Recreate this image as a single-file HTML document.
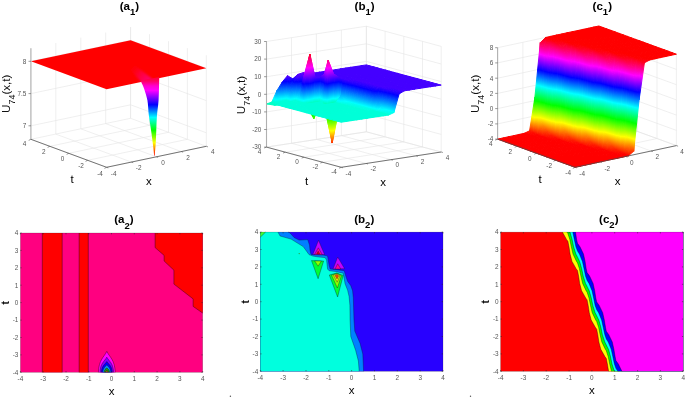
<!DOCTYPE html>
<html><head><meta charset="utf-8"><style>
html,body{margin:0;padding:0;background:#fff;}
svg{display:block;font-family:"Liberation Sans",sans-serif;will-change:transform;}
</style></head><body>
<svg width="685" height="398" viewBox="0 0 685 398">
<defs><linearGradient id="fun" gradientUnits="userSpaceOnUse" x1="0" y1="72" x2="0" y2="155.4"><stop offset="0.0000" stop-color="#ff0000"/><stop offset="0.1079" stop-color="#ff0060"/><stop offset="0.1679" stop-color="#ff00d0"/><stop offset="0.2218" stop-color="#ff00ff"/><stop offset="0.3921" stop-color="#0000ff"/><stop offset="0.5444" stop-color="#00ffff"/><stop offset="0.6966" stop-color="#00ff00"/><stop offset="0.8477" stop-color="#ffff00"/><stop offset="1.0000" stop-color="#ff0000"/></linearGradient><linearGradient id="str" gradientUnits="userSpaceOnUse" x1="130" y1="65" x2="148" y2="81"><stop offset="0" stop-color="#ff0000" stop-opacity="0"/><stop offset="0.5" stop-color="#ff0030"/><stop offset="1" stop-color="#ff0070"/></linearGradient><filter id="blr" x="-50%" y="-50%" width="200%" height="200%"><feGaussianBlur stdDeviation="1.3"/></filter><clipPath id="pcl"><polygon points="30.9,61.3 130.6,40.3 206.3,68.3 106.6,89.3"/></clipPath><linearGradient id="g1" gradientUnits="userSpaceOnUse" x1="307.2" y1="75.6" x2="303.2" y2="72.8"><stop offset="0.000" stop-color="#4400ff"/><stop offset="1.000" stop-color="#6400ff"/></linearGradient><linearGradient id="g2" gradientUnits="userSpaceOnUse" x1="302" y1="76.5" x2="302" y2="72.6"><stop offset="0.000" stop-color="#4400ff"/><stop offset="1.000" stop-color="#6400ff"/></linearGradient><linearGradient id="g3" gradientUnits="userSpaceOnUse" x1="302" y1="76.5" x2="301.4" y2="72.9"><stop offset="0.000" stop-color="#4400ff"/><stop offset="1.000" stop-color="#6400ff"/></linearGradient><linearGradient id="g4" gradientUnits="userSpaceOnUse" x1="292.7" y1="78.3" x2="298.6" y2="77"><stop offset="0.000" stop-color="#1800ff"/><stop offset="1.000" stop-color="#5600ff"/></linearGradient><linearGradient id="g5" gradientUnits="userSpaceOnUse" x1="296.7" y1="77.4" x2="296.4" y2="74.5"><stop offset="0.000" stop-color="#4200ff"/><stop offset="1.000" stop-color="#5600ff"/></linearGradient><linearGradient id="g6" gradientUnits="userSpaceOnUse" x1="306.2" y1="75.8" x2="305.9" y2="74"><stop offset="0.000" stop-color="#4400ff"/><stop offset="1.000" stop-color="#7f00ff"/></linearGradient><linearGradient id="g7" gradientUnits="userSpaceOnUse" x1="305.6" y1="75.2" x2="305.9" y2="74"><stop offset="0.000" stop-color="#4400ff"/><stop offset="1.000" stop-color="#7f00ff"/></linearGradient><linearGradient id="g8" gradientUnits="userSpaceOnUse" x1="324.6" y1="76.3" x2="324.3" y2="74.5"><stop offset="0.000" stop-color="#4400ff"/><stop offset="1.000" stop-color="#7f00ff"/></linearGradient><linearGradient id="g9" gradientUnits="userSpaceOnUse" x1="291.5" y1="85.9" x2="287.8" y2="75.6"><stop offset="0.000" stop-color="#003fff"/><stop offset="0.410" stop-color="#0000ff"/><stop offset="1.000" stop-color="#5a00ff"/></linearGradient><linearGradient id="g10" gradientUnits="userSpaceOnUse" x1="324" y1="75.7" x2="324.3" y2="74.5"><stop offset="0.000" stop-color="#4400ff"/><stop offset="1.000" stop-color="#7f00ff"/></linearGradient><linearGradient id="g11" gradientUnits="userSpaceOnUse" x1="291.5" y1="85.9" x2="296.6" y2="77.3"><stop offset="0.000" stop-color="#003fff"/><stop offset="0.487" stop-color="#0000ff"/><stop offset="1.000" stop-color="#4200ff"/></linearGradient><linearGradient id="g12" gradientUnits="userSpaceOnUse" x1="333.9" y1="76.6" x2="333.5" y2="73.9"><stop offset="0.000" stop-color="#4400ff"/><stop offset="1.000" stop-color="#8d00ff"/></linearGradient><linearGradient id="g13" gradientUnits="userSpaceOnUse" x1="300.7" y1="87.8" x2="299" y2="76.9"><stop offset="0.000" stop-color="#0059ff"/><stop offset="0.566" stop-color="#0000ff"/><stop offset="1.000" stop-color="#4400ff"/></linearGradient><linearGradient id="g14" gradientUnits="userSpaceOnUse" x1="333" y1="75.9" x2="333.5" y2="73.9"><stop offset="0.000" stop-color="#4400ff"/><stop offset="1.000" stop-color="#8d00ff"/></linearGradient><linearGradient id="g15" gradientUnits="userSpaceOnUse" x1="300.7" y1="87.8" x2="307.3" y2="74.7"><stop offset="0.000" stop-color="#0059ff"/><stop offset="0.412" stop-color="#0000ff"/><stop offset="1.000" stop-color="#7f00ff"/></linearGradient><linearGradient id="g16" gradientUnits="userSpaceOnUse" x1="312.2" y1="76.6" x2="309.9" y2="54.3"><stop offset="0.000" stop-color="#4400ff"/><stop offset="0.463" stop-color="#ff00ff"/><stop offset="1.000" stop-color="#ff0026"/></linearGradient><linearGradient id="g17" gradientUnits="userSpaceOnUse" x1="304.2" y1="74.9" x2="309.9" y2="54.3"><stop offset="0.000" stop-color="#4200ff"/><stop offset="0.465" stop-color="#ff00ff"/><stop offset="1.000" stop-color="#ff0026"/></linearGradient><linearGradient id="g18" gradientUnits="userSpaceOnUse" x1="319.1" y1="107" x2="314.6" y2="77.8"><stop offset="0.000" stop-color="#00ff6e"/><stop offset="0.309" stop-color="#00ffff"/><stop offset="0.854" stop-color="#0000ff"/><stop offset="1.000" stop-color="#4400ff"/></linearGradient><linearGradient id="g19" gradientUnits="userSpaceOnUse" x1="286.2" y1="100.3" x2="284.5" y2="75.9"><stop offset="0.000" stop-color="#00ffde"/><stop offset="0.088" stop-color="#00ffff"/><stop offset="0.762" stop-color="#0000ff"/><stop offset="1.000" stop-color="#5a00ff"/></linearGradient><linearGradient id="g20" gradientUnits="userSpaceOnUse" x1="319.1" y1="107" x2="329.6" y2="76.3"><stop offset="0.000" stop-color="#00ff6e"/><stop offset="0.275" stop-color="#00ffff"/><stop offset="0.759" stop-color="#0000ff"/><stop offset="1.000" stop-color="#7f00ff"/></linearGradient><linearGradient id="g21" gradientUnits="userSpaceOnUse" x1="286.2" y1="100.3" x2="287.9" y2="75.7"><stop offset="0.000" stop-color="#00ffde"/><stop offset="0.088" stop-color="#00ffff"/><stop offset="0.762" stop-color="#0000ff"/><stop offset="1.000" stop-color="#5a00ff"/></linearGradient><linearGradient id="g22" gradientUnits="userSpaceOnUse" x1="329.8" y1="77.2" x2="328.2" y2="60.4"><stop offset="0.000" stop-color="#4400ff"/><stop offset="0.602" stop-color="#ff00ff"/><stop offset="1.000" stop-color="#ff0084"/></linearGradient><linearGradient id="g23" gradientUnits="userSpaceOnUse" x1="295.4" y1="100.7" x2="294.8" y2="77.4"><stop offset="0.000" stop-color="#00ffdc"/><stop offset="0.098" stop-color="#00ffff"/><stop offset="0.814" stop-color="#0000ff"/><stop offset="1.000" stop-color="#4200ff"/></linearGradient><linearGradient id="g24" gradientUnits="userSpaceOnUse" x1="325.9" y1="76.7" x2="328.2" y2="60.4"><stop offset="0.000" stop-color="#4400ff"/><stop offset="0.602" stop-color="#ff00ff"/><stop offset="1.000" stop-color="#ff0084"/></linearGradient><linearGradient id="g25" gradientUnits="userSpaceOnUse" x1="295.4" y1="100.7" x2="296.7" y2="77.4"><stop offset="0.000" stop-color="#00ffdc"/><stop offset="0.098" stop-color="#00ffff"/><stop offset="0.814" stop-color="#0000ff"/><stop offset="1.000" stop-color="#4200ff"/></linearGradient><linearGradient id="g26" gradientUnits="userSpaceOnUse" x1="337.4" y1="116.3" x2="329.5" y2="74.6"><stop offset="0.000" stop-color="#24ff00"/><stop offset="0.052" stop-color="#00ff00"/><stop offset="0.423" stop-color="#00ffff"/><stop offset="0.794" stop-color="#0000ff"/><stop offset="1.000" stop-color="#8d00ff"/></linearGradient><linearGradient id="g27" gradientUnits="userSpaceOnUse" x1="309.5" y1="79.2" x2="304.6" y2="74.1"><stop offset="0.000" stop-color="#0059ff"/><stop offset="0.363" stop-color="#0000ff"/><stop offset="1.000" stop-color="#9c00ff"/></linearGradient><linearGradient id="g28" gradientUnits="userSpaceOnUse" x1="337.4" y1="116.3" x2="347.3" y2="79.8"><stop offset="0.000" stop-color="#24ff00"/><stop offset="0.059" stop-color="#00ff00"/><stop offset="0.474" stop-color="#00ffff"/><stop offset="0.889" stop-color="#0000ff"/><stop offset="1.000" stop-color="#4400ff"/></linearGradient><linearGradient id="g29" gradientUnits="userSpaceOnUse" x1="305.3" y1="74.7" x2="297.5" y2="67.5"><stop offset="0.000" stop-color="#7f00ff"/><stop offset="0.371" stop-color="#ff00ff"/><stop offset="1.000" stop-color="#ff0026"/></linearGradient><linearGradient id="g30" gradientUnits="userSpaceOnUse" x1="313.8" y1="118.4" x2="294.5" y2="59.3"><stop offset="0.000" stop-color="#41ff00"/><stop offset="0.062" stop-color="#00ff00"/><stop offset="0.306" stop-color="#00ffff"/><stop offset="0.549" stop-color="#0000ff"/><stop offset="0.793" stop-color="#ff00ff"/><stop offset="1.000" stop-color="#ff0026"/></linearGradient><linearGradient id="g31" gradientUnits="userSpaceOnUse" x1="281" y1="101.5" x2="281" y2="82"><stop offset="0.000" stop-color="#00ffd8"/><stop offset="0.135" stop-color="#00ffff"/><stop offset="1.000" stop-color="#0002ff"/></linearGradient><linearGradient id="g32" gradientUnits="userSpaceOnUse" x1="313.8" y1="118.4" x2="311.4" y2="78.1"><stop offset="0.000" stop-color="#41ff00"/><stop offset="0.102" stop-color="#00ff00"/><stop offset="0.499" stop-color="#00ffff"/><stop offset="0.897" stop-color="#0000ff"/><stop offset="1.000" stop-color="#4200ff"/></linearGradient><linearGradient id="g33" gradientUnits="userSpaceOnUse" x1="281" y1="101.5" x2="278.2" y2="82.6"><stop offset="0.000" stop-color="#00ffd8"/><stop offset="0.135" stop-color="#00ffff"/><stop offset="1.000" stop-color="#0002ff"/></linearGradient><linearGradient id="g34" gradientUnits="userSpaceOnUse" x1="320.3" y1="107.5" x2="333" y2="78.3"><stop offset="0.000" stop-color="#00ff6e"/><stop offset="0.275" stop-color="#00ffff"/><stop offset="0.759" stop-color="#0000ff"/><stop offset="1.000" stop-color="#7f00ff"/></linearGradient><linearGradient id="g35" gradientUnits="userSpaceOnUse" x1="290.1" y1="101.8" x2="294" y2="86.6"><stop offset="0.000" stop-color="#00ffd8"/><stop offset="0.170" stop-color="#00ffff"/><stop offset="1.000" stop-color="#003fff"/></linearGradient><linearGradient id="g36" gradientUnits="userSpaceOnUse" x1="323" y1="101.4" x2="343.9" y2="71.4"><stop offset="0.000" stop-color="#00ffdd"/><stop offset="0.051" stop-color="#00ffff"/><stop offset="0.433" stop-color="#0000ff"/><stop offset="0.815" stop-color="#ff00ff"/><stop offset="1.000" stop-color="#ff0084"/></linearGradient><linearGradient id="g37" gradientUnits="userSpaceOnUse" x1="290.1" y1="101.8" x2="287.9" y2="86.5"><stop offset="0.000" stop-color="#00ffd8"/><stop offset="0.170" stop-color="#00ffff"/><stop offset="1.000" stop-color="#003fff"/></linearGradient><linearGradient id="g38" gradientUnits="userSpaceOnUse" x1="332.2" y1="142.8" x2="314.9" y2="63.3"><stop offset="0.000" stop-color="#ff2f00"/><stop offset="0.154" stop-color="#ffff00"/><stop offset="0.343" stop-color="#00ff00"/><stop offset="0.531" stop-color="#00ffff"/><stop offset="0.720" stop-color="#0000ff"/><stop offset="0.909" stop-color="#ff00ff"/><stop offset="1.000" stop-color="#ff0084"/></linearGradient><linearGradient id="g39" gradientUnits="userSpaceOnUse" x1="299.3" y1="102" x2="302.9" y2="88.3"><stop offset="0.000" stop-color="#00ffd8"/><stop offset="0.192" stop-color="#00ffff"/><stop offset="1.000" stop-color="#0059ff"/></linearGradient><linearGradient id="g40" gradientUnits="userSpaceOnUse" x1="332.2" y1="142.8" x2="330.9" y2="73.9"><stop offset="0.000" stop-color="#ff2f00"/><stop offset="0.187" stop-color="#ffff00"/><stop offset="0.416" stop-color="#00ff00"/><stop offset="0.644" stop-color="#00ffff"/><stop offset="0.873" stop-color="#0000ff"/><stop offset="1.000" stop-color="#8d00ff"/></linearGradient><linearGradient id="g41" gradientUnits="userSpaceOnUse" x1="299.3" y1="102" x2="316" y2="90"><stop offset="0.000" stop-color="#00ffd8"/><stop offset="0.088" stop-color="#00ffff"/><stop offset="0.654" stop-color="#0000ff"/><stop offset="1.000" stop-color="#9c00ff"/></linearGradient><linearGradient id="g42" gradientUnits="userSpaceOnUse" x1="329.8" y1="100.7" x2="348.9" y2="91.4"><stop offset="0.000" stop-color="#24ff00"/><stop offset="0.059" stop-color="#00ff00"/><stop offset="0.475" stop-color="#00ffff"/><stop offset="0.891" stop-color="#0000ff"/><stop offset="1.000" stop-color="#4300ff"/></linearGradient><linearGradient id="g43" gradientUnits="userSpaceOnUse" x1="308.5" y1="108.6" x2="307.1" y2="54.4"><stop offset="0.000" stop-color="#00ff6e"/><stop offset="0.166" stop-color="#00ffff"/><stop offset="0.459" stop-color="#0000ff"/><stop offset="0.751" stop-color="#ff00ff"/><stop offset="1.000" stop-color="#ff0026"/></linearGradient><linearGradient id="g44" gradientUnits="userSpaceOnUse" x1="275.4" y1="103.3" x2="279.3" y2="91.2"><stop offset="0.000" stop-color="#00ffc9"/><stop offset="0.301" stop-color="#00ffff"/><stop offset="1.000" stop-color="#0081ff"/></linearGradient><linearGradient id="g45" gradientUnits="userSpaceOnUse" x1="341.4" y1="95.1" x2="345.4" y2="79.3"><stop offset="0.000" stop-color="#00afff"/><stop offset="0.724" stop-color="#0000ff"/><stop offset="1.000" stop-color="#4300ff"/></linearGradient><linearGradient id="g46" gradientUnits="userSpaceOnUse" x1="310.8" y1="119" x2="297.5" y2="56.9"><stop offset="0.000" stop-color="#41ff00"/><stop offset="0.062" stop-color="#00ff00"/><stop offset="0.306" stop-color="#00ffff"/><stop offset="0.549" stop-color="#0000ff"/><stop offset="0.793" stop-color="#ff00ff"/><stop offset="1.000" stop-color="#ff0026"/></linearGradient><linearGradient id="g47" gradientUnits="userSpaceOnUse" x1="275.7" y1="102.3" x2="274" y2="91"><stop offset="0.000" stop-color="#00ffd8"/><stop offset="0.239" stop-color="#00ffff"/><stop offset="1.000" stop-color="#0081ff"/></linearGradient><linearGradient id="g48" gradientUnits="userSpaceOnUse" x1="350.6" y1="82" x2="350.4" y2="78.9"><stop offset="0.000" stop-color="#2e00ff"/><stop offset="1.000" stop-color="#4400ff"/></linearGradient><linearGradient id="g49" gradientUnits="userSpaceOnUse" x1="323.4" y1="113.3" x2="317.7" y2="102.5"><stop offset="0.000" stop-color="#41ff00"/><stop offset="0.233" stop-color="#00ff00"/><stop offset="1.000" stop-color="#00ffd8"/></linearGradient><linearGradient id="g50" gradientUnits="userSpaceOnUse" x1="350.6" y1="82" x2="351.5" y2="78.7"><stop offset="0.000" stop-color="#2e00ff"/><stop offset="1.000" stop-color="#4400ff"/></linearGradient><linearGradient id="g51" gradientUnits="userSpaceOnUse" x1="318.5" y1="107.1" x2="317.7" y2="102.3"><stop offset="0.000" stop-color="#00ff6e"/><stop offset="1.000" stop-color="#00ffdd"/></linearGradient><linearGradient id="g52" gradientUnits="userSpaceOnUse" x1="326.9" y1="117.9" x2="334.1" y2="61.2"><stop offset="0.000" stop-color="#24ff00"/><stop offset="0.039" stop-color="#00ff00"/><stop offset="0.315" stop-color="#00ffff"/><stop offset="0.591" stop-color="#0000ff"/><stop offset="0.867" stop-color="#ff00ff"/><stop offset="1.000" stop-color="#ff0084"/></linearGradient><linearGradient id="g53" gradientUnits="userSpaceOnUse" x1="333.9" y1="142.3" x2="311.9" y2="65.1"><stop offset="0.000" stop-color="#ff2f00"/><stop offset="0.154" stop-color="#ffff00"/><stop offset="0.343" stop-color="#00ff00"/><stop offset="0.531" stop-color="#00ffff"/><stop offset="0.720" stop-color="#0000ff"/><stop offset="0.909" stop-color="#ff00ff"/><stop offset="1.000" stop-color="#ff0084"/></linearGradient><linearGradient id="g54" gradientUnits="userSpaceOnUse" x1="351.7" y1="132.5" x2="336.1" y2="102.9"><stop offset="0.000" stop-color="#ff2f00"/><stop offset="0.306" stop-color="#ffff00"/><stop offset="0.681" stop-color="#00ff00"/><stop offset="1.000" stop-color="#00ffd9"/></linearGradient><linearGradient id="g55" gradientUnits="userSpaceOnUse" x1="303.3" y1="103.1" x2="310.7" y2="75.7"><stop offset="0.000" stop-color="#00ffd8"/><stop offset="0.088" stop-color="#00ffff"/><stop offset="0.654" stop-color="#0000ff"/><stop offset="1.000" stop-color="#9c00ff"/></linearGradient><linearGradient id="g56" gradientUnits="userSpaceOnUse" x1="268.5" y1="106.2" x2="272.4" y2="102.8"><stop offset="0.000" stop-color="#00ffb7"/><stop offset="1.000" stop-color="#00ffc9"/></linearGradient><linearGradient id="g57" gradientUnits="userSpaceOnUse" x1="339.7" y1="115.7" x2="334.4" y2="97"><stop offset="0.000" stop-color="#24ff00"/><stop offset="0.097" stop-color="#00ff00"/><stop offset="0.785" stop-color="#00ffff"/><stop offset="1.000" stop-color="#00afff"/></linearGradient><linearGradient id="g58" gradientUnits="userSpaceOnUse" x1="304.7" y1="109.5" x2="297.2" y2="75.8"><stop offset="0.000" stop-color="#00ff6e"/><stop offset="0.261" stop-color="#00ffff"/><stop offset="0.719" stop-color="#0000ff"/><stop offset="1.000" stop-color="#9c00ff"/></linearGradient><linearGradient id="g59" gradientUnits="userSpaceOnUse" x1="270.4" y1="104.5" x2="275.7" y2="102.3"><stop offset="0.000" stop-color="#00ffc0"/><stop offset="1.000" stop-color="#00ffd8"/></linearGradient><linearGradient id="g60" gradientUnits="userSpaceOnUse" x1="345.3" y1="100.4" x2="348.3" y2="80.3"><stop offset="0.000" stop-color="#00f7ff"/><stop offset="0.801" stop-color="#0000ff"/><stop offset="1.000" stop-color="#3d00ff"/></linearGradient><linearGradient id="g61" gradientUnits="userSpaceOnUse" x1="311.3" y1="118.2" x2="312.5" y2="103.3"><stop offset="0.000" stop-color="#41ff00"/><stop offset="0.233" stop-color="#00ff00"/><stop offset="1.000" stop-color="#00ffd8"/></linearGradient><linearGradient id="g62" gradientUnits="userSpaceOnUse" x1="345.3" y1="100.4" x2="350.1" y2="80.9"><stop offset="0.000" stop-color="#00f7ff"/><stop offset="0.801" stop-color="#0000ff"/><stop offset="1.000" stop-color="#3d00ff"/></linearGradient><linearGradient id="g63" gradientUnits="userSpaceOnUse" x1="314.8" y1="118.2" x2="312.5" y2="103.3"><stop offset="0.000" stop-color="#41ff00"/><stop offset="0.233" stop-color="#00ff00"/><stop offset="1.000" stop-color="#00ffd8"/></linearGradient><linearGradient id="g64" gradientUnits="userSpaceOnUse" x1="354.5" y1="84" x2="354.8" y2="79.8"><stop offset="0.000" stop-color="#1e00ff"/><stop offset="1.000" stop-color="#4400ff"/></linearGradient><linearGradient id="g65" gradientUnits="userSpaceOnUse" x1="354.5" y1="84" x2="355.6" y2="79.8"><stop offset="0.000" stop-color="#1e00ff"/><stop offset="1.000" stop-color="#4400ff"/></linearGradient><linearGradient id="g66" gradientUnits="userSpaceOnUse" x1="331.9" y1="111.4" x2="321.4" y2="103.4"><stop offset="0.000" stop-color="#24ff00"/><stop offset="0.140" stop-color="#00ff00"/><stop offset="1.000" stop-color="#00ffdd"/></linearGradient><linearGradient id="g67" gradientUnits="userSpaceOnUse" x1="327.6" y1="142.4" x2="330.9" y2="103.8"><stop offset="0.000" stop-color="#ff2f00"/><stop offset="0.307" stop-color="#ffff00"/><stop offset="0.682" stop-color="#00ff00"/><stop offset="1.000" stop-color="#00ffd8"/></linearGradient><linearGradient id="g68" gradientUnits="userSpaceOnUse" x1="336.8" y1="142.1" x2="330.8" y2="103.8"><stop offset="0.000" stop-color="#ff2f00"/><stop offset="0.306" stop-color="#ffff00"/><stop offset="0.681" stop-color="#00ff00"/><stop offset="1.000" stop-color="#00ffd9"/></linearGradient><linearGradient id="g69" gradientUnits="userSpaceOnUse" x1="340.1" y1="104.1" x2="342.4" y2="95.3"><stop offset="0.000" stop-color="#00ffd8"/><stop offset="0.328" stop-color="#00ffff"/><stop offset="1.000" stop-color="#00afff"/></linearGradient><linearGradient id="g70" gradientUnits="userSpaceOnUse" x1="306.2" y1="108" x2="307.2" y2="104.1"><stop offset="0.000" stop-color="#00ff6e"/><stop offset="1.000" stop-color="#00ffd8"/></linearGradient><linearGradient id="g71" gradientUnits="userSpaceOnUse" x1="273.9" y1="106.2" x2="275.8" y2="102.3"><stop offset="0.000" stop-color="#00ffc0"/><stop offset="1.000" stop-color="#00ffd8"/></linearGradient><linearGradient id="g72" gradientUnits="userSpaceOnUse" x1="340.1" y1="104.1" x2="339.9" y2="95.1"><stop offset="0.000" stop-color="#00ffd8"/><stop offset="0.328" stop-color="#00ffff"/><stop offset="1.000" stop-color="#00afff"/></linearGradient><linearGradient id="g73" gradientUnits="userSpaceOnUse" x1="307.9" y1="108.7" x2="307.2" y2="104.1"><stop offset="0.000" stop-color="#00ff6e"/><stop offset="1.000" stop-color="#00ffd8"/></linearGradient><linearGradient id="g74" gradientUnits="userSpaceOnUse" x1="274.4" y1="105.2" x2="275.2" y2="102.2"><stop offset="0.000" stop-color="#00ffc6"/><stop offset="1.000" stop-color="#00ffd8"/></linearGradient><linearGradient id="g75" gradientUnits="userSpaceOnUse" x1="349.3" y1="102.7" x2="353.9" y2="82.8"><stop offset="0.000" stop-color="#00fff3"/><stop offset="0.037" stop-color="#00ffff"/><stop offset="0.852" stop-color="#0000ff"/><stop offset="1.000" stop-color="#2e00ff"/></linearGradient><linearGradient id="g76" gradientUnits="userSpaceOnUse" x1="349.3" y1="102.7" x2="354" y2="82.8"><stop offset="0.000" stop-color="#00fff3"/><stop offset="0.037" stop-color="#00ffff"/><stop offset="0.852" stop-color="#0000ff"/><stop offset="1.000" stop-color="#2e00ff"/></linearGradient><linearGradient id="g77" gradientUnits="userSpaceOnUse" x1="358.4" y1="85.6" x2="359.3" y2="80.9"><stop offset="0.000" stop-color="#1600ff"/><stop offset="1.000" stop-color="#4400ff"/></linearGradient><linearGradient id="g78" gradientUnits="userSpaceOnUse" x1="322.4" y1="116.7" x2="325.6" y2="104.7"><stop offset="0.000" stop-color="#24ff00"/><stop offset="0.143" stop-color="#00ff00"/><stop offset="1.000" stop-color="#00ffd8"/></linearGradient><linearGradient id="g79" gradientUnits="userSpaceOnUse" x1="358.4" y1="85.6" x2="359.7" y2="80.9"><stop offset="0.000" stop-color="#1600ff"/><stop offset="1.000" stop-color="#4400ff"/></linearGradient><linearGradient id="g80" gradientUnits="userSpaceOnUse" x1="327.6" y1="117.8" x2="325.6" y2="104.7"><stop offset="0.000" stop-color="#24ff00"/><stop offset="0.143" stop-color="#00ff00"/><stop offset="1.000" stop-color="#00ffd8"/></linearGradient><linearGradient id="g81" gradientUnits="userSpaceOnUse" x1="344" y1="105.2" x2="345.3" y2="100.4"><stop offset="0.000" stop-color="#00ffd8"/><stop offset="0.823" stop-color="#00ffff"/><stop offset="1.000" stop-color="#00f7ff"/></linearGradient><linearGradient id="g82" gradientUnits="userSpaceOnUse" x1="275.7" y1="103.4" x2="278.3" y2="105.2"><stop offset="0.000" stop-color="#00ffc6"/><stop offset="1.000" stop-color="#00ffd8"/></linearGradient><linearGradient id="g83" gradientUnits="userSpaceOnUse" x1="344" y1="105.2" x2="344.3" y2="100.4"><stop offset="0.000" stop-color="#00ffd8"/><stop offset="0.823" stop-color="#00ffff"/><stop offset="1.000" stop-color="#00f7ff"/></linearGradient><linearGradient id="g84" gradientUnits="userSpaceOnUse" x1="353.2" y1="104.1" x2="358.2" y2="85"><stop offset="0.000" stop-color="#00ffee"/><stop offset="0.056" stop-color="#00ffff"/><stop offset="0.900" stop-color="#0000ff"/><stop offset="1.000" stop-color="#1e00ff"/></linearGradient><linearGradient id="g85" gradientUnits="userSpaceOnUse" x1="353.2" y1="104.1" x2="358.1" y2="84.9"><stop offset="0.000" stop-color="#00ffee"/><stop offset="0.056" stop-color="#00ffff"/><stop offset="0.900" stop-color="#0000ff"/><stop offset="1.000" stop-color="#1e00ff"/></linearGradient><linearGradient id="g86" gradientUnits="userSpaceOnUse" x1="362.4" y1="86.8" x2="363.5" y2="82"><stop offset="0.000" stop-color="#1300ff"/><stop offset="1.000" stop-color="#4400ff"/></linearGradient><linearGradient id="g87" gradientUnits="userSpaceOnUse" x1="362.4" y1="86.8" x2="363.7" y2="82"><stop offset="0.000" stop-color="#1300ff"/><stop offset="1.000" stop-color="#4400ff"/></linearGradient><linearGradient id="g88" gradientUnits="userSpaceOnUse" x1="347.9" y1="106.2" x2="348.9" y2="102.6"><stop offset="0.000" stop-color="#00ffd8"/><stop offset="1.000" stop-color="#00fff3"/></linearGradient><linearGradient id="g89" gradientUnits="userSpaceOnUse" x1="347.9" y1="106.2" x2="348.6" y2="102.6"><stop offset="0.000" stop-color="#00ffd8"/><stop offset="1.000" stop-color="#00fff3"/></linearGradient><linearGradient id="g90" gradientUnits="userSpaceOnUse" x1="357.1" y1="105.2" x2="362.1" y2="86.6"><stop offset="0.000" stop-color="#00ffed"/><stop offset="0.062" stop-color="#00ffff"/><stop offset="0.925" stop-color="#0000ff"/><stop offset="1.000" stop-color="#1600ff"/></linearGradient><linearGradient id="g91" gradientUnits="userSpaceOnUse" x1="357.1" y1="105.2" x2="362.1" y2="86.5"><stop offset="0.000" stop-color="#00ffed"/><stop offset="0.062" stop-color="#00ffff"/><stop offset="0.925" stop-color="#0000ff"/><stop offset="1.000" stop-color="#1600ff"/></linearGradient><linearGradient id="g92" gradientUnits="userSpaceOnUse" x1="366.3" y1="88.1" x2="367.5" y2="83.1"><stop offset="0.000" stop-color="#0f00ff"/><stop offset="1.000" stop-color="#4400ff"/></linearGradient><linearGradient id="g93" gradientUnits="userSpaceOnUse" x1="366.3" y1="88.1" x2="367.7" y2="83.1"><stop offset="0.000" stop-color="#0f00ff"/><stop offset="1.000" stop-color="#4400ff"/></linearGradient><linearGradient id="g94" gradientUnits="userSpaceOnUse" x1="351.9" y1="107.3" x2="352.8" y2="103.9"><stop offset="0.000" stop-color="#00ffd8"/><stop offset="1.000" stop-color="#00ffee"/></linearGradient><linearGradient id="g95" gradientUnits="userSpaceOnUse" x1="351.9" y1="107.3" x2="352.6" y2="103.9"><stop offset="0.000" stop-color="#00ffd8"/><stop offset="1.000" stop-color="#00ffee"/></linearGradient><linearGradient id="g96" gradientUnits="userSpaceOnUse" x1="361.1" y1="106.4" x2="366" y2="87.8"><stop offset="0.000" stop-color="#00ffeb"/><stop offset="0.068" stop-color="#00ffff"/><stop offset="0.936" stop-color="#0000ff"/><stop offset="1.000" stop-color="#1300ff"/></linearGradient><linearGradient id="g97" gradientUnits="userSpaceOnUse" x1="361.1" y1="106.4" x2="366" y2="87.8"><stop offset="0.000" stop-color="#00ffeb"/><stop offset="0.068" stop-color="#00ffff"/><stop offset="0.936" stop-color="#0000ff"/><stop offset="1.000" stop-color="#1300ff"/></linearGradient><linearGradient id="g98" gradientUnits="userSpaceOnUse" x1="370.3" y1="89.5" x2="371.5" y2="84.1"><stop offset="0.000" stop-color="#0b00ff"/><stop offset="1.000" stop-color="#4400ff"/></linearGradient><linearGradient id="g99" gradientUnits="userSpaceOnUse" x1="370.3" y1="89.5" x2="371.7" y2="84.2"><stop offset="0.000" stop-color="#0b00ff"/><stop offset="1.000" stop-color="#4400ff"/></linearGradient><linearGradient id="g100" gradientUnits="userSpaceOnUse" x1="355.8" y1="108.3" x2="356.7" y2="105.1"><stop offset="0.000" stop-color="#00ffd8"/><stop offset="1.000" stop-color="#00ffed"/></linearGradient><linearGradient id="g101" gradientUnits="userSpaceOnUse" x1="355.8" y1="108.3" x2="356.6" y2="105.1"><stop offset="0.000" stop-color="#00ffd8"/><stop offset="1.000" stop-color="#00ffed"/></linearGradient><linearGradient id="g102" gradientUnits="userSpaceOnUse" x1="365" y1="107.5" x2="369.9" y2="89.1"><stop offset="0.000" stop-color="#00ffe9"/><stop offset="0.074" stop-color="#00ffff"/><stop offset="0.948" stop-color="#0000ff"/><stop offset="1.000" stop-color="#0f00ff"/></linearGradient><linearGradient id="g103" gradientUnits="userSpaceOnUse" x1="365" y1="107.5" x2="369.8" y2="89"><stop offset="0.000" stop-color="#00ffe9"/><stop offset="0.074" stop-color="#00ffff"/><stop offset="0.948" stop-color="#0000ff"/><stop offset="1.000" stop-color="#0f00ff"/></linearGradient><linearGradient id="g104" gradientUnits="userSpaceOnUse" x1="374.2" y1="90.8" x2="375.5" y2="85.2"><stop offset="0.000" stop-color="#0500ff"/><stop offset="1.000" stop-color="#4400ff"/></linearGradient><linearGradient id="g105" gradientUnits="userSpaceOnUse" x1="374.2" y1="90.8" x2="375.7" y2="85.3"><stop offset="0.000" stop-color="#0500ff"/><stop offset="1.000" stop-color="#4400ff"/></linearGradient><linearGradient id="g106" gradientUnits="userSpaceOnUse" x1="359.7" y1="109.4" x2="360.6" y2="106.3"><stop offset="0.000" stop-color="#00ffd8"/><stop offset="1.000" stop-color="#00ffeb"/></linearGradient><linearGradient id="g107" gradientUnits="userSpaceOnUse" x1="359.7" y1="109.4" x2="360.4" y2="106.2"><stop offset="0.000" stop-color="#00ffd8"/><stop offset="1.000" stop-color="#00ffeb"/></linearGradient><linearGradient id="g108" gradientUnits="userSpaceOnUse" x1="368.9" y1="108.7" x2="373.8" y2="90.4"><stop offset="0.000" stop-color="#00ffe8"/><stop offset="0.081" stop-color="#00ffff"/><stop offset="0.964" stop-color="#0000ff"/><stop offset="1.000" stop-color="#0b00ff"/></linearGradient><linearGradient id="g109" gradientUnits="userSpaceOnUse" x1="368.9" y1="108.7" x2="373.7" y2="90.4"><stop offset="0.000" stop-color="#00ffe8"/><stop offset="0.081" stop-color="#00ffff"/><stop offset="0.964" stop-color="#0000ff"/><stop offset="1.000" stop-color="#0b00ff"/></linearGradient><linearGradient id="g110" gradientUnits="userSpaceOnUse" x1="378.1" y1="99.4" x2="377.6" y2="86.4"><stop offset="0.000" stop-color="#0077ff"/><stop offset="0.638" stop-color="#0000ff"/><stop offset="1.000" stop-color="#4400ff"/></linearGradient><linearGradient id="g111" gradientUnits="userSpaceOnUse" x1="378.1" y1="99.4" x2="381.4" y2="86.8"><stop offset="0.000" stop-color="#0077ff"/><stop offset="0.638" stop-color="#0000ff"/><stop offset="1.000" stop-color="#4400ff"/></linearGradient><linearGradient id="g112" gradientUnits="userSpaceOnUse" x1="387.3" y1="89.2" x2="387.2" y2="86.6"><stop offset="0.000" stop-color="#3700ff"/><stop offset="1.000" stop-color="#4400ff"/></linearGradient><linearGradient id="g113" gradientUnits="userSpaceOnUse" x1="387.3" y1="89.2" x2="388.1" y2="86.4"><stop offset="0.000" stop-color="#3700ff"/><stop offset="1.000" stop-color="#4400ff"/></linearGradient><linearGradient id="g114" gradientUnits="userSpaceOnUse" x1="363.7" y1="110.5" x2="364.5" y2="107.4"><stop offset="0.000" stop-color="#00ffd8"/><stop offset="1.000" stop-color="#00ffe9"/></linearGradient><linearGradient id="g115" gradientUnits="userSpaceOnUse" x1="363.7" y1="110.5" x2="364.4" y2="107.4"><stop offset="0.000" stop-color="#00ffd8"/><stop offset="1.000" stop-color="#00ffe9"/></linearGradient><linearGradient id="g116" gradientUnits="userSpaceOnUse" x1="372.9" y1="110.5" x2="377.5" y2="91.6"><stop offset="0.000" stop-color="#00ffdb"/><stop offset="0.122" stop-color="#00ffff"/><stop offset="0.982" stop-color="#0000ff"/><stop offset="1.000" stop-color="#0500ff"/></linearGradient><linearGradient id="g117" gradientUnits="userSpaceOnUse" x1="372.9" y1="110.5" x2="374.1" y2="90.8"><stop offset="0.000" stop-color="#00ffdb"/><stop offset="0.122" stop-color="#00ffff"/><stop offset="0.982" stop-color="#0000ff"/><stop offset="1.000" stop-color="#0500ff"/></linearGradient><linearGradient id="g118" gradientUnits="userSpaceOnUse" x1="382.1" y1="106.5" x2="383.8" y2="87.6"><stop offset="0.000" stop-color="#00dcff"/><stop offset="0.773" stop-color="#0000ff"/><stop offset="1.000" stop-color="#4100ff"/></linearGradient><linearGradient id="g119" gradientUnits="userSpaceOnUse" x1="382.1" y1="106.5" x2="386.6" y2="88.4"><stop offset="0.000" stop-color="#00dcff"/><stop offset="0.773" stop-color="#0000ff"/><stop offset="1.000" stop-color="#4100ff"/></linearGradient><linearGradient id="g120" gradientUnits="userSpaceOnUse" x1="391.3" y1="91.1" x2="391.3" y2="87.6"><stop offset="0.000" stop-color="#2800ff"/><stop offset="1.000" stop-color="#4400ff"/></linearGradient><linearGradient id="g121" gradientUnits="userSpaceOnUse" x1="391.3" y1="91.1" x2="392.2" y2="87.5"><stop offset="0.000" stop-color="#2800ff"/><stop offset="1.000" stop-color="#4400ff"/></linearGradient><linearGradient id="g122" gradientUnits="userSpaceOnUse" x1="367.6" y1="111.5" x2="368.4" y2="108.6"><stop offset="0.000" stop-color="#00ffd8"/><stop offset="1.000" stop-color="#00ffe8"/></linearGradient><linearGradient id="g123" gradientUnits="userSpaceOnUse" x1="367.6" y1="111.5" x2="367.4" y2="108.8"><stop offset="0.000" stop-color="#00ffd8"/><stop offset="1.000" stop-color="#00ffe8"/></linearGradient><linearGradient id="g124" gradientUnits="userSpaceOnUse" x1="376.8" y1="111.8" x2="379.9" y2="99.8"><stop offset="0.000" stop-color="#00ffd8"/><stop offset="0.221" stop-color="#00ffff"/><stop offset="1.000" stop-color="#0077ff"/></linearGradient><linearGradient id="g125" gradientUnits="userSpaceOnUse" x1="376.8" y1="111.8" x2="376.8" y2="99.4"><stop offset="0.000" stop-color="#00ffd8"/><stop offset="0.221" stop-color="#00ffff"/><stop offset="1.000" stop-color="#0077ff"/></linearGradient><linearGradient id="g126" gradientUnits="userSpaceOnUse" x1="386" y1="109.8" x2="390.1" y2="89.7"><stop offset="0.000" stop-color="#00fffd"/><stop offset="0.005" stop-color="#00ffff"/><stop offset="0.823" stop-color="#0000ff"/><stop offset="1.000" stop-color="#3700ff"/></linearGradient><linearGradient id="g127" gradientUnits="userSpaceOnUse" x1="386" y1="109.8" x2="390.8" y2="90"><stop offset="0.000" stop-color="#00fffd"/><stop offset="0.005" stop-color="#00ffff"/><stop offset="0.823" stop-color="#0000ff"/><stop offset="1.000" stop-color="#3700ff"/></linearGradient><linearGradient id="g128" gradientUnits="userSpaceOnUse" x1="395.2" y1="92.6" x2="395.9" y2="88.5"><stop offset="0.000" stop-color="#2100ff"/><stop offset="1.000" stop-color="#4400ff"/></linearGradient><linearGradient id="g129" gradientUnits="userSpaceOnUse" x1="395.2" y1="92.6" x2="396.3" y2="88.6"><stop offset="0.000" stop-color="#2100ff"/><stop offset="1.000" stop-color="#4400ff"/></linearGradient><linearGradient id="g130" gradientUnits="userSpaceOnUse" x1="380.7" y1="112.8" x2="382.4" y2="106.6"><stop offset="0.000" stop-color="#00ffd8"/><stop offset="0.524" stop-color="#00ffff"/><stop offset="1.000" stop-color="#00dcff"/></linearGradient><linearGradient id="g131" gradientUnits="userSpaceOnUse" x1="380.7" y1="112.8" x2="380.9" y2="106.5"><stop offset="0.000" stop-color="#00ffd8"/><stop offset="0.524" stop-color="#00ffff"/><stop offset="1.000" stop-color="#00dcff"/></linearGradient><linearGradient id="g132" gradientUnits="userSpaceOnUse" x1="389.9" y1="111.3" x2="394.9" y2="92"><stop offset="0.000" stop-color="#00fff6"/><stop offset="0.031" stop-color="#00ffff"/><stop offset="0.868" stop-color="#0000ff"/><stop offset="1.000" stop-color="#2800ff"/></linearGradient><linearGradient id="g133" gradientUnits="userSpaceOnUse" x1="389.9" y1="111.3" x2="394.9" y2="92"><stop offset="0.000" stop-color="#00fff6"/><stop offset="0.031" stop-color="#00ffff"/><stop offset="0.868" stop-color="#0000ff"/><stop offset="1.000" stop-color="#2800ff"/></linearGradient><linearGradient id="g134" gradientUnits="userSpaceOnUse" x1="399.1" y1="93.9" x2="400.1" y2="89.6"><stop offset="0.000" stop-color="#1d00ff"/><stop offset="1.000" stop-color="#4400ff"/></linearGradient><linearGradient id="g135" gradientUnits="userSpaceOnUse" x1="399.1" y1="93.9" x2="400.3" y2="89.7"><stop offset="0.000" stop-color="#1d00ff"/><stop offset="1.000" stop-color="#4400ff"/></linearGradient><linearGradient id="g136" gradientUnits="userSpaceOnUse" x1="384.7" y1="113.9" x2="385.8" y2="109.7"><stop offset="0.000" stop-color="#00ffd8"/><stop offset="1.000" stop-color="#00fffd"/></linearGradient><linearGradient id="g137" gradientUnits="userSpaceOnUse" x1="384.7" y1="113.9" x2="385.4" y2="109.7"><stop offset="0.000" stop-color="#00ffd8"/><stop offset="1.000" stop-color="#00fffd"/></linearGradient><linearGradient id="g138" gradientUnits="userSpaceOnUse" x1="393.9" y1="112.6" x2="398.9" y2="93.6"><stop offset="0.000" stop-color="#00fff2"/><stop offset="0.042" stop-color="#00ffff"/><stop offset="0.890" stop-color="#0000ff"/><stop offset="1.000" stop-color="#2100ff"/></linearGradient><linearGradient id="g139" gradientUnits="userSpaceOnUse" x1="393.9" y1="112.6" x2="398.9" y2="93.6"><stop offset="0.000" stop-color="#00fff2"/><stop offset="0.042" stop-color="#00ffff"/><stop offset="0.890" stop-color="#0000ff"/><stop offset="1.000" stop-color="#2100ff"/></linearGradient><linearGradient id="g140" gradientUnits="userSpaceOnUse" x1="388.6" y1="115" x2="389.6" y2="111.2"><stop offset="0.000" stop-color="#00ffd8"/><stop offset="1.000" stop-color="#00fff6"/></linearGradient><linearGradient id="g141" gradientUnits="userSpaceOnUse" x1="388.6" y1="115" x2="389.4" y2="111.2"><stop offset="0.000" stop-color="#00ffd8"/><stop offset="1.000" stop-color="#00fff6"/></linearGradient><linearGradient id="g142" gradientUnits="userSpaceOnUse" x1="544.3" y1="49.6" x2="544.3" y2="37.5"><stop offset="0.000" stop-color="#ff009f"/><stop offset="1.000" stop-color="#ff0002"/></linearGradient><linearGradient id="g143" gradientUnits="userSpaceOnUse" x1="544.3" y1="49.6" x2="548.2" y2="38.5"><stop offset="0.000" stop-color="#ff009f"/><stop offset="1.000" stop-color="#ff0002"/></linearGradient><linearGradient id="g144" gradientUnits="userSpaceOnUse" x1="553.7" y1="41.1" x2="553.7" y2="37.8"><stop offset="0.000" stop-color="#ff000c"/><stop offset="1.000" stop-color="#ff0000"/></linearGradient><linearGradient id="g145" gradientUnits="userSpaceOnUse" x1="553.7" y1="41.1" x2="554.9" y2="37.7"><stop offset="0.000" stop-color="#ff000c"/><stop offset="1.000" stop-color="#ff0000"/></linearGradient><linearGradient id="g146" gradientUnits="userSpaceOnUse" x1="539" y1="114.9" x2="553" y2="45.3"><stop offset="0.000" stop-color="#d6ff00"/><stop offset="0.184" stop-color="#00ff00"/><stop offset="0.403" stop-color="#00ffff"/><stop offset="0.622" stop-color="#0000ff"/><stop offset="0.841" stop-color="#ff00ff"/><stop offset="1.000" stop-color="#ff0045"/></linearGradient><linearGradient id="g147" gradientUnits="userSpaceOnUse" x1="539" y1="114.9" x2="559.4" y2="48.6"><stop offset="0.000" stop-color="#d6ff00"/><stop offset="0.184" stop-color="#00ff00"/><stop offset="0.403" stop-color="#00ffff"/><stop offset="0.622" stop-color="#0000ff"/><stop offset="0.841" stop-color="#ff00ff"/><stop offset="1.000" stop-color="#ff0045"/></linearGradient><linearGradient id="g148" gradientUnits="userSpaceOnUse" x1="548.4" y1="61.8" x2="548.8" y2="39.2"><stop offset="0.000" stop-color="#ab00ff"/><stop offset="0.251" stop-color="#ff00ff"/><stop offset="1.000" stop-color="#ff0005"/></linearGradient><linearGradient id="g149" gradientUnits="userSpaceOnUse" x1="548.4" y1="61.8" x2="555.6" y2="41.2"><stop offset="0.000" stop-color="#ab00ff"/><stop offset="0.251" stop-color="#ff00ff"/><stop offset="1.000" stop-color="#ff0005"/></linearGradient><linearGradient id="g150" gradientUnits="userSpaceOnUse" x1="557.8" y1="43.6" x2="557.8" y2="39.3"><stop offset="0.000" stop-color="#ff001d"/><stop offset="1.000" stop-color="#ff0000"/></linearGradient><linearGradient id="g151" gradientUnits="userSpaceOnUse" x1="557.8" y1="43.6" x2="559.3" y2="39.3"><stop offset="0.000" stop-color="#ff001d"/><stop offset="1.000" stop-color="#ff0000"/></linearGradient><linearGradient id="g152" gradientUnits="userSpaceOnUse" x1="533.7" y1="133.1" x2="544.8" y2="100.7"><stop offset="0.000" stop-color="#ff0a00"/><stop offset="0.440" stop-color="#ffff00"/><stop offset="0.899" stop-color="#00ff00"/><stop offset="1.000" stop-color="#00ff38"/></linearGradient><linearGradient id="g153" gradientUnits="userSpaceOnUse" x1="533.7" y1="133.1" x2="535.3" y2="97.3"><stop offset="0.000" stop-color="#ff0a00"/><stop offset="0.440" stop-color="#ffff00"/><stop offset="0.899" stop-color="#00ff00"/><stop offset="1.000" stop-color="#00ff38"/></linearGradient><linearGradient id="g154" gradientUnits="userSpaceOnUse" x1="543.1" y1="125.9" x2="562.4" y2="54.4"><stop offset="0.000" stop-color="#ff8900"/><stop offset="0.096" stop-color="#ffff00"/><stop offset="0.303" stop-color="#00ff00"/><stop offset="0.509" stop-color="#00ffff"/><stop offset="0.716" stop-color="#0000ff"/><stop offset="0.922" stop-color="#ff00ff"/><stop offset="1.000" stop-color="#ff009f"/></linearGradient><linearGradient id="g155" gradientUnits="userSpaceOnUse" x1="543.1" y1="125.9" x2="561.7" y2="54"><stop offset="0.000" stop-color="#ff8900"/><stop offset="0.096" stop-color="#ffff00"/><stop offset="0.303" stop-color="#00ff00"/><stop offset="0.509" stop-color="#00ffff"/><stop offset="0.716" stop-color="#0000ff"/><stop offset="0.922" stop-color="#ff00ff"/><stop offset="1.000" stop-color="#ff009f"/></linearGradient><linearGradient id="g156" gradientUnits="userSpaceOnUse" x1="552.5" y1="80.5" x2="554.6" y2="41.2"><stop offset="0.000" stop-color="#0076ff"/><stop offset="0.191" stop-color="#0000ff"/><stop offset="0.605" stop-color="#ff00ff"/><stop offset="1.000" stop-color="#ff000c"/></linearGradient><linearGradient id="g157" gradientUnits="userSpaceOnUse" x1="552.5" y1="80.5" x2="564.7" y2="44.9"><stop offset="0.000" stop-color="#0076ff"/><stop offset="0.191" stop-color="#0000ff"/><stop offset="0.605" stop-color="#ff00ff"/><stop offset="1.000" stop-color="#ff000c"/></linearGradient><linearGradient id="g158" gradientUnits="userSpaceOnUse" x1="561.9" y1="47.5" x2="561.8" y2="40.8"><stop offset="0.000" stop-color="#ff0045"/><stop offset="1.000" stop-color="#ff0001"/></linearGradient><linearGradient id="g159" gradientUnits="userSpaceOnUse" x1="561.9" y1="47.5" x2="564.1" y2="41.1"><stop offset="0.000" stop-color="#ff0045"/><stop offset="1.000" stop-color="#ff0001"/></linearGradient><linearGradient id="g160" gradientUnits="userSpaceOnUse" x1="528.3" y1="134.9" x2="529.8" y2="130.8"><stop offset="0.000" stop-color="#ff0000"/><stop offset="1.000" stop-color="#ff1900"/></linearGradient><linearGradient id="g161" gradientUnits="userSpaceOnUse" x1="528.3" y1="134.9" x2="528.3" y2="130.8"><stop offset="0.000" stop-color="#ff0000"/><stop offset="1.000" stop-color="#ff1900"/></linearGradient><linearGradient id="g162" gradientUnits="userSpaceOnUse" x1="537.7" y1="135" x2="544.1" y2="116.7"><stop offset="0.000" stop-color="#ff0400"/><stop offset="0.859" stop-color="#ffff00"/><stop offset="1.000" stop-color="#d6ff00"/></linearGradient><linearGradient id="g163" gradientUnits="userSpaceOnUse" x1="537.7" y1="135" x2="538" y2="114.9"><stop offset="0.000" stop-color="#ff0400"/><stop offset="0.859" stop-color="#ffff00"/><stop offset="1.000" stop-color="#d6ff00"/></linearGradient><linearGradient id="g164" gradientUnits="userSpaceOnUse" x1="547.2" y1="132" x2="567.3" y2="67.7"><stop offset="0.000" stop-color="#ff3b00"/><stop offset="0.173" stop-color="#ffff00"/><stop offset="0.398" stop-color="#00ff00"/><stop offset="0.624" stop-color="#00ffff"/><stop offset="0.849" stop-color="#0000ff"/><stop offset="1.000" stop-color="#ab00ff"/></linearGradient><linearGradient id="g165" gradientUnits="userSpaceOnUse" x1="547.2" y1="132" x2="559.8" y2="63.9"><stop offset="0.000" stop-color="#ff3b00"/><stop offset="0.173" stop-color="#ffff00"/><stop offset="0.398" stop-color="#00ff00"/><stop offset="0.624" stop-color="#00ffff"/><stop offset="0.849" stop-color="#0000ff"/><stop offset="1.000" stop-color="#ab00ff"/></linearGradient><linearGradient id="g166" gradientUnits="userSpaceOnUse" x1="556.6" y1="102.1" x2="563.5" y2="44.3"><stop offset="0.000" stop-color="#00ff38"/><stop offset="0.213" stop-color="#00ffff"/><stop offset="0.486" stop-color="#0000ff"/><stop offset="0.758" stop-color="#ff00ff"/><stop offset="1.000" stop-color="#ff001d"/></linearGradient><linearGradient id="g167" gradientUnits="userSpaceOnUse" x1="556.6" y1="102.1" x2="574.2" y2="49"><stop offset="0.000" stop-color="#00ff38"/><stop offset="0.213" stop-color="#00ffff"/><stop offset="0.486" stop-color="#0000ff"/><stop offset="0.758" stop-color="#ff00ff"/><stop offset="1.000" stop-color="#ff001d"/></linearGradient><linearGradient id="g168" gradientUnits="userSpaceOnUse" x1="566" y1="54.4" x2="565.9" y2="42.3"><stop offset="0.000" stop-color="#ff009f"/><stop offset="1.000" stop-color="#ff0002"/></linearGradient><linearGradient id="g169" gradientUnits="userSpaceOnUse" x1="566" y1="54.4" x2="569.9" y2="43.3"><stop offset="0.000" stop-color="#ff009f"/><stop offset="1.000" stop-color="#ff0002"/></linearGradient><linearGradient id="g170" gradientUnits="userSpaceOnUse" x1="532.4" y1="136.4" x2="533.6" y2="133.1"><stop offset="0.000" stop-color="#ff0000"/><stop offset="1.000" stop-color="#ff0a00"/></linearGradient><linearGradient id="g171" gradientUnits="userSpaceOnUse" x1="532.4" y1="136.4" x2="532.4" y2="133.1"><stop offset="0.000" stop-color="#ff0000"/><stop offset="1.000" stop-color="#ff0a00"/></linearGradient><linearGradient id="g172" gradientUnits="userSpaceOnUse" x1="575.4" y1="45.9" x2="575.3" y2="42.6"><stop offset="0.000" stop-color="#ff000c"/><stop offset="1.000" stop-color="#ff0000"/></linearGradient><linearGradient id="g173" gradientUnits="userSpaceOnUse" x1="575.4" y1="45.9" x2="576.6" y2="42.5"><stop offset="0.000" stop-color="#ff000c"/><stop offset="1.000" stop-color="#ff0000"/></linearGradient><linearGradient id="g174" gradientUnits="userSpaceOnUse" x1="541.8" y1="136.6" x2="545.3" y2="126.7"><stop offset="0.000" stop-color="#ff0200"/><stop offset="1.000" stop-color="#ff8900"/></linearGradient><linearGradient id="g175" gradientUnits="userSpaceOnUse" x1="541.8" y1="136.6" x2="541.8" y2="125.9"><stop offset="0.000" stop-color="#ff0200"/><stop offset="1.000" stop-color="#ff8900"/></linearGradient><linearGradient id="g176" gradientUnits="userSpaceOnUse" x1="551.2" y1="135.6" x2="567.9" y2="85.7"><stop offset="0.000" stop-color="#ff1900"/><stop offset="0.263" stop-color="#ffff00"/><stop offset="0.553" stop-color="#00ff00"/><stop offset="0.844" stop-color="#00ffff"/><stop offset="1.000" stop-color="#0076ff"/></linearGradient><linearGradient id="g177" gradientUnits="userSpaceOnUse" x1="551.2" y1="135.6" x2="557" y2="81"><stop offset="0.000" stop-color="#ff1900"/><stop offset="0.263" stop-color="#ffff00"/><stop offset="0.553" stop-color="#00ff00"/><stop offset="0.844" stop-color="#00ffff"/><stop offset="1.000" stop-color="#0076ff"/></linearGradient><linearGradient id="g178" gradientUnits="userSpaceOnUse" x1="560.6" y1="119.7" x2="574.6" y2="50"><stop offset="0.000" stop-color="#d6ff00"/><stop offset="0.184" stop-color="#00ff00"/><stop offset="0.403" stop-color="#00ffff"/><stop offset="0.622" stop-color="#0000ff"/><stop offset="0.841" stop-color="#ff00ff"/><stop offset="1.000" stop-color="#ff0045"/></linearGradient><linearGradient id="g179" gradientUnits="userSpaceOnUse" x1="560.6" y1="119.7" x2="581" y2="53.4"><stop offset="0.000" stop-color="#d6ff00"/><stop offset="0.184" stop-color="#00ff00"/><stop offset="0.403" stop-color="#00ffff"/><stop offset="0.622" stop-color="#0000ff"/><stop offset="0.841" stop-color="#ff00ff"/><stop offset="1.000" stop-color="#ff0045"/></linearGradient><linearGradient id="g180" gradientUnits="userSpaceOnUse" x1="570.1" y1="66.6" x2="570.4" y2="44"><stop offset="0.000" stop-color="#ab00ff"/><stop offset="0.251" stop-color="#ff00ff"/><stop offset="1.000" stop-color="#ff0005"/></linearGradient><linearGradient id="g181" gradientUnits="userSpaceOnUse" x1="570.1" y1="66.6" x2="577.2" y2="46"><stop offset="0.000" stop-color="#ab00ff"/><stop offset="0.251" stop-color="#ff00ff"/><stop offset="1.000" stop-color="#ff0005"/></linearGradient><linearGradient id="g182" gradientUnits="userSpaceOnUse" x1="579.5" y1="48.4" x2="579.4" y2="44.1"><stop offset="0.000" stop-color="#ff001d"/><stop offset="1.000" stop-color="#ff0000"/></linearGradient><linearGradient id="g183" gradientUnits="userSpaceOnUse" x1="579.5" y1="48.4" x2="581" y2="44.1"><stop offset="0.000" stop-color="#ff001d"/><stop offset="1.000" stop-color="#ff0000"/></linearGradient><linearGradient id="g184" gradientUnits="userSpaceOnUse" x1="545.9" y1="138.1" x2="548" y2="132.3"><stop offset="0.000" stop-color="#ff0100"/><stop offset="1.000" stop-color="#ff3b00"/></linearGradient><linearGradient id="g185" gradientUnits="userSpaceOnUse" x1="545.9" y1="138.1" x2="545.8" y2="132.1"><stop offset="0.000" stop-color="#ff0100"/><stop offset="1.000" stop-color="#ff3b00"/></linearGradient><linearGradient id="g186" gradientUnits="userSpaceOnUse" x1="555.3" y1="137.9" x2="566.5" y2="105.5"><stop offset="0.000" stop-color="#ff0a00"/><stop offset="0.440" stop-color="#ffff00"/><stop offset="0.899" stop-color="#00ff00"/><stop offset="1.000" stop-color="#00ff38"/></linearGradient><linearGradient id="g187" gradientUnits="userSpaceOnUse" x1="555.3" y1="137.9" x2="556.9" y2="102.1"><stop offset="0.000" stop-color="#ff0a00"/><stop offset="0.440" stop-color="#ffff00"/><stop offset="0.899" stop-color="#00ff00"/><stop offset="1.000" stop-color="#00ff38"/></linearGradient><linearGradient id="g188" gradientUnits="userSpaceOnUse" x1="564.7" y1="130.7" x2="584" y2="59.2"><stop offset="0.000" stop-color="#ff8900"/><stop offset="0.096" stop-color="#ffff00"/><stop offset="0.303" stop-color="#00ff00"/><stop offset="0.509" stop-color="#00ffff"/><stop offset="0.716" stop-color="#0000ff"/><stop offset="0.922" stop-color="#ff00ff"/><stop offset="1.000" stop-color="#ff009f"/></linearGradient><linearGradient id="g189" gradientUnits="userSpaceOnUse" x1="564.7" y1="130.7" x2="583.3" y2="58.8"><stop offset="0.000" stop-color="#ff8900"/><stop offset="0.096" stop-color="#ffff00"/><stop offset="0.303" stop-color="#00ff00"/><stop offset="0.509" stop-color="#00ffff"/><stop offset="0.716" stop-color="#0000ff"/><stop offset="0.922" stop-color="#ff00ff"/><stop offset="1.000" stop-color="#ff009f"/></linearGradient><linearGradient id="g190" gradientUnits="userSpaceOnUse" x1="574.1" y1="85.3" x2="576.3" y2="45.9"><stop offset="0.000" stop-color="#0076ff"/><stop offset="0.191" stop-color="#0000ff"/><stop offset="0.605" stop-color="#ff00ff"/><stop offset="1.000" stop-color="#ff000c"/></linearGradient><linearGradient id="g191" gradientUnits="userSpaceOnUse" x1="574.1" y1="85.3" x2="586.4" y2="49.7"><stop offset="0.000" stop-color="#0076ff"/><stop offset="0.191" stop-color="#0000ff"/><stop offset="0.605" stop-color="#ff00ff"/><stop offset="1.000" stop-color="#ff000c"/></linearGradient><linearGradient id="g192" gradientUnits="userSpaceOnUse" x1="583.5" y1="52.3" x2="583.5" y2="45.6"><stop offset="0.000" stop-color="#ff0045"/><stop offset="1.000" stop-color="#ff0001"/></linearGradient><linearGradient id="g193" gradientUnits="userSpaceOnUse" x1="583.5" y1="52.3" x2="585.8" y2="45.9"><stop offset="0.000" stop-color="#ff0045"/><stop offset="1.000" stop-color="#ff0001"/></linearGradient><linearGradient id="g194" gradientUnits="userSpaceOnUse" x1="550" y1="139.7" x2="551.4" y2="135.6"><stop offset="0.000" stop-color="#ff0000"/><stop offset="1.000" stop-color="#ff1900"/></linearGradient><linearGradient id="g195" gradientUnits="userSpaceOnUse" x1="550" y1="139.7" x2="549.9" y2="135.6"><stop offset="0.000" stop-color="#ff0000"/><stop offset="1.000" stop-color="#ff1900"/></linearGradient><linearGradient id="g196" gradientUnits="userSpaceOnUse" x1="559.4" y1="139.8" x2="565.8" y2="121.5"><stop offset="0.000" stop-color="#ff0400"/><stop offset="0.859" stop-color="#ffff00"/><stop offset="1.000" stop-color="#d6ff00"/></linearGradient><linearGradient id="g197" gradientUnits="userSpaceOnUse" x1="559.4" y1="139.8" x2="559.6" y2="119.7"><stop offset="0.000" stop-color="#ff0400"/><stop offset="0.859" stop-color="#ffff00"/><stop offset="1.000" stop-color="#d6ff00"/></linearGradient><linearGradient id="g198" gradientUnits="userSpaceOnUse" x1="568.8" y1="136.8" x2="589" y2="72.5"><stop offset="0.000" stop-color="#ff3b00"/><stop offset="0.173" stop-color="#ffff00"/><stop offset="0.398" stop-color="#00ff00"/><stop offset="0.624" stop-color="#00ffff"/><stop offset="0.849" stop-color="#0000ff"/><stop offset="1.000" stop-color="#ab00ff"/></linearGradient><linearGradient id="g199" gradientUnits="userSpaceOnUse" x1="568.8" y1="136.8" x2="581.4" y2="68.7"><stop offset="0.000" stop-color="#ff3b00"/><stop offset="0.173" stop-color="#ffff00"/><stop offset="0.398" stop-color="#00ff00"/><stop offset="0.624" stop-color="#00ffff"/><stop offset="0.849" stop-color="#0000ff"/><stop offset="1.000" stop-color="#ab00ff"/></linearGradient><linearGradient id="g200" gradientUnits="userSpaceOnUse" x1="578.2" y1="106.9" x2="585.1" y2="49.1"><stop offset="0.000" stop-color="#00ff38"/><stop offset="0.213" stop-color="#00ffff"/><stop offset="0.486" stop-color="#0000ff"/><stop offset="0.758" stop-color="#ff00ff"/><stop offset="1.000" stop-color="#ff001d"/></linearGradient><linearGradient id="g201" gradientUnits="userSpaceOnUse" x1="578.2" y1="106.9" x2="595.8" y2="53.8"><stop offset="0.000" stop-color="#00ff38"/><stop offset="0.213" stop-color="#00ffff"/><stop offset="0.486" stop-color="#0000ff"/><stop offset="0.758" stop-color="#ff00ff"/><stop offset="1.000" stop-color="#ff001d"/></linearGradient><linearGradient id="g202" gradientUnits="userSpaceOnUse" x1="587.6" y1="59.2" x2="587.6" y2="47.1"><stop offset="0.000" stop-color="#ff009f"/><stop offset="1.000" stop-color="#ff0002"/></linearGradient><linearGradient id="g203" gradientUnits="userSpaceOnUse" x1="587.6" y1="59.2" x2="591.5" y2="48"><stop offset="0.000" stop-color="#ff009f"/><stop offset="1.000" stop-color="#ff0002"/></linearGradient><linearGradient id="g204" gradientUnits="userSpaceOnUse" x1="554.1" y1="141.1" x2="555.2" y2="137.9"><stop offset="0.000" stop-color="#ff0000"/><stop offset="1.000" stop-color="#ff0a00"/></linearGradient><linearGradient id="g205" gradientUnits="userSpaceOnUse" x1="554.1" y1="141.1" x2="554" y2="137.9"><stop offset="0.000" stop-color="#ff0000"/><stop offset="1.000" stop-color="#ff0a00"/></linearGradient><linearGradient id="g206" gradientUnits="userSpaceOnUse" x1="597" y1="50.7" x2="597" y2="47.4"><stop offset="0.000" stop-color="#ff000c"/><stop offset="1.000" stop-color="#ff0000"/></linearGradient><linearGradient id="g207" gradientUnits="userSpaceOnUse" x1="597" y1="50.7" x2="598.2" y2="47.3"><stop offset="0.000" stop-color="#ff000c"/><stop offset="1.000" stop-color="#ff0000"/></linearGradient><linearGradient id="g208" gradientUnits="userSpaceOnUse" x1="563.5" y1="141.4" x2="566.9" y2="131.5"><stop offset="0.000" stop-color="#ff0200"/><stop offset="1.000" stop-color="#ff8900"/></linearGradient><linearGradient id="g209" gradientUnits="userSpaceOnUse" x1="563.5" y1="141.4" x2="563.4" y2="130.7"><stop offset="0.000" stop-color="#ff0200"/><stop offset="1.000" stop-color="#ff8900"/></linearGradient><linearGradient id="g210" gradientUnits="userSpaceOnUse" x1="572.9" y1="140.4" x2="589.6" y2="90.5"><stop offset="0.000" stop-color="#ff1900"/><stop offset="0.263" stop-color="#ffff00"/><stop offset="0.553" stop-color="#00ff00"/><stop offset="0.844" stop-color="#00ffff"/><stop offset="1.000" stop-color="#0076ff"/></linearGradient><linearGradient id="g211" gradientUnits="userSpaceOnUse" x1="572.9" y1="140.4" x2="578.6" y2="85.8"><stop offset="0.000" stop-color="#ff1900"/><stop offset="0.263" stop-color="#ffff00"/><stop offset="0.553" stop-color="#00ff00"/><stop offset="0.844" stop-color="#00ffff"/><stop offset="1.000" stop-color="#0076ff"/></linearGradient><linearGradient id="g212" gradientUnits="userSpaceOnUse" x1="582.3" y1="124.5" x2="596.2" y2="54.8"><stop offset="0.000" stop-color="#d6ff00"/><stop offset="0.184" stop-color="#00ff00"/><stop offset="0.403" stop-color="#00ffff"/><stop offset="0.622" stop-color="#0000ff"/><stop offset="0.841" stop-color="#ff00ff"/><stop offset="1.000" stop-color="#ff0045"/></linearGradient><linearGradient id="g213" gradientUnits="userSpaceOnUse" x1="582.3" y1="124.5" x2="602.6" y2="58.2"><stop offset="0.000" stop-color="#d6ff00"/><stop offset="0.184" stop-color="#00ff00"/><stop offset="0.403" stop-color="#00ffff"/><stop offset="0.622" stop-color="#0000ff"/><stop offset="0.841" stop-color="#ff00ff"/><stop offset="1.000" stop-color="#ff0045"/></linearGradient><linearGradient id="g214" gradientUnits="userSpaceOnUse" x1="591.7" y1="71.4" x2="592" y2="48.8"><stop offset="0.000" stop-color="#ab00ff"/><stop offset="0.251" stop-color="#ff00ff"/><stop offset="1.000" stop-color="#ff0005"/></linearGradient><linearGradient id="g215" gradientUnits="userSpaceOnUse" x1="591.7" y1="71.4" x2="598.8" y2="50.8"><stop offset="0.000" stop-color="#ab00ff"/><stop offset="0.251" stop-color="#ff00ff"/><stop offset="1.000" stop-color="#ff0005"/></linearGradient><linearGradient id="g216" gradientUnits="userSpaceOnUse" x1="601.1" y1="53.2" x2="601" y2="48.9"><stop offset="0.000" stop-color="#ff001d"/><stop offset="1.000" stop-color="#ff0000"/></linearGradient><linearGradient id="g217" gradientUnits="userSpaceOnUse" x1="601.1" y1="53.2" x2="602.6" y2="48.9"><stop offset="0.000" stop-color="#ff001d"/><stop offset="1.000" stop-color="#ff0000"/></linearGradient><linearGradient id="g218" gradientUnits="userSpaceOnUse" x1="567.6" y1="142.9" x2="569.6" y2="137.1"><stop offset="0.000" stop-color="#ff0100"/><stop offset="1.000" stop-color="#ff3b00"/></linearGradient><linearGradient id="g219" gradientUnits="userSpaceOnUse" x1="567.6" y1="142.9" x2="567.5" y2="136.8"><stop offset="0.000" stop-color="#ff0100"/><stop offset="1.000" stop-color="#ff3b00"/></linearGradient><linearGradient id="g220" gradientUnits="userSpaceOnUse" x1="577" y1="142.7" x2="588.1" y2="110.3"><stop offset="0.000" stop-color="#ff0a00"/><stop offset="0.440" stop-color="#ffff00"/><stop offset="0.899" stop-color="#00ff00"/><stop offset="1.000" stop-color="#00ff38"/></linearGradient><linearGradient id="g221" gradientUnits="userSpaceOnUse" x1="577" y1="142.7" x2="578.6" y2="106.9"><stop offset="0.000" stop-color="#ff0a00"/><stop offset="0.440" stop-color="#ffff00"/><stop offset="0.899" stop-color="#00ff00"/><stop offset="1.000" stop-color="#00ff38"/></linearGradient><linearGradient id="g222" gradientUnits="userSpaceOnUse" x1="586.4" y1="135.5" x2="605.7" y2="64"><stop offset="0.000" stop-color="#ff8900"/><stop offset="0.096" stop-color="#ffff00"/><stop offset="0.303" stop-color="#00ff00"/><stop offset="0.509" stop-color="#00ffff"/><stop offset="0.716" stop-color="#0000ff"/><stop offset="0.922" stop-color="#ff00ff"/><stop offset="1.000" stop-color="#ff009f"/></linearGradient><linearGradient id="g223" gradientUnits="userSpaceOnUse" x1="586.4" y1="135.5" x2="605" y2="63.6"><stop offset="0.000" stop-color="#ff8900"/><stop offset="0.096" stop-color="#ffff00"/><stop offset="0.303" stop-color="#00ff00"/><stop offset="0.509" stop-color="#00ffff"/><stop offset="0.716" stop-color="#0000ff"/><stop offset="0.922" stop-color="#ff00ff"/><stop offset="1.000" stop-color="#ff009f"/></linearGradient><linearGradient id="g224" gradientUnits="userSpaceOnUse" x1="595.8" y1="90.1" x2="597.9" y2="50.7"><stop offset="0.000" stop-color="#0076ff"/><stop offset="0.191" stop-color="#0000ff"/><stop offset="0.605" stop-color="#ff00ff"/><stop offset="1.000" stop-color="#ff000c"/></linearGradient><linearGradient id="g225" gradientUnits="userSpaceOnUse" x1="595.8" y1="90.1" x2="608" y2="54.5"><stop offset="0.000" stop-color="#0076ff"/><stop offset="0.191" stop-color="#0000ff"/><stop offset="0.605" stop-color="#ff00ff"/><stop offset="1.000" stop-color="#ff000c"/></linearGradient><linearGradient id="g226" gradientUnits="userSpaceOnUse" x1="605.2" y1="57.1" x2="605.1" y2="50.4"><stop offset="0.000" stop-color="#ff0045"/><stop offset="1.000" stop-color="#ff0001"/></linearGradient><linearGradient id="g227" gradientUnits="userSpaceOnUse" x1="605.2" y1="57.1" x2="607.4" y2="50.7"><stop offset="0.000" stop-color="#ff0045"/><stop offset="1.000" stop-color="#ff0001"/></linearGradient><linearGradient id="g228" gradientUnits="userSpaceOnUse" x1="571.6" y1="144.4" x2="573" y2="140.4"><stop offset="0.000" stop-color="#ff0000"/><stop offset="1.000" stop-color="#ff1900"/></linearGradient><linearGradient id="g229" gradientUnits="userSpaceOnUse" x1="571.6" y1="144.4" x2="571.6" y2="140.4"><stop offset="0.000" stop-color="#ff0000"/><stop offset="1.000" stop-color="#ff1900"/></linearGradient><linearGradient id="g230" gradientUnits="userSpaceOnUse" x1="581" y1="144.6" x2="587.4" y2="126.3"><stop offset="0.000" stop-color="#ff0400"/><stop offset="0.859" stop-color="#ffff00"/><stop offset="1.000" stop-color="#d6ff00"/></linearGradient><linearGradient id="g231" gradientUnits="userSpaceOnUse" x1="581" y1="144.6" x2="581.3" y2="124.5"><stop offset="0.000" stop-color="#ff0400"/><stop offset="0.859" stop-color="#ffff00"/><stop offset="1.000" stop-color="#d6ff00"/></linearGradient><linearGradient id="g232" gradientUnits="userSpaceOnUse" x1="590.5" y1="141.6" x2="610.6" y2="77.3"><stop offset="0.000" stop-color="#ff3b00"/><stop offset="0.173" stop-color="#ffff00"/><stop offset="0.398" stop-color="#00ff00"/><stop offset="0.624" stop-color="#00ffff"/><stop offset="0.849" stop-color="#0000ff"/><stop offset="1.000" stop-color="#ab00ff"/></linearGradient><linearGradient id="g233" gradientUnits="userSpaceOnUse" x1="590.5" y1="141.6" x2="603.1" y2="73.5"><stop offset="0.000" stop-color="#ff3b00"/><stop offset="0.173" stop-color="#ffff00"/><stop offset="0.398" stop-color="#00ff00"/><stop offset="0.624" stop-color="#00ffff"/><stop offset="0.849" stop-color="#0000ff"/><stop offset="1.000" stop-color="#ab00ff"/></linearGradient><linearGradient id="g234" gradientUnits="userSpaceOnUse" x1="599.9" y1="111.7" x2="606.8" y2="53.9"><stop offset="0.000" stop-color="#00ff38"/><stop offset="0.213" stop-color="#00ffff"/><stop offset="0.486" stop-color="#0000ff"/><stop offset="0.758" stop-color="#ff00ff"/><stop offset="1.000" stop-color="#ff001d"/></linearGradient><linearGradient id="g235" gradientUnits="userSpaceOnUse" x1="599.9" y1="111.7" x2="617.5" y2="58.6"><stop offset="0.000" stop-color="#00ff38"/><stop offset="0.213" stop-color="#00ffff"/><stop offset="0.486" stop-color="#0000ff"/><stop offset="0.758" stop-color="#ff00ff"/><stop offset="1.000" stop-color="#ff001d"/></linearGradient><linearGradient id="g236" gradientUnits="userSpaceOnUse" x1="609.3" y1="63.9" x2="609.2" y2="51.9"><stop offset="0.000" stop-color="#ff009f"/><stop offset="1.000" stop-color="#ff0002"/></linearGradient><linearGradient id="g237" gradientUnits="userSpaceOnUse" x1="609.3" y1="63.9" x2="613.2" y2="52.8"><stop offset="0.000" stop-color="#ff009f"/><stop offset="1.000" stop-color="#ff0002"/></linearGradient><linearGradient id="g238" gradientUnits="userSpaceOnUse" x1="575.7" y1="145.9" x2="576.9" y2="142.7"><stop offset="0.000" stop-color="#ff0000"/><stop offset="1.000" stop-color="#ff0a00"/></linearGradient><linearGradient id="g239" gradientUnits="userSpaceOnUse" x1="575.7" y1="145.9" x2="575.7" y2="142.7"><stop offset="0.000" stop-color="#ff0000"/><stop offset="1.000" stop-color="#ff0a00"/></linearGradient><linearGradient id="g240" gradientUnits="userSpaceOnUse" x1="618.7" y1="55.5" x2="618.6" y2="52.2"><stop offset="0.000" stop-color="#ff000c"/><stop offset="1.000" stop-color="#ff0000"/></linearGradient><linearGradient id="g241" gradientUnits="userSpaceOnUse" x1="618.7" y1="55.5" x2="619.9" y2="52.1"><stop offset="0.000" stop-color="#ff000c"/><stop offset="1.000" stop-color="#ff0000"/></linearGradient><linearGradient id="g242" gradientUnits="userSpaceOnUse" x1="585.1" y1="146.2" x2="588.6" y2="136.3"><stop offset="0.000" stop-color="#ff0200"/><stop offset="1.000" stop-color="#ff8900"/></linearGradient><linearGradient id="g243" gradientUnits="userSpaceOnUse" x1="585.1" y1="146.2" x2="585.1" y2="135.5"><stop offset="0.000" stop-color="#ff0200"/><stop offset="1.000" stop-color="#ff8900"/></linearGradient><linearGradient id="g244" gradientUnits="userSpaceOnUse" x1="594.5" y1="145.2" x2="611.2" y2="95.3"><stop offset="0.000" stop-color="#ff1900"/><stop offset="0.263" stop-color="#ffff00"/><stop offset="0.553" stop-color="#00ff00"/><stop offset="0.844" stop-color="#00ffff"/><stop offset="1.000" stop-color="#0076ff"/></linearGradient><linearGradient id="g245" gradientUnits="userSpaceOnUse" x1="594.5" y1="145.2" x2="600.3" y2="90.6"><stop offset="0.000" stop-color="#ff1900"/><stop offset="0.263" stop-color="#ffff00"/><stop offset="0.553" stop-color="#00ff00"/><stop offset="0.844" stop-color="#00ffff"/><stop offset="1.000" stop-color="#0076ff"/></linearGradient><linearGradient id="g246" gradientUnits="userSpaceOnUse" x1="603.9" y1="129.3" x2="617.9" y2="59.6"><stop offset="0.000" stop-color="#d6ff00"/><stop offset="0.184" stop-color="#00ff00"/><stop offset="0.403" stop-color="#00ffff"/><stop offset="0.622" stop-color="#0000ff"/><stop offset="0.841" stop-color="#ff00ff"/><stop offset="1.000" stop-color="#ff0045"/></linearGradient><linearGradient id="g247" gradientUnits="userSpaceOnUse" x1="603.9" y1="129.3" x2="624.3" y2="63"><stop offset="0.000" stop-color="#d6ff00"/><stop offset="0.184" stop-color="#00ff00"/><stop offset="0.403" stop-color="#00ffff"/><stop offset="0.622" stop-color="#0000ff"/><stop offset="0.841" stop-color="#ff00ff"/><stop offset="1.000" stop-color="#ff0045"/></linearGradient><linearGradient id="g248" gradientUnits="userSpaceOnUse" x1="613.4" y1="76.2" x2="613.7" y2="53.6"><stop offset="0.000" stop-color="#ab00ff"/><stop offset="0.251" stop-color="#ff00ff"/><stop offset="1.000" stop-color="#ff0005"/></linearGradient><linearGradient id="g249" gradientUnits="userSpaceOnUse" x1="613.4" y1="76.2" x2="620.5" y2="55.6"><stop offset="0.000" stop-color="#ab00ff"/><stop offset="0.251" stop-color="#ff00ff"/><stop offset="1.000" stop-color="#ff0005"/></linearGradient><linearGradient id="g250" gradientUnits="userSpaceOnUse" x1="622.8" y1="58" x2="622.7" y2="53.7"><stop offset="0.000" stop-color="#ff001d"/><stop offset="1.000" stop-color="#ff0000"/></linearGradient><linearGradient id="g251" gradientUnits="userSpaceOnUse" x1="622.8" y1="58" x2="624.3" y2="53.7"><stop offset="0.000" stop-color="#ff001d"/><stop offset="1.000" stop-color="#ff0000"/></linearGradient><linearGradient id="g252" gradientUnits="userSpaceOnUse" x1="589.2" y1="147.7" x2="591.2" y2="141.9"><stop offset="0.000" stop-color="#ff0100"/><stop offset="1.000" stop-color="#ff3b00"/></linearGradient><linearGradient id="g253" gradientUnits="userSpaceOnUse" x1="589.2" y1="147.7" x2="589.1" y2="141.6"><stop offset="0.000" stop-color="#ff0100"/><stop offset="1.000" stop-color="#ff3b00"/></linearGradient><linearGradient id="g254" gradientUnits="userSpaceOnUse" x1="598.6" y1="147.5" x2="609.8" y2="115.1"><stop offset="0.000" stop-color="#ff0a00"/><stop offset="0.440" stop-color="#ffff00"/><stop offset="0.899" stop-color="#00ff00"/><stop offset="1.000" stop-color="#00ff38"/></linearGradient><linearGradient id="g255" gradientUnits="userSpaceOnUse" x1="598.6" y1="147.5" x2="600.2" y2="111.7"><stop offset="0.000" stop-color="#ff0a00"/><stop offset="0.440" stop-color="#ffff00"/><stop offset="0.899" stop-color="#00ff00"/><stop offset="1.000" stop-color="#00ff38"/></linearGradient><linearGradient id="g256" gradientUnits="userSpaceOnUse" x1="608" y1="140.3" x2="627.3" y2="68.8"><stop offset="0.000" stop-color="#ff8900"/><stop offset="0.096" stop-color="#ffff00"/><stop offset="0.303" stop-color="#00ff00"/><stop offset="0.509" stop-color="#00ffff"/><stop offset="0.716" stop-color="#0000ff"/><stop offset="0.922" stop-color="#ff00ff"/><stop offset="1.000" stop-color="#ff009f"/></linearGradient><linearGradient id="g257" gradientUnits="userSpaceOnUse" x1="608" y1="140.3" x2="626.6" y2="68.4"><stop offset="0.000" stop-color="#ff8900"/><stop offset="0.096" stop-color="#ffff00"/><stop offset="0.303" stop-color="#00ff00"/><stop offset="0.509" stop-color="#00ffff"/><stop offset="0.716" stop-color="#0000ff"/><stop offset="0.922" stop-color="#ff00ff"/><stop offset="1.000" stop-color="#ff009f"/></linearGradient><linearGradient id="g258" gradientUnits="userSpaceOnUse" x1="617.4" y1="94.9" x2="619.6" y2="55.5"><stop offset="0.000" stop-color="#0076ff"/><stop offset="0.191" stop-color="#0000ff"/><stop offset="0.605" stop-color="#ff00ff"/><stop offset="1.000" stop-color="#ff000c"/></linearGradient><linearGradient id="g259" gradientUnits="userSpaceOnUse" x1="617.4" y1="94.9" x2="629.7" y2="59.3"><stop offset="0.000" stop-color="#0076ff"/><stop offset="0.191" stop-color="#0000ff"/><stop offset="0.605" stop-color="#ff00ff"/><stop offset="1.000" stop-color="#ff000c"/></linearGradient><linearGradient id="g260" gradientUnits="userSpaceOnUse" x1="626.8" y1="61.9" x2="626.8" y2="55.2"><stop offset="0.000" stop-color="#ff0045"/><stop offset="1.000" stop-color="#ff0001"/></linearGradient><linearGradient id="g261" gradientUnits="userSpaceOnUse" x1="626.8" y1="61.9" x2="629.1" y2="55.5"><stop offset="0.000" stop-color="#ff0045"/><stop offset="1.000" stop-color="#ff0001"/></linearGradient><linearGradient id="g262" gradientUnits="userSpaceOnUse" x1="593.3" y1="149.2" x2="594.7" y2="145.2"><stop offset="0.000" stop-color="#ff0000"/><stop offset="1.000" stop-color="#ff1900"/></linearGradient><linearGradient id="g263" gradientUnits="userSpaceOnUse" x1="593.3" y1="149.2" x2="593.2" y2="145.2"><stop offset="0.000" stop-color="#ff0000"/><stop offset="1.000" stop-color="#ff1900"/></linearGradient><linearGradient id="g264" gradientUnits="userSpaceOnUse" x1="602.7" y1="149.4" x2="609.1" y2="131.1"><stop offset="0.000" stop-color="#ff0400"/><stop offset="0.859" stop-color="#ffff00"/><stop offset="1.000" stop-color="#d6ff00"/></linearGradient><linearGradient id="g265" gradientUnits="userSpaceOnUse" x1="602.7" y1="149.4" x2="602.9" y2="129.3"><stop offset="0.000" stop-color="#ff0400"/><stop offset="0.859" stop-color="#ffff00"/><stop offset="1.000" stop-color="#d6ff00"/></linearGradient><linearGradient id="g266" gradientUnits="userSpaceOnUse" x1="612.1" y1="146.4" x2="632.2" y2="82.1"><stop offset="0.000" stop-color="#ff3b00"/><stop offset="0.173" stop-color="#ffff00"/><stop offset="0.398" stop-color="#00ff00"/><stop offset="0.624" stop-color="#00ffff"/><stop offset="0.849" stop-color="#0000ff"/><stop offset="1.000" stop-color="#ab00ff"/></linearGradient><linearGradient id="g267" gradientUnits="userSpaceOnUse" x1="612.1" y1="146.4" x2="624.7" y2="78.3"><stop offset="0.000" stop-color="#ff3b00"/><stop offset="0.173" stop-color="#ffff00"/><stop offset="0.398" stop-color="#00ff00"/><stop offset="0.624" stop-color="#00ffff"/><stop offset="0.849" stop-color="#0000ff"/><stop offset="1.000" stop-color="#ab00ff"/></linearGradient><linearGradient id="g268" gradientUnits="userSpaceOnUse" x1="621.5" y1="116.5" x2="628.4" y2="58.7"><stop offset="0.000" stop-color="#00ff38"/><stop offset="0.213" stop-color="#00ffff"/><stop offset="0.486" stop-color="#0000ff"/><stop offset="0.758" stop-color="#ff00ff"/><stop offset="1.000" stop-color="#ff001d"/></linearGradient><linearGradient id="g269" gradientUnits="userSpaceOnUse" x1="621.5" y1="116.5" x2="639.1" y2="63.4"><stop offset="0.000" stop-color="#00ff38"/><stop offset="0.213" stop-color="#00ffff"/><stop offset="0.486" stop-color="#0000ff"/><stop offset="0.758" stop-color="#ff00ff"/><stop offset="1.000" stop-color="#ff001d"/></linearGradient><linearGradient id="g270" gradientUnits="userSpaceOnUse" x1="630.9" y1="68.7" x2="630.9" y2="56.7"><stop offset="0.000" stop-color="#ff009f"/><stop offset="1.000" stop-color="#ff0002"/></linearGradient><linearGradient id="g271" gradientUnits="userSpaceOnUse" x1="630.9" y1="68.7" x2="634.8" y2="57.6"><stop offset="0.000" stop-color="#ff009f"/><stop offset="1.000" stop-color="#ff0002"/></linearGradient><linearGradient id="g272" gradientUnits="userSpaceOnUse" x1="597.4" y1="150.7" x2="598.5" y2="147.5"><stop offset="0.000" stop-color="#ff0000"/><stop offset="1.000" stop-color="#ff0a00"/></linearGradient><linearGradient id="g273" gradientUnits="userSpaceOnUse" x1="597.4" y1="150.7" x2="597.3" y2="147.5"><stop offset="0.000" stop-color="#ff0000"/><stop offset="1.000" stop-color="#ff0a00"/></linearGradient><linearGradient id="g274" gradientUnits="userSpaceOnUse" x1="640.3" y1="60.3" x2="640.3" y2="57"><stop offset="0.000" stop-color="#ff000c"/><stop offset="1.000" stop-color="#ff0000"/></linearGradient><linearGradient id="g275" gradientUnits="userSpaceOnUse" x1="640.3" y1="60.3" x2="641.5" y2="56.9"><stop offset="0.000" stop-color="#ff000c"/><stop offset="1.000" stop-color="#ff0000"/></linearGradient><linearGradient id="g276" gradientUnits="userSpaceOnUse" x1="606.8" y1="151" x2="610.2" y2="141.1"><stop offset="0.000" stop-color="#ff0200"/><stop offset="1.000" stop-color="#ff8900"/></linearGradient><linearGradient id="g277" gradientUnits="userSpaceOnUse" x1="606.8" y1="151" x2="606.7" y2="140.3"><stop offset="0.000" stop-color="#ff0200"/><stop offset="1.000" stop-color="#ff8900"/></linearGradient><linearGradient id="g278" gradientUnits="userSpaceOnUse" x1="616.2" y1="150" x2="632.9" y2="100.1"><stop offset="0.000" stop-color="#ff1900"/><stop offset="0.263" stop-color="#ffff00"/><stop offset="0.553" stop-color="#00ff00"/><stop offset="0.844" stop-color="#00ffff"/><stop offset="1.000" stop-color="#0076ff"/></linearGradient><linearGradient id="g279" gradientUnits="userSpaceOnUse" x1="616.2" y1="150" x2="621.9" y2="95.4"><stop offset="0.000" stop-color="#ff1900"/><stop offset="0.263" stop-color="#ffff00"/><stop offset="0.553" stop-color="#00ff00"/><stop offset="0.844" stop-color="#00ffff"/><stop offset="1.000" stop-color="#0076ff"/></linearGradient><linearGradient id="g280" gradientUnits="userSpaceOnUse" x1="625.6" y1="134.1" x2="639.5" y2="64.4"><stop offset="0.000" stop-color="#d6ff00"/><stop offset="0.184" stop-color="#00ff00"/><stop offset="0.403" stop-color="#00ffff"/><stop offset="0.622" stop-color="#0000ff"/><stop offset="0.841" stop-color="#ff00ff"/><stop offset="1.000" stop-color="#ff0045"/></linearGradient><linearGradient id="g281" gradientUnits="userSpaceOnUse" x1="625.6" y1="134.1" x2="645.9" y2="67.7"><stop offset="0.000" stop-color="#d6ff00"/><stop offset="0.184" stop-color="#00ff00"/><stop offset="0.403" stop-color="#00ffff"/><stop offset="0.622" stop-color="#0000ff"/><stop offset="0.841" stop-color="#ff00ff"/><stop offset="1.000" stop-color="#ff0045"/></linearGradient><linearGradient id="g282" gradientUnits="userSpaceOnUse" x1="635" y1="81" x2="635.3" y2="58.4"><stop offset="0.000" stop-color="#ab00ff"/><stop offset="0.251" stop-color="#ff00ff"/><stop offset="1.000" stop-color="#ff0005"/></linearGradient><linearGradient id="g283" gradientUnits="userSpaceOnUse" x1="635" y1="81" x2="642.1" y2="60.4"><stop offset="0.000" stop-color="#ab00ff"/><stop offset="0.251" stop-color="#ff00ff"/><stop offset="1.000" stop-color="#ff0005"/></linearGradient><linearGradient id="g284" gradientUnits="userSpaceOnUse" x1="644.4" y1="62.8" x2="644.3" y2="58.5"><stop offset="0.000" stop-color="#ff001d"/><stop offset="1.000" stop-color="#ff0000"/></linearGradient><linearGradient id="g285" gradientUnits="userSpaceOnUse" x1="644.4" y1="62.8" x2="645.9" y2="58.5"><stop offset="0.000" stop-color="#ff001d"/><stop offset="1.000" stop-color="#ff0000"/></linearGradient><linearGradient id="g286" gradientUnits="userSpaceOnUse" x1="610.8" y1="152.5" x2="612.9" y2="146.7"><stop offset="0.000" stop-color="#ff0100"/><stop offset="1.000" stop-color="#ff3b00"/></linearGradient><linearGradient id="g287" gradientUnits="userSpaceOnUse" x1="610.8" y1="152.5" x2="610.8" y2="146.4"><stop offset="0.000" stop-color="#ff0100"/><stop offset="1.000" stop-color="#ff3b00"/></linearGradient><linearGradient id="g288" gradientUnits="userSpaceOnUse" x1="620.3" y1="152.3" x2="631.4" y2="119.9"><stop offset="0.000" stop-color="#ff0a00"/><stop offset="0.440" stop-color="#ffff00"/><stop offset="0.899" stop-color="#00ff00"/><stop offset="1.000" stop-color="#00ff38"/></linearGradient><linearGradient id="g289" gradientUnits="userSpaceOnUse" x1="620.3" y1="152.3" x2="621.9" y2="116.5"><stop offset="0.000" stop-color="#ff0a00"/><stop offset="0.440" stop-color="#ffff00"/><stop offset="0.899" stop-color="#00ff00"/><stop offset="1.000" stop-color="#00ff38"/></linearGradient><linearGradient id="g290" gradientUnits="userSpaceOnUse" x1="629.7" y1="145.1" x2="649" y2="73.6"><stop offset="0.000" stop-color="#ff8900"/><stop offset="0.096" stop-color="#ffff00"/><stop offset="0.303" stop-color="#00ff00"/><stop offset="0.509" stop-color="#00ffff"/><stop offset="0.716" stop-color="#0000ff"/><stop offset="0.922" stop-color="#ff00ff"/><stop offset="1.000" stop-color="#ff009f"/></linearGradient><linearGradient id="g291" gradientUnits="userSpaceOnUse" x1="629.7" y1="145.1" x2="648.3" y2="73.2"><stop offset="0.000" stop-color="#ff8900"/><stop offset="0.096" stop-color="#ffff00"/><stop offset="0.303" stop-color="#00ff00"/><stop offset="0.509" stop-color="#00ffff"/><stop offset="0.716" stop-color="#0000ff"/><stop offset="0.922" stop-color="#ff00ff"/><stop offset="1.000" stop-color="#ff009f"/></linearGradient><linearGradient id="g292" gradientUnits="userSpaceOnUse" x1="639.1" y1="99.7" x2="641.2" y2="60.3"><stop offset="0.000" stop-color="#0076ff"/><stop offset="0.191" stop-color="#0000ff"/><stop offset="0.605" stop-color="#ff00ff"/><stop offset="1.000" stop-color="#ff000c"/></linearGradient><linearGradient id="g293" gradientUnits="userSpaceOnUse" x1="639.1" y1="99.7" x2="651.3" y2="64.1"><stop offset="0.000" stop-color="#0076ff"/><stop offset="0.191" stop-color="#0000ff"/><stop offset="0.605" stop-color="#ff00ff"/><stop offset="1.000" stop-color="#ff000c"/></linearGradient><linearGradient id="g294" gradientUnits="userSpaceOnUse" x1="614.9" y1="154" x2="616.3" y2="150"><stop offset="0.000" stop-color="#ff0000"/><stop offset="1.000" stop-color="#ff1900"/></linearGradient><linearGradient id="g295" gradientUnits="userSpaceOnUse" x1="614.9" y1="154" x2="614.9" y2="150"><stop offset="0.000" stop-color="#ff0000"/><stop offset="1.000" stop-color="#ff1900"/></linearGradient><linearGradient id="g296" gradientUnits="userSpaceOnUse" x1="624.3" y1="154.1" x2="630.7" y2="135.9"><stop offset="0.000" stop-color="#ff0400"/><stop offset="0.859" stop-color="#ffff00"/><stop offset="1.000" stop-color="#d6ff00"/></linearGradient><linearGradient id="g297" gradientUnits="userSpaceOnUse" x1="624.3" y1="154.1" x2="624.5" y2="134.1"><stop offset="0.000" stop-color="#ff0400"/><stop offset="0.859" stop-color="#ffff00"/><stop offset="1.000" stop-color="#d6ff00"/></linearGradient><linearGradient id="g298" gradientUnits="userSpaceOnUse" x1="633.7" y1="151.2" x2="653.9" y2="86.9"><stop offset="0.000" stop-color="#ff3b00"/><stop offset="0.173" stop-color="#ffff00"/><stop offset="0.398" stop-color="#00ff00"/><stop offset="0.624" stop-color="#00ffff"/><stop offset="0.849" stop-color="#0000ff"/><stop offset="1.000" stop-color="#ab00ff"/></linearGradient><linearGradient id="g299" gradientUnits="userSpaceOnUse" x1="633.7" y1="151.2" x2="646.4" y2="83.1"><stop offset="0.000" stop-color="#ff3b00"/><stop offset="0.173" stop-color="#ffff00"/><stop offset="0.398" stop-color="#00ff00"/><stop offset="0.624" stop-color="#00ffff"/><stop offset="0.849" stop-color="#0000ff"/><stop offset="1.000" stop-color="#ab00ff"/></linearGradient><linearGradient id="g300" gradientUnits="userSpaceOnUse" x1="619" y1="155.5" x2="620.2" y2="152.3"><stop offset="0.000" stop-color="#ff0000"/><stop offset="1.000" stop-color="#ff0a00"/></linearGradient><linearGradient id="g301" gradientUnits="userSpaceOnUse" x1="619" y1="155.5" x2="619" y2="152.3"><stop offset="0.000" stop-color="#ff0000"/><stop offset="1.000" stop-color="#ff0a00"/></linearGradient><linearGradient id="g302" gradientUnits="userSpaceOnUse" x1="628.4" y1="155.8" x2="631.9" y2="145.9"><stop offset="0.000" stop-color="#ff0200"/><stop offset="1.000" stop-color="#ff8900"/></linearGradient><linearGradient id="g303" gradientUnits="userSpaceOnUse" x1="628.4" y1="155.8" x2="628.4" y2="145.1"><stop offset="0.000" stop-color="#ff0200"/><stop offset="1.000" stop-color="#ff8900"/></linearGradient></defs>
<rect width="685" height="398" fill="#fff"/>
<rect x="20.4" y="233.0" width="182.3" height="139.3" fill="#ff0080"/>
<rect x="42.3" y="233.0" width="19.9" height="139.3" fill="#ff0000"/>
<path d="M42.3 233.0V372.3M62.2 233.0V372.3" fill="none" stroke="#200010" stroke-width="0.55" stroke-opacity="0.75"/>
<rect x="79.1" y="233.0" width="9.2" height="139.3" fill="#ff0000"/>
<path d="M79.1 233.0V372.3M88.3 233.0V372.3" fill="none" stroke="#200010" stroke-width="0.55" stroke-opacity="0.75"/>
<polygon points="155.1,233 155.1,247.6 164.1,255.4 164.1,261 173.9,270.2 173.9,284.1 193.1,298.9 193.1,306.4 202.7,313.1 202.7,233" fill="#ff0000"/>
<polyline points="155.1,233 155.1,247.6 164.1,255.4 164.1,261 173.9,270.2 173.9,284.1 193.1,298.9 193.1,306.4 202.7,313.1" fill="none" stroke="#200010" stroke-width="0.55" stroke-opacity="0.75"/>
<path d="M98.4 372.3C98.8 359.8 103.9 357.3 106.8 351.4C109.7 357.3 114.8 359.8 115.2 372.3Z" fill="#ff00ff"/>
<path d="M98.4 372.3C98.8 359.8 103.9 357.3 106.8 351.4C109.7 357.3 114.8 359.8 115.2 372.3" fill="none" stroke="#200010" stroke-width="0.55" stroke-opacity="0.75"/>
<path d="M100 372.3C100.3 363.2 104.4 361.4 106.8 357.2C109.2 361.4 113.3 363.2 113.6 372.3Z" fill="#8000ff"/>
<path d="M100 372.3C100.3 363.2 104.4 361.4 106.8 357.2C109.2 361.4 113.3 363.2 113.6 372.3" fill="none" stroke="#200010" stroke-width="0.55" stroke-opacity="0.75"/>
<path d="M101.4 372.3C101.7 365.8 104.9 364.5 106.8 361.5C108.7 364.5 112 365.8 112.3 372.3Z" fill="#0000ff"/>
<path d="M101.4 372.3C101.7 365.8 104.9 364.5 106.8 361.5C108.7 364.5 112 365.8 112.3 372.3" fill="none" stroke="#200010" stroke-width="0.55" stroke-opacity="0.75"/>
<path d="M102.8 372.3C103 367.8 105.4 366.9 106.8 364.8C108.2 366.9 110.6 367.8 110.8 372.3Z" fill="#0090ff"/>
<path d="M102.8 372.3C103 367.8 105.4 366.9 106.8 364.8C108.2 366.9 110.6 367.8 110.8 372.3" fill="none" stroke="#200010" stroke-width="0.55" stroke-opacity="0.75"/>
<path d="M104 372.3C104.1 369.6 105.8 369.1 106.8 367.8C107.8 369.1 109.5 369.6 109.6 372.3Z" fill="#10a010"/>
<path d="M104 372.3C104.1 369.6 105.8 369.1 106.8 367.8C107.8 369.1 109.5 369.6 109.6 372.3" fill="none" stroke="#200010" stroke-width="0.55" stroke-opacity="0.75"/>
<path d="M105.4 372.3C105.5 371 106.3 370.8 106.8 370.2C107.3 370.8 108.1 371 108.2 372.3Z" fill="#a05010"/>
<path d="M105.4 372.3C105.5 371 106.3 370.8 106.8 370.2C107.3 370.8 108.1 371 108.2 372.3" fill="none" stroke="#200010" stroke-width="0.55" stroke-opacity="0.75"/>
<rect x="20.4" y="233" width="182.3" height="139.3" fill="none" stroke="#262626" stroke-width="0.5" opacity="0.4"/>
<path d="M20.4 372.3v-1.3M20.4 233v1.3M20.4 372.3h1.3M202.7 372.3h-1.3" stroke="#262626" stroke-width="0.5"/>
<text x="20.4" y="380.9" font-size="6.4" text-anchor="middle" fill="#555555">-4</text>
<text x="18.4" y="374.6" font-size="6.4" text-anchor="end" fill="#555555">-4</text>
<path d="M43.2 372.3v-1.3M43.2 233v1.3M20.4 354.9h1.3M202.7 354.9h-1.3" stroke="#262626" stroke-width="0.5"/>
<text x="43.2" y="380.9" font-size="6.4" text-anchor="middle" fill="#555555">-3</text>
<text x="18.4" y="357.2" font-size="6.4" text-anchor="end" fill="#555555">-3</text>
<path d="M66 372.3v-1.3M66 233v1.3M20.4 337.5h1.3M202.7 337.5h-1.3" stroke="#262626" stroke-width="0.5"/>
<text x="66" y="380.9" font-size="6.4" text-anchor="middle" fill="#555555">-2</text>
<text x="18.4" y="339.8" font-size="6.4" text-anchor="end" fill="#555555">-2</text>
<path d="M88.8 372.3v-1.3M88.8 233v1.3M20.4 320.1h1.3M202.7 320.1h-1.3" stroke="#262626" stroke-width="0.5"/>
<text x="88.8" y="380.9" font-size="6.4" text-anchor="middle" fill="#555555">-1</text>
<text x="18.4" y="322.4" font-size="6.4" text-anchor="end" fill="#555555">-1</text>
<path d="M111.5 372.3v-1.3M111.5 233v1.3M20.4 302.6h1.3M202.7 302.6h-1.3" stroke="#262626" stroke-width="0.5"/>
<text x="111.5" y="380.9" font-size="6.4" text-anchor="middle" fill="#555555">0</text>
<text x="18.4" y="304.9" font-size="6.4" text-anchor="end" fill="#555555">0</text>
<path d="M134.3 372.3v-1.3M134.3 233v1.3M20.4 285.2h1.3M202.7 285.2h-1.3" stroke="#262626" stroke-width="0.5"/>
<text x="134.3" y="380.9" font-size="6.4" text-anchor="middle" fill="#555555">1</text>
<text x="18.4" y="287.5" font-size="6.4" text-anchor="end" fill="#555555">1</text>
<path d="M157.1 372.3v-1.3M157.1 233v1.3M20.4 267.8h1.3M202.7 267.8h-1.3" stroke="#262626" stroke-width="0.5"/>
<text x="157.1" y="380.9" font-size="6.4" text-anchor="middle" fill="#555555">2</text>
<text x="18.4" y="270.1" font-size="6.4" text-anchor="end" fill="#555555">2</text>
<path d="M179.9 372.3v-1.3M179.9 233v1.3M20.4 250.4h1.3M202.7 250.4h-1.3" stroke="#262626" stroke-width="0.5"/>
<text x="179.9" y="380.9" font-size="6.4" text-anchor="middle" fill="#555555">3</text>
<text x="18.4" y="252.7" font-size="6.4" text-anchor="end" fill="#555555">3</text>
<path d="M202.7 372.3v-1.3M202.7 233v1.3M20.4 233h1.3M202.7 233h-1.3" stroke="#262626" stroke-width="0.5"/>
<text x="202.7" y="380.9" font-size="6.4" text-anchor="middle" fill="#555555">4</text>
<text x="18.4" y="235.3" font-size="6.4" text-anchor="end" fill="#555555">4</text>
<text x="111.5" y="394.9" font-size="11.5" text-anchor="middle" fill="#000">x</text>
<text transform="translate(9.4,302.9) rotate(-90)" font-size="11.2" font-weight="bold" text-anchor="middle" fill="#111">t</text>
<text x="124" y="223.3" font-size="11.6" font-weight="bold" text-anchor="middle" fill="#000">(a<tspan font-size="9.5" dy="5.4">2</tspan><tspan dy="-5.4">)</tspan></text>
<rect x="260.3" y="232.05" width="182.7" height="139.2" fill="#2800ff"/>
<polygon points="288.1,232.1 290.1,233 294.1,237.5 299.1,240.1 307.7,239.6 309.5,245 310,250 311,254.6 323.1,255.1 326.1,255.6 327.6,256.1 329.1,265.1 330.2,269.1 335.2,269.6 344.2,270.7 345.7,275.7 347.6,281.3 350.8,285.7 352.6,290.8 353.3,297.7 353.6,307.7 354,320 354.8,331.1 360.1,343.4 362.8,354 363.6,371.3 260.3,371.3 260.3,232.1" fill="#0080ff"/>
<polyline points="288.1,232.1 290.1,233 294.1,237.5 299.1,240.1 307.7,239.6 309.5,245 310,250 311,254.6 323.1,255.1 326.1,255.6 327.6,256.1 329.1,265.1 330.2,269.1 335.2,269.6 344.2,270.7 345.7,275.7 347.6,281.3 350.8,285.7 352.6,290.8 353.3,297.7 353.6,307.7 354,320 354.8,331.1 360.1,343.4 362.8,354 363.6,371.3" fill="none" stroke="#001030" stroke-width="0.5" stroke-opacity="0.7"/>
<polygon points="278,232.1 280.1,236 291.1,239.1 303.2,246.6 305,249 309,254.6 313,256.1 318.1,256.9 325.1,257.6 326.6,260.1 327.6,269.1 329.1,270.7 335.2,271.4 343.2,273.2 343.8,276.3 345.1,283.8 347.6,290.1 349.1,296.4 349.9,305.2 350.1,320 350.8,336.4 355.7,350.5 358.4,361 359.2,371.3 260.3,371.3 260.3,232.1" fill="#00ffde"/>
<polyline points="278,232.1 280.1,236 291.1,239.1 303.2,246.6 305,249 309,254.6 313,256.1 318.1,256.9 325.1,257.6 326.6,260.1 327.6,269.1 329.1,270.7 335.2,271.4 343.2,273.2 343.8,276.3 345.1,283.8 347.6,290.1 349.1,296.4 349.9,305.2 350.1,320 350.8,336.4 355.7,350.5 358.4,361 359.2,371.3" fill="none" stroke="#001030" stroke-width="0.5" stroke-opacity="0.7"/>
<polygon points="260.3,232.05 265.6,232.05 260.3,237.2" fill="#40ff30"/>
<path d="M265.6 232.05L260.3 237.2" fill="none" stroke="#001030" stroke-width="0.5" stroke-opacity="0.7"/>
<circle cx="299.2" cy="253.6" r="0.7" fill="#20a040"/>
<polygon points="318.5,240.3 312.8,254.6 324.6,254.6" fill="#c300ff" stroke="#001030" stroke-width="0.5" stroke-opacity="0.7"/>
<polygon points="318.3,247.8 314.6,254.4 322.2,254.4" fill="#ff0096" stroke="#001030" stroke-width="0.5" stroke-opacity="0.7"/>
<polygon points="318.2,251.2 316.8,254 319.6,254" fill="#ff0000" stroke="#001030" stroke-width="0.5" stroke-opacity="0.7"/>
<polygon points="337.7,257.1 333,269 344.7,268.7" fill="#c300ff" stroke="#001030" stroke-width="0.5" stroke-opacity="0.7"/>
<polygon points="337.7,263.8 335,269 340.8,269" fill="#ff0096" stroke="#001030" stroke-width="0.5" stroke-opacity="0.7"/>
<polygon points="311.5,260.6 323.6,261.1 318.1,278.7" fill="#00ff33" stroke="#001030" stroke-width="0.5" stroke-opacity="0.7"/>
<polygon points="314.6,260.9 321.4,261 318.1,266.2" fill="#8fff00" stroke="#001030" stroke-width="0.5" stroke-opacity="0.7"/>
<polygon points="329.3,275 336.8,273 343.2,275.4 337.6,297" fill="#00ff33" stroke="#001030" stroke-width="0.5" stroke-opacity="0.7"/>
<polygon points="331.5,275.2 336.9,273.4 341.4,275.6 337.4,288" fill="#8fff00" stroke="#001030" stroke-width="0.5" stroke-opacity="0.7"/>
<polygon points="333.5,275.3 336.9,273.8 340,275.6 337.2,282.2" fill="#ffea00" stroke="#001030" stroke-width="0.5" stroke-opacity="0.7"/>
<polygon points="335.2,275.6 336.9,274.4 338.6,275.8 337,278.9" fill="#ff4600" stroke="#001030" stroke-width="0.5" stroke-opacity="0.7"/>
<rect x="260.3" y="232.1" width="182.7" height="139.2" fill="none" stroke="#262626" stroke-width="0.5" opacity="0.4"/>
<path d="M260.3 371.3v-1.3M260.3 232.1v1.3M260.3 371.3h1.3M443 371.3h-1.3" stroke="#262626" stroke-width="0.5"/>
<text x="260.3" y="379.9" font-size="6.4" text-anchor="middle" fill="#555555">-4</text>
<text x="258.3" y="373.6" font-size="6.4" text-anchor="end" fill="#555555">-4</text>
<path d="M283.1 371.3v-1.3M283.1 232.1v1.3M260.3 353.9h1.3M443 353.9h-1.3" stroke="#262626" stroke-width="0.5"/>
<text x="283.1" y="379.9" font-size="6.4" text-anchor="middle" fill="#555555">-3</text>
<text x="258.3" y="356.2" font-size="6.4" text-anchor="end" fill="#555555">-3</text>
<path d="M306 371.3v-1.3M306 232.1v1.3M260.3 336.5h1.3M443 336.5h-1.3" stroke="#262626" stroke-width="0.5"/>
<text x="306" y="379.9" font-size="6.4" text-anchor="middle" fill="#555555">-2</text>
<text x="258.3" y="338.8" font-size="6.4" text-anchor="end" fill="#555555">-2</text>
<path d="M328.8 371.3v-1.3M328.8 232.1v1.3M260.3 319.1h1.3M443 319.1h-1.3" stroke="#262626" stroke-width="0.5"/>
<text x="328.8" y="379.9" font-size="6.4" text-anchor="middle" fill="#555555">-1</text>
<text x="258.3" y="321.4" font-size="6.4" text-anchor="end" fill="#555555">-1</text>
<path d="M351.6 371.3v-1.3M351.6 232.1v1.3M260.3 301.7h1.3M443 301.7h-1.3" stroke="#262626" stroke-width="0.5"/>
<text x="351.6" y="379.9" font-size="6.4" text-anchor="middle" fill="#555555">0</text>
<text x="258.3" y="304" font-size="6.4" text-anchor="end" fill="#555555">0</text>
<path d="M374.5 371.3v-1.3M374.5 232.1v1.3M260.3 284.3h1.3M443 284.3h-1.3" stroke="#262626" stroke-width="0.5"/>
<text x="374.5" y="379.9" font-size="6.4" text-anchor="middle" fill="#555555">1</text>
<text x="258.3" y="286.6" font-size="6.4" text-anchor="end" fill="#555555">1</text>
<path d="M397.3 371.3v-1.3M397.3 232.1v1.3M260.3 266.9h1.3M443 266.9h-1.3" stroke="#262626" stroke-width="0.5"/>
<text x="397.3" y="379.9" font-size="6.4" text-anchor="middle" fill="#555555">2</text>
<text x="258.3" y="269.2" font-size="6.4" text-anchor="end" fill="#555555">2</text>
<path d="M420.2 371.3v-1.3M420.2 232.1v1.3M260.3 249.5h1.3M443 249.5h-1.3" stroke="#262626" stroke-width="0.5"/>
<text x="420.2" y="379.9" font-size="6.4" text-anchor="middle" fill="#555555">3</text>
<text x="258.3" y="251.7" font-size="6.4" text-anchor="end" fill="#555555">3</text>
<path d="M443 371.3v-1.3M443 232.1v1.3M260.3 232.1h1.3M443 232.1h-1.3" stroke="#262626" stroke-width="0.5"/>
<text x="443" y="379.9" font-size="6.4" text-anchor="middle" fill="#555555">4</text>
<text x="258.3" y="234.3" font-size="6.4" text-anchor="end" fill="#555555">4</text>
<text x="351.6" y="393.9" font-size="11.5" text-anchor="middle" fill="#000">x</text>
<text transform="translate(249.1,302) rotate(-90)" font-size="11.2" font-weight="bold" text-anchor="middle" fill="#111">t</text>
<text x="364.2" y="222.6" font-size="11.6" font-weight="bold" text-anchor="middle" fill="#000">(b<tspan font-size="9.5" dy="5.4">2</tspan><tspan dy="-5.4">)</tspan></text>
<rect x="500.6" y="232.1" width="182.6" height="139.2" fill="#ff0000"/>
<path d="M562.4 232.1 566.5 239.4 567.9 241.3 569 246.8 570.1 254.1 572 261.4 576.1 268.7 577.5 270.6 578.6 276.1 579.7 283.4 581.6 290.7 585.7 298 587.1 299.9 588.2 305.4 589.3 312.7 591.2 320 595.3 327.3 596.7 329.2 597.8 334.7 598.9 342 600.8 349.3 604.9 356.6 606.3 358.5 607.4 364 608.6 371.3L683.2 371.3L683.2 232.1Z" fill="#ffff00"/>
<path d="M562.4 232.1 566.5 239.4 567.9 241.3 569 246.8 570.1 254.1 572 261.4 576.1 268.7 577.5 270.6 578.6 276.1 579.7 283.4 581.6 290.7 585.7 298 587.1 299.9 588.2 305.4 589.3 312.7 591.2 320 595.3 327.3 596.7 329.2 597.8 334.7 598.9 342 600.8 349.3 604.9 356.6 606.3 358.5 607.4 364 608.6 371.3" fill="none" stroke="#100010" stroke-width="0.5" stroke-opacity="0.75"/>
<path d="M566.9 232.1 567.9 233.6 569.8 239.4 571.3 246.8 573 254.1 576.5 261.4 577.5 262.9 579.4 268.7 580.9 276.1 582.6 283.4 586.1 290.7 587.1 292.2 589 298 590.5 305.4 592.2 312.7 595.7 320 596.7 321.5 598.6 327.3 600.1 334.7 601.8 342 605.3 349.3 606.3 350.8 608.2 356.6 609.7 364 611.5 371.3L683.2 371.3L683.2 232.1Z" fill="#00ff00"/>
<path d="M566.9 232.1 567.9 233.6 569.8 239.4 571.3 246.8 573 254.1 576.5 261.4 577.5 262.9 579.4 268.7 580.9 276.1 582.6 283.4 586.1 290.7 587.1 292.2 589 298 590.5 305.4 592.2 312.7 595.7 320 596.7 321.5 598.6 327.3 600.1 334.7 601.8 342 605.3 349.3 606.3 350.8 608.2 356.6 609.7 364 611.5 371.3" fill="none" stroke="#100010" stroke-width="0.5" stroke-opacity="0.75"/>
<path d="M570 232.1 572.1 239.4 573.6 246.8 575.9 254.1 577.5 257.1 579.6 261.4 581.7 268.7 583.2 276.1 585.5 283.4 587.1 286.4 589.2 290.7 591.3 298 592.8 305.4 595.1 312.7 596.7 315.7 598.8 320 600.9 327.3 602.4 334.7 604.8 342 606.3 345 608.5 349.3 610.5 356.6 612 364 614.4 371.3L683.2 371.3L683.2 232.1Z" fill="#00ffff"/>
<path d="M570 232.1 572.1 239.4 573.6 246.8 575.9 254.1 577.5 257.1 579.6 261.4 581.7 268.7 583.2 276.1 585.5 283.4 587.1 286.4 589.2 290.7 591.3 298 592.8 305.4 595.1 312.7 596.7 315.7 598.8 320 600.9 327.3 602.4 334.7 604.8 342 606.3 345 608.5 349.3 610.5 356.6 612 364 614.4 371.3" fill="none" stroke="#100010" stroke-width="0.5" stroke-opacity="0.75"/>
<path d="M572.8 232.1 574.3 239.4 575.9 246.8 577.5 251.1 579.4 254.1 582.4 261.4 584 268.7 585.5 276.1 587.1 280.4 589 283.4 592 290.7 593.6 298 595.1 305.4 596.7 309.7 598.6 312.7 601.6 320 603.2 327.3 604.8 334.7 606.3 339 608.2 342 611.2 349.3 612.8 356.6 614.4 364 615.9 368.3 617.8 371.3L683.2 371.3L683.2 232.1Z" fill="#0000ff"/>
<path d="M572.8 232.1 574.3 239.4 575.9 246.8 577.5 251.1 579.4 254.1 582.4 261.4 584 268.7 585.5 276.1 587.1 280.4 589 283.4 592 290.7 593.6 298 595.1 305.4 596.7 309.7 598.6 312.7 601.6 320 603.2 327.3 604.8 334.7 606.3 339 608.2 342 611.2 349.3 612.8 356.6 614.4 364 615.9 368.3 617.8 371.3" fill="none" stroke="#100010" stroke-width="0.5" stroke-opacity="0.75"/>
<path d="M575.5 232.1 576.6 239.4 577.5 243.3 580 246.8 583.5 254.1 585.1 261.4 586.2 268.7 587.1 272.6 589.6 276.1 593.1 283.4 594.7 290.7 595.8 298 596.7 301.9 599.2 305.4 602.7 312.7 604.3 320 605.5 327.3 606.3 331.2 608.8 334.7 612.3 342 613.9 349.3 615.1 356.6 615.9 360.6 618.4 364 621.9 371.3L683.2 371.3L683.2 232.1Z" fill="#ff00ff"/>
<path d="M575.5 232.1 576.6 239.4 577.5 243.3 580 246.8 583.5 254.1 585.1 261.4 586.2 268.7 587.1 272.6 589.6 276.1 593.1 283.4 594.7 290.7 595.8 298 596.7 301.9 599.2 305.4 602.7 312.7 604.3 320 605.5 327.3 606.3 331.2 608.8 334.7 612.3 342 613.9 349.3 615.1 356.6 615.9 360.6 618.4 364 621.9 371.3" fill="none" stroke="#100010" stroke-width="0.5" stroke-opacity="0.75"/>
<rect x="500.6" y="232.1" width="182.6" height="139.2" fill="none" stroke="#262626" stroke-width="0.5" opacity="0.4"/>
<path d="M500.6 371.3v-1.3M500.6 232.1v1.3M500.6 371.3h1.3M683.2 371.3h-1.3" stroke="#262626" stroke-width="0.5"/>
<text x="500.6" y="379.9" font-size="6.4" text-anchor="middle" fill="#555555">-4</text>
<text x="498.6" y="373.6" font-size="6.4" text-anchor="end" fill="#555555">-4</text>
<path d="M523.4 371.3v-1.3M523.4 232.1v1.3M500.6 353.9h1.3M683.2 353.9h-1.3" stroke="#262626" stroke-width="0.5"/>
<text x="523.4" y="379.9" font-size="6.4" text-anchor="middle" fill="#555555">-3</text>
<text x="498.6" y="356.2" font-size="6.4" text-anchor="end" fill="#555555">-3</text>
<path d="M546.2 371.3v-1.3M546.2 232.1v1.3M500.6 336.5h1.3M683.2 336.5h-1.3" stroke="#262626" stroke-width="0.5"/>
<text x="546.2" y="379.9" font-size="6.4" text-anchor="middle" fill="#555555">-2</text>
<text x="498.6" y="338.8" font-size="6.4" text-anchor="end" fill="#555555">-2</text>
<path d="M569.1 371.3v-1.3M569.1 232.1v1.3M500.6 319.1h1.3M683.2 319.1h-1.3" stroke="#262626" stroke-width="0.5"/>
<text x="569.1" y="379.9" font-size="6.4" text-anchor="middle" fill="#555555">-1</text>
<text x="498.6" y="321.4" font-size="6.4" text-anchor="end" fill="#555555">-1</text>
<path d="M591.9 371.3v-1.3M591.9 232.1v1.3M500.6 301.7h1.3M683.2 301.7h-1.3" stroke="#262626" stroke-width="0.5"/>
<text x="591.9" y="379.9" font-size="6.4" text-anchor="middle" fill="#555555">0</text>
<text x="498.6" y="304" font-size="6.4" text-anchor="end" fill="#555555">0</text>
<path d="M614.7 371.3v-1.3M614.7 232.1v1.3M500.6 284.3h1.3M683.2 284.3h-1.3" stroke="#262626" stroke-width="0.5"/>
<text x="614.7" y="379.9" font-size="6.4" text-anchor="middle" fill="#555555">1</text>
<text x="498.6" y="286.6" font-size="6.4" text-anchor="end" fill="#555555">1</text>
<path d="M637.6 371.3v-1.3M637.6 232.1v1.3M500.6 266.9h1.3M683.2 266.9h-1.3" stroke="#262626" stroke-width="0.5"/>
<text x="637.6" y="379.9" font-size="6.4" text-anchor="middle" fill="#555555">2</text>
<text x="498.6" y="269.2" font-size="6.4" text-anchor="end" fill="#555555">2</text>
<path d="M660.4 371.3v-1.3M660.4 232.1v1.3M500.6 249.5h1.3M683.2 249.5h-1.3" stroke="#262626" stroke-width="0.5"/>
<text x="660.4" y="379.9" font-size="6.4" text-anchor="middle" fill="#555555">3</text>
<text x="498.6" y="251.8" font-size="6.4" text-anchor="end" fill="#555555">3</text>
<path d="M683.2 371.3v-1.3M683.2 232.1v1.3M500.6 232.1h1.3M683.2 232.1h-1.3" stroke="#262626" stroke-width="0.5"/>
<text x="683.2" y="379.9" font-size="6.4" text-anchor="middle" fill="#555555">4</text>
<text x="498.6" y="234.4" font-size="6.4" text-anchor="end" fill="#555555">4</text>
<text x="591.9" y="393.9" font-size="11.5" text-anchor="middle" fill="#000">x</text>
<text transform="translate(489.1,302) rotate(-90)" font-size="11.2" font-weight="bold" text-anchor="middle" fill="#111">t</text>
<text x="608.8" y="222.6" font-size="11.6" font-weight="bold" text-anchor="middle" fill="#000">(c<tspan font-size="9.5" dy="5.4">2</tspan><tspan dy="-5.4">)</tspan></text>
<path d="M106.6 167.3L30.9 139.3M106.6 167.3L206.3 146.3M30.9 139.3L30.9 48.2M206.3 146.3L206.3 55.2M131.5 162.1L55.8 134.1M87.7 160.3L187.4 139.3M55.8 134.1L55.8 43M187.4 139.3L187.4 48.2M156.4 156.8L80.8 128.8M68.8 153.3L168.5 132.3M80.8 128.8L80.8 37.7M168.5 132.3L168.5 41.2M181.4 151.6L105.7 123.6M49.8 146.3L149.5 125.3M105.7 123.6L105.7 32.5M149.5 125.3L149.5 34.2M206.3 146.3L130.6 118.3M30.9 139.3L130.6 118.3M130.6 118.3L130.6 27.2M130.6 118.3L130.6 27.2M30.9 125.8L130.6 104.8M130.6 104.8L206.3 132.8M30.9 93.6L130.6 72.6M130.6 72.6L206.3 100.6M30.9 61.3L130.6 40.3M130.6 40.3L206.3 68.3" stroke="#e4e4e4" stroke-width="0.6" fill="none"/>
<polygon points="30.9,61.3 130.6,40.3 206.3,68.3 106.6,89.3" fill="#ff0000"/>
<g clip-path="url(#pcl)"><polygon points="127,66 134,64.5 153,79.5 142,83" fill="url(#str)" filter="url(#blr)"/></g>
<path d="M141.2 81.9C141.7 83.1 143.2 85.9 144.2 88.9C145.2 92 146.6 95.9 147.4 100.2C148.2 104.5 148.2 110 148.8 115C149.4 120 150.3 125 151 130C151.7 135 152.5 140.7 153 145C153.5 149.3 154 154 154.2 155.8L154.7,155.8C154.8 154 155.3 149.3 155.6 145C155.9 140.7 156.1 135 156.3 130C156.5 125 156.6 120 157 115C157.4 110 158.2 106.1 158.6 100C159 93.9 159.1 81.8 159.2 78.2L159.2 76.9L141.2 80.6Z" fill="url(#fun)"/>
<path d="M30.9 48.2V139.3" stroke="#b0b0b0" stroke-width="1.1" fill="none"/>
<path d="M30.9 139.3L106.6 167.3L206.3 146.3" stroke="#4a4a4a" stroke-width="0.75" fill="none" stroke-linejoin="round"/>
<path d="M30.9 125.8h-2.4M30.9 93.6h-2.4M30.9 61.3h-2.4M106.6 167.3l-2.2 1.1M106.6 167.3l1.7 0.6M87.7 160.3l-2.2 1.1M131.5 162.1l1.7 0.6M68.8 153.3l-2.2 1.1M156.4 156.8l1.7 0.6M49.8 146.3l-2.2 1.1M181.4 151.6l1.7 0.6M30.9 139.3l-2.2 1.1M206.3 146.3l1.7 0.6" stroke="#555" stroke-width="0.6" fill="none"/>
<text x="26.4" y="128.1" font-size="6.4" text-anchor="end" fill="#555555">7</text>
<text x="26.4" y="95.9" font-size="6.4" text-anchor="end" fill="#555555">7.5</text>
<text x="26.4" y="63.6" font-size="6.4" text-anchor="end" fill="#555555">8</text>
<text x="24.5" y="146.4" font-size="6.4" text-anchor="middle" fill="#555555">4</text>
<text x="43.7" y="154.1" font-size="6.4" text-anchor="middle" fill="#555555">2</text>
<text x="62.5" y="160.8" font-size="6.4" text-anchor="middle" fill="#555555">0</text>
<text x="81" y="168.4" font-size="6.4" text-anchor="middle" fill="#555555">-2</text>
<text x="100" y="175.5" font-size="6.4" text-anchor="middle" fill="#555555">-4</text>
<text x="113.7" y="176.4" font-size="6.4" text-anchor="middle" fill="#555555">-4</text>
<text x="138.6" y="170" font-size="6.4" text-anchor="middle" fill="#555555">-2</text>
<text x="163" y="165.3" font-size="6.4" text-anchor="middle" fill="#555555">0</text>
<text x="188" y="159.8" font-size="6.4" text-anchor="middle" fill="#555555">2</text>
<text x="212.9" y="154.2" font-size="6.4" text-anchor="middle" fill="#555555">4</text>
<text x="72.2" y="183.3" font-size="11.5" text-anchor="middle" fill="#000">t</text>
<text x="148.8" y="184.9" font-size="11.5" text-anchor="middle" fill="#000">x</text>
<text transform="translate(9.7,93.8) rotate(-90)" font-size="11.6" text-anchor="middle" fill="#111">U<tspan font-size="9" dy="5.1">74</tspan><tspan dy="-5.1">(x,t)</tspan></text>
<text x="129.4" y="9.5" font-size="11.6" font-weight="bold" text-anchor="middle" fill="#000">(a<tspan font-size="9.5" dy="5.4">1</tspan><tspan dy="-5.4">)</tspan></text>
<path d="M341.3 167.3L266.5 147.1M341.3 167.3L441.2 152M266.5 147.1L266.5 41.5M441.2 152L441.2 46.4M366.3 163.5L291.5 143.3M322.6 162.2L422.5 146.9M291.5 143.3L291.5 37.7M422.5 146.9L422.5 41.3M391.2 159.7L316.4 139.4M303.9 157.2L403.8 141.9M316.4 139.4L316.4 33.8M403.8 141.9L403.8 36.3M416.2 155.8L341.4 135.6M285.2 152.2L385.1 136.8M341.4 135.6L341.4 30M385.1 136.8L385.1 31.2M441.2 152L366.4 131.8M266.5 147.1L366.4 131.8M366.4 131.8L366.4 26.2M366.4 131.8L366.4 26.2M266.5 147.1L366.4 131.8M366.4 131.8L441.2 152M266.5 129.5L366.4 114.2M366.4 114.2L441.2 134.4M266.5 111.9L366.4 96.6M366.4 96.6L441.2 116.8M266.5 94.3L366.4 79M366.4 79L441.2 99.2M266.5 76.7L366.4 61.4M366.4 61.4L441.2 81.6M266.5 59.1L366.4 43.8M366.4 43.8L441.2 64M266.5 41.5L366.4 26.2M366.4 26.2L441.2 46.4" stroke="#e4e4e4" stroke-width="0.6" fill="none"/>
<path d="M365.1 66.8L366.4 64.9L361.1 65.7ZM365.1 66.8L370.3 66L366.4 64.9ZM359.8 67.6L361.1 65.7L355.9 66.5ZM359.8 67.6L365.1 66.8L361.1 65.7ZM369 67.9L370.3 66L365.1 66.8ZM369 67.9L374.3 67L370.3 66ZM354.6 68.4L355.9 66.5L350.6 67.3ZM354.6 68.4L359.8 67.6L355.9 66.5ZM363.8 68.7L365.1 66.8L359.8 67.6ZM363.8 68.7L369 67.9L365.1 66.8ZM373 68.9L374.3 67L369 67.9ZM373 68.9L378.2 68.1L374.3 67ZM349.3 69.2L350.6 67.3L345.4 68.1ZM349.3 69.2L354.6 68.4L350.6 67.3ZM358.5 69.5L359.8 67.6L354.6 68.4ZM358.5 69.5L363.8 68.7L359.8 67.6ZM367.7 69.7L369 67.9L363.8 68.7ZM367.7 69.7L373 68.9L369 67.9ZM376.9 70L378.2 68.1L373 68.9ZM344 70L345.4 68.1L340.1 68.9ZM376.9 70L382.1 69.2L378.2 68.1ZM344 70L349.3 69.2L345.4 68.1ZM353.2 70.3L354.6 68.4L349.3 69.2ZM353.2 70.3L358.5 69.5L354.6 68.4ZM362.4 70.5L363.8 68.7L358.5 69.5ZM362.4 70.5L367.7 69.7L363.8 68.7ZM371.6 70.8L373 68.9L367.7 69.7ZM338.8 70.8L340.1 68.9L334.9 69.8ZM371.6 70.8L376.9 70L373 68.9ZM338.8 70.8L344 70L340.1 68.9ZM380.8 71L382.1 69.2L376.9 70ZM348 71.1L349.3 69.2L344 70ZM380.8 71L386.1 70.2L382.1 69.2ZM348 71.1L353.2 70.3L349.3 69.2ZM357.2 71.3L358.5 69.5L353.2 70.3ZM357.2 71.3L362.4 70.5L358.5 69.5ZM366.4 71.6L367.7 69.7L362.4 70.5ZM333.5 71.6L334.9 69.8L329.6 70.6ZM366.4 71.6L371.6 70.8L367.7 69.7ZM333.5 71.6L338.8 70.8L334.9 69.8ZM375.6 71.8L376.9 70L371.6 70.8ZM342.7 71.9L344 70L338.8 70.8ZM375.6 71.8L380.8 71L376.9 70ZM342.7 71.9L348 71.1L344 70ZM384.8 72.1L386.1 70.2L380.8 71ZM351.9 72.1L353.2 70.3L348 71.1ZM384.8 72.1L390 71.3L386.1 70.2ZM351.9 72.1L357.2 71.3L353.2 70.3ZM361.1 72.4L362.4 70.5L357.2 71.3ZM328.3 72.4L329.6 70.6L324.3 71.4ZM361.1 72.4L366.4 71.6L362.4 70.5ZM328.3 72.4L333.5 71.6L329.6 70.6ZM370.3 72.7L371.6 70.8L366.4 71.6ZM337.5 72.7L338.8 70.8L333.5 71.6ZM370.3 72.7L375.6 71.8L371.6 70.8ZM337.5 72.7L342.7 71.9L338.8 70.8ZM379.5 72.9L380.8 71L375.6 71.8ZM346.7 72.9L348 71.1L342.7 71.9ZM379.5 72.9L384.8 72.1L380.8 71ZM346.7 72.9L351.9 72.1L348 71.1ZM388.7 73.2L390 71.3L384.8 72.1ZM355.9 73.2L357.2 71.3L351.9 72.1ZM323 73.2L324.3 71.4L319.1 72.2ZM388.7 73.2L394 72.4L390 71.3ZM355.9 73.2L361.1 72.4L357.2 71.3ZM323 73.2L328.3 72.4L324.3 71.4ZM365.1 73.5L366.4 71.6L361.1 72.4ZM332.2 73.5L333.5 71.6L328.3 72.4ZM365.1 73.5L370.3 72.7L366.4 71.6ZM332.2 73.5L337.5 72.7L333.5 71.6ZM374.2 73.7L375.6 71.8L370.3 72.7ZM341.4 73.7L342.7 71.9L337.5 72.7ZM374.2 73.7L379.5 72.9L375.6 71.8ZM341.4 73.7L346.7 72.9L342.7 71.9ZM383.4 74L384.8 72.1L379.5 72.9ZM350.6 74L351.9 72.1L346.7 72.9ZM317.8 74L319.1 72.2L313.8 73ZM383.4 74L388.7 73.2L384.8 72.1ZM350.6 74L355.9 73.2L351.9 72.1ZM317.8 74L323 73.2L319.1 72.2ZM392.6 74.2L394 72.4L388.7 73.2ZM359.8 74.3L361.1 72.4L355.9 73.2ZM327 74.3L328.3 72.4L323 73.2ZM392.6 74.2L397.9 73.4L394 72.4ZM359.8 74.3L365.1 73.5L361.1 72.4ZM327 74.3L332.2 73.5L328.3 72.4ZM369 74.5L370.3 72.7L365.1 73.5ZM336.1 74.6L337.5 72.7L332.2 73.5ZM369 74.5L374.2 73.7L370.3 72.7ZM336.1 74.6L341.4 73.7L337.5 72.7ZM378.2 74.8L379.5 72.9L374.2 73.7ZM345.3 74.8L346.7 72.9L341.4 73.7ZM312.5 74.8L313.8 73L308.6 73.8ZM378.2 74.8L383.4 74L379.5 72.9ZM345.3 74.8L350.6 74L346.7 72.9ZM312.5 74.8L317.8 74L313.8 73ZM387.4 75L388.7 73.2L383.4 74ZM354.5 75.1L355.9 73.2L350.6 74ZM321.7 75.1L323 73.2L317.8 74ZM387.4 75L392.6 74.2L388.7 73.2ZM354.5 75.1L359.8 74.3L355.9 73.2ZM321.7 75.1L327 74.3L323 73.2ZM396.6 75.3L397.9 73.4L392.6 74.2ZM363.7 75.3L365.1 73.5L359.8 74.3ZM330.9 75.4L332.2 73.5L327 74.3ZM396.6 75.3L401.8 74.5L397.9 73.4ZM363.7 75.3L369 74.5L365.1 73.5ZM330.9 75.4L336.1 74.6L332.2 73.5ZM372.9 75.6L374.2 73.7L369 74.5ZM340.1 75.6L341.4 73.7L336.1 74.6Z" fill="#4400ff" stroke="#4400ff" stroke-width="1.0" stroke-linejoin="round"/>
<path d="M307.2 75.6L308.6 73.8L303.3 72.6Z" fill="url(#g1)" stroke="url(#g1)" stroke-width="1.0" stroke-linejoin="round"/>
<path d="M372.9 75.6L378.2 74.8L374.2 73.7ZM340.1 75.6L345.3 74.8L341.4 73.7ZM307.2 75.6L312.5 74.8L308.6 73.8ZM382.1 75.8L383.4 74L378.2 74.8ZM349.3 75.9L350.6 74L345.3 74.8ZM316.4 75.9L317.8 74L312.5 74.8ZM382.1 75.8L387.4 75L383.4 74ZM349.3 75.9L354.5 75.1L350.6 74ZM316.4 75.9L321.7 75.1L317.8 74ZM391.3 76.1L392.6 74.2L387.4 75ZM358.5 76.1L359.8 74.3L354.5 75.1ZM325.6 76.2L327 74.3L321.7 75.1ZM391.3 76.1L396.6 75.3L392.6 74.2ZM358.5 76.1L363.7 75.3L359.8 74.3ZM325.6 76.2L330.9 75.4L327 74.3ZM400.5 76.4L401.8 74.5L396.6 75.3ZM367.7 76.4L369 74.5L363.7 75.3ZM334.8 76.4L336.1 74.6L330.9 75.4ZM400.5 76.4L405.8 75.6L401.8 74.5Z" fill="#4400ff" stroke="#4400ff" stroke-width="1.0" stroke-linejoin="round"/>
<path d="M302 76.5L303.3 72.6L298 74.3Z" fill="url(#g2)" stroke="url(#g2)" stroke-width="1.0" stroke-linejoin="round"/>
<path d="M367.7 76.4L372.9 75.6L369 74.5ZM334.8 76.4L340.1 75.6L336.1 74.6Z" fill="#4400ff" stroke="#4400ff" stroke-width="1.0" stroke-linejoin="round"/>
<path d="M302 76.5L307.2 75.6L303.3 72.6Z" fill="url(#g3)" stroke="url(#g3)" stroke-width="1.0" stroke-linejoin="round"/>
<path d="M376.9 76.6L378.2 74.8L372.9 75.6ZM344 76.7L345.3 74.8L340.1 75.6ZM311.2 76.7L312.5 74.8L307.2 75.6ZM376.9 76.6L382.1 75.8L378.2 74.8ZM344 76.7L349.3 75.9L345.3 74.8ZM311.2 76.7L316.4 75.9L312.5 74.8ZM386.1 76.9L387.4 75L382.1 75.8ZM353.2 76.9L354.5 75.1L349.3 75.9ZM320.4 77L321.7 75.1L316.4 75.9ZM386.1 76.9L391.3 76.1L387.4 75ZM353.2 76.9L358.5 76.1L354.5 75.1ZM320.4 77L325.6 76.2L321.7 75.1ZM395.3 77.2L396.6 75.3L391.3 76.1ZM362.4 77.2L363.7 75.3L358.5 76.1ZM329.6 77.2L330.9 75.4L325.6 76.2ZM395.3 77.2L400.5 76.4L396.6 75.3Z" fill="#4400ff" stroke="#4400ff" stroke-width="1.0" stroke-linejoin="round"/>
<path d="M296.7 77.4L298 74.3L292.8 78.8Z" fill="url(#g4)" stroke="url(#g4)" stroke-width="1.0" stroke-linejoin="round"/>
<path d="M362.4 77.2L367.7 76.4L363.7 75.3ZM329.6 77.2L334.8 76.4L330.9 75.4Z" fill="#4400ff" stroke="#4400ff" stroke-width="1.0" stroke-linejoin="round"/>
<path d="M296.7 77.4L302 76.5L298 74.3Z" fill="url(#g5)" stroke="url(#g5)" stroke-width="1.0" stroke-linejoin="round"/>
<path d="M404.4 77.4L405.8 75.6L400.5 76.4ZM371.6 77.5L372.9 75.6L367.7 76.4ZM338.8 77.5L340.1 75.6L334.8 76.4ZM404.4 77.4L409.7 76.6L405.8 75.6Z" fill="#4400ff" stroke="#4400ff" stroke-width="1.0" stroke-linejoin="round"/>
<path d="M305.9 74L307.2 75.6L302 76.5Z" fill="url(#g6)" stroke="url(#g6)" stroke-width="1.0" stroke-linejoin="round"/>
<path d="M371.6 77.5L376.9 76.6L372.9 75.6ZM338.8 77.5L344 76.7L340.1 75.6Z" fill="#4400ff" stroke="#4400ff" stroke-width="1.0" stroke-linejoin="round"/>
<path d="M305.9 74L311.2 76.7L307.2 75.6Z" fill="url(#g7)" stroke="url(#g7)" stroke-width="1.0" stroke-linejoin="round"/>
<path d="M380.8 77.7L382.1 75.8L376.9 76.6ZM348 77.7L349.3 75.9L344 76.7ZM315.1 77.9L316.4 75.9L311.2 76.7ZM380.8 77.7L386.1 76.9L382.1 75.8ZM348 77.7L353.2 76.9L349.3 75.9ZM315.1 77.9L320.4 77L316.4 75.9ZM390 78L391.3 76.1L386.1 76.9ZM357.2 78L358.5 76.1L353.2 76.9Z" fill="#4400ff" stroke="#4400ff" stroke-width="1.0" stroke-linejoin="round"/>
<path d="M324.3 74.5L325.6 76.2L320.4 77Z" fill="url(#g8)" stroke="url(#g8)" stroke-width="1.0" stroke-linejoin="round"/>
<path d="M390 78L395.3 77.2L391.3 76.1Z" fill="#4400ff" stroke="#4400ff" stroke-width="1.0" stroke-linejoin="round"/>
<path d="M291.5 85.9L292.8 78.8L287.5 75.7Z" fill="url(#g9)" stroke="url(#g9)" stroke-width="1.0" stroke-linejoin="round"/>
<path d="M357.2 78L362.4 77.2L358.5 76.1Z" fill="#4400ff" stroke="#4400ff" stroke-width="1.0" stroke-linejoin="round"/>
<path d="M324.3 74.5L329.6 77.2L325.6 76.2Z" fill="url(#g10)" stroke="url(#g10)" stroke-width="1.0" stroke-linejoin="round"/>
<path d="M291.5 85.9L296.7 77.4L292.8 78.8Z" fill="url(#g11)" stroke="url(#g11)" stroke-width="1.0" stroke-linejoin="round"/>
<path d="M399.2 78.2L400.5 76.4L395.3 77.2ZM366.3 78.3L367.7 76.4L362.4 77.2Z" fill="#4400ff" stroke="#4400ff" stroke-width="1.0" stroke-linejoin="round"/>
<path d="M333.5 73.9L334.8 76.4L329.6 77.2Z" fill="url(#g12)" stroke="url(#g12)" stroke-width="1.0" stroke-linejoin="round"/>
<path d="M399.2 78.2L404.4 77.4L400.5 76.4Z" fill="#4400ff" stroke="#4400ff" stroke-width="1.0" stroke-linejoin="round"/>
<path d="M300.7 87.8L302 76.5L296.7 77.4Z" fill="url(#g13)" stroke="url(#g13)" stroke-width="1.0" stroke-linejoin="round"/>
<path d="M366.3 78.3L371.6 77.5L367.7 76.4Z" fill="#4400ff" stroke="#4400ff" stroke-width="1.0" stroke-linejoin="round"/>
<path d="M333.5 73.9L338.8 77.5L334.8 76.4Z" fill="url(#g14)" stroke="url(#g14)" stroke-width="1.0" stroke-linejoin="round"/>
<path d="M300.7 87.8L305.9 74L302 76.5Z" fill="url(#g15)" stroke="url(#g15)" stroke-width="1.0" stroke-linejoin="round"/>
<path d="M408.4 78.5L409.7 76.6L404.4 77.4ZM375.5 78.5L376.9 76.6L371.6 77.5ZM342.7 78.6L344 76.7L338.8 77.5ZM408.4 78.5L413.6 77.7L409.7 76.6Z" fill="#4400ff" stroke="#4400ff" stroke-width="1.0" stroke-linejoin="round"/>
<path d="M309.9 54.3L311.2 76.7L305.9 74Z" fill="url(#g16)" stroke="url(#g16)" stroke-width="1.0" stroke-linejoin="round"/>
<path d="M375.5 78.5L380.8 77.7L376.9 76.6ZM342.7 78.6L348 77.7L344 76.7Z" fill="#4400ff" stroke="#4400ff" stroke-width="1.0" stroke-linejoin="round"/>
<path d="M309.9 54.3L315.1 77.9L311.2 76.7Z" fill="url(#g17)" stroke="url(#g17)" stroke-width="1.0" stroke-linejoin="round"/>
<path d="M384.7 78.8L386.1 76.9L380.8 77.7ZM351.9 78.8L353.2 76.9L348 77.7Z" fill="#4400ff" stroke="#4400ff" stroke-width="1.0" stroke-linejoin="round"/>
<path d="M319.1 107L320.4 77L315.1 77.9Z" fill="url(#g18)" stroke="url(#g18)" stroke-width="1.0" stroke-linejoin="round"/>
<path d="M384.7 78.8L390 78L386.1 76.9Z" fill="#4400ff" stroke="#4400ff" stroke-width="1.0" stroke-linejoin="round"/>
<path d="M286.2 100.3L287.5 75.7L282.3 82Z" fill="url(#g19)" stroke="url(#g19)" stroke-width="1.0" stroke-linejoin="round"/>
<path d="M351.9 78.8L357.2 78L353.2 76.9Z" fill="#4400ff" stroke="#4400ff" stroke-width="1.0" stroke-linejoin="round"/>
<path d="M319.1 107L324.3 74.5L320.4 77Z" fill="url(#g20)" stroke="url(#g20)" stroke-width="1.0" stroke-linejoin="round"/>
<path d="M286.2 100.3L291.5 85.9L287.5 75.7Z" fill="url(#g21)" stroke="url(#g21)" stroke-width="1.0" stroke-linejoin="round"/>
<path d="M393.9 79L395.3 77.2L390 78ZM361.1 79.1L362.4 77.2L357.2 78Z" fill="#4400ff" stroke="#4400ff" stroke-width="1.0" stroke-linejoin="round"/>
<path d="M328.2 60.4L329.6 77.2L324.3 74.5Z" fill="url(#g22)" stroke="url(#g22)" stroke-width="1.0" stroke-linejoin="round"/>
<path d="M393.9 79L399.2 78.2L395.3 77.2Z" fill="#4400ff" stroke="#4400ff" stroke-width="1.0" stroke-linejoin="round"/>
<path d="M295.4 100.7L296.7 77.4L291.5 85.9Z" fill="url(#g23)" stroke="url(#g23)" stroke-width="1.0" stroke-linejoin="round"/>
<path d="M361.1 79.1L366.3 78.3L362.4 77.2Z" fill="#4400ff" stroke="#4400ff" stroke-width="1.0" stroke-linejoin="round"/>
<path d="M328.2 60.4L333.5 73.9L329.6 77.2Z" fill="url(#g24)" stroke="url(#g24)" stroke-width="1.0" stroke-linejoin="round"/>
<path d="M295.4 100.7L300.7 87.8L296.7 77.4Z" fill="url(#g25)" stroke="url(#g25)" stroke-width="1.0" stroke-linejoin="round"/>
<path d="M403.1 79.3L404.4 77.4L399.2 78.2ZM370.3 79.3L371.6 77.5L366.3 78.3Z" fill="#4400ff" stroke="#4400ff" stroke-width="1.0" stroke-linejoin="round"/>
<path d="M337.4 116.3L338.8 77.5L333.5 73.9Z" fill="url(#g26)" stroke="url(#g26)" stroke-width="1.0" stroke-linejoin="round"/>
<path d="M403.1 79.3L408.4 78.5L404.4 77.4Z" fill="#4400ff" stroke="#4400ff" stroke-width="1.0" stroke-linejoin="round"/>
<path d="M304.6 74.1L305.9 74L300.7 87.8Z" fill="url(#g27)" stroke="url(#g27)" stroke-width="1.0" stroke-linejoin="round"/>
<path d="M370.3 79.3L375.5 78.5L371.6 77.5Z" fill="#4400ff" stroke="#4400ff" stroke-width="1.0" stroke-linejoin="round"/>
<path d="M337.4 116.3L342.7 78.6L338.8 77.5Z" fill="url(#g28)" stroke="url(#g28)" stroke-width="1.0" stroke-linejoin="round"/>
<path d="M304.6 74.1L309.9 54.3L305.9 74Z" fill="url(#g29)" stroke="url(#g29)" stroke-width="1.0" stroke-linejoin="round"/>
<path d="M412.3 79.5L413.6 77.7L408.4 78.5ZM379.5 79.6L380.8 77.7L375.5 78.5Z" fill="#4400ff" stroke="#4400ff" stroke-width="1.0" stroke-linejoin="round"/>
<path d="M346.6 80L348 77.7L342.7 78.6Z" fill="#4100ff" stroke="#4100ff" stroke-width="1.0" stroke-linejoin="round"/>
<path d="M412.3 79.5L417.6 78.7L413.6 77.7Z" fill="#4400ff" stroke="#4400ff" stroke-width="1.0" stroke-linejoin="round"/>
<path d="M313.8 118.4L315.1 77.9L309.9 54.3Z" fill="url(#g30)" stroke="url(#g30)" stroke-width="1.0" stroke-linejoin="round"/>
<path d="M379.5 79.6L384.7 78.8L380.8 77.7Z" fill="#4400ff" stroke="#4400ff" stroke-width="1.0" stroke-linejoin="round"/>
<path d="M281 101.5L282.3 82L277 90.5Z" fill="url(#g31)" stroke="url(#g31)" stroke-width="1.0" stroke-linejoin="round"/>
<path d="M346.6 80L351.9 78.8L348 77.7Z" fill="#4200ff" stroke="#4200ff" stroke-width="1.0" stroke-linejoin="round"/>
<path d="M313.8 118.4L319.1 107L315.1 77.9Z" fill="url(#g32)" stroke="url(#g32)" stroke-width="1.0" stroke-linejoin="round"/>
<path d="M281 101.5L286.2 100.3L282.3 82Z" fill="url(#g33)" stroke="url(#g33)" stroke-width="1.0" stroke-linejoin="round"/>
<path d="M388.7 79.8L390 78L384.7 78.8ZM355.8 79.9L357.2 78L351.9 78.8Z" fill="#4400ff" stroke="#4400ff" stroke-width="1.0" stroke-linejoin="round"/>
<path d="M323 101.4L324.3 74.5L319.1 107Z" fill="url(#g34)" stroke="url(#g34)" stroke-width="1.0" stroke-linejoin="round"/>
<path d="M388.7 79.8L393.9 79L390 78Z" fill="#4400ff" stroke="#4400ff" stroke-width="1.0" stroke-linejoin="round"/>
<path d="M290.1 101.8L291.5 85.9L286.2 100.3Z" fill="url(#g35)" stroke="url(#g35)" stroke-width="1.0" stroke-linejoin="round"/>
<path d="M355.8 79.9L361.1 79.1L357.2 78Z" fill="#4400ff" stroke="#4400ff" stroke-width="1.0" stroke-linejoin="round"/>
<path d="M323 101.4L328.2 60.4L324.3 74.5Z" fill="url(#g36)" stroke="url(#g36)" stroke-width="1.0" stroke-linejoin="round"/>
<path d="M290.1 101.8L295.4 100.7L291.5 85.9Z" fill="url(#g37)" stroke="url(#g37)" stroke-width="1.0" stroke-linejoin="round"/>
<path d="M397.9 80.1L399.2 78.2L393.9 79ZM365 80.1L366.3 78.3L361.1 79.1Z" fill="#4400ff" stroke="#4400ff" stroke-width="1.0" stroke-linejoin="round"/>
<path d="M332.2 142.8L333.5 73.9L328.2 60.4Z" fill="url(#g38)" stroke="url(#g38)" stroke-width="1.0" stroke-linejoin="round"/>
<path d="M397.9 80.1L403.1 79.3L399.2 78.2Z" fill="#4400ff" stroke="#4400ff" stroke-width="1.0" stroke-linejoin="round"/>
<path d="M299.3 102L300.7 87.8L295.4 100.7Z" fill="url(#g39)" stroke="url(#g39)" stroke-width="1.0" stroke-linejoin="round"/>
<path d="M365 80.1L370.3 79.3L366.3 78.3Z" fill="#4400ff" stroke="#4400ff" stroke-width="1.0" stroke-linejoin="round"/>
<path d="M332.2 142.8L337.4 116.3L333.5 73.9Z" fill="url(#g40)" stroke="url(#g40)" stroke-width="1.0" stroke-linejoin="round"/>
<path d="M299.3 102L304.6 74.1L300.7 87.8Z" fill="url(#g41)" stroke="url(#g41)" stroke-width="1.0" stroke-linejoin="round"/>
<path d="M407.1 80.4L408.4 78.5L403.1 79.3ZM374.2 80.4L375.5 78.5L370.3 79.3Z" fill="#4400ff" stroke="#4400ff" stroke-width="1.0" stroke-linejoin="round"/>
<path d="M341.4 95.1L342.7 78.6L337.4 116.3Z" fill="url(#g42)" stroke="url(#g42)" stroke-width="1.0" stroke-linejoin="round"/>
<path d="M407.1 80.4L412.3 79.5L408.4 78.5Z" fill="#4400ff" stroke="#4400ff" stroke-width="1.0" stroke-linejoin="round"/>
<path d="M308.5 108.6L309.9 54.3L304.6 74.1Z" fill="url(#g43)" stroke="url(#g43)" stroke-width="1.0" stroke-linejoin="round"/>
<path d="M374.2 80.4L379.5 79.6L375.5 78.5Z" fill="#4400ff" stroke="#4400ff" stroke-width="1.0" stroke-linejoin="round"/>
<path d="M275.7 102.3L277 90.5L271.8 102.1Z" fill="url(#g44)" stroke="url(#g44)" stroke-width="1.0" stroke-linejoin="round"/>
<path d="M341.4 95.1L346.6 80L342.7 78.6Z" fill="url(#g45)" stroke="url(#g45)" stroke-width="1.0" stroke-linejoin="round"/>
<path d="M308.5 108.6L313.8 118.4L309.9 54.3Z" fill="url(#g46)" stroke="url(#g46)" stroke-width="1.0" stroke-linejoin="round"/>
<path d="M275.7 102.3L281 101.5L277 90.5Z" fill="url(#g47)" stroke="url(#g47)" stroke-width="1.0" stroke-linejoin="round"/>
<path d="M416.3 80.6L417.6 78.7L412.3 79.5ZM383.4 80.6L384.7 78.8L379.5 79.6Z" fill="#4400ff" stroke="#4400ff" stroke-width="1.0" stroke-linejoin="round"/>
<path d="M350.6 82L351.9 78.8L346.6 80Z" fill="url(#g48)" stroke="url(#g48)" stroke-width="1.0" stroke-linejoin="round"/>
<path d="M416.3 80.6L421.5 79.8L417.6 78.7Z" fill="#4400ff" stroke="#4400ff" stroke-width="1.0" stroke-linejoin="round"/>
<path d="M317.7 102.5L319.1 107L313.8 118.4Z" fill="url(#g49)" stroke="url(#g49)" stroke-width="1.0" stroke-linejoin="round"/>
<path d="M383.4 80.6L388.7 79.8L384.7 78.8Z" fill="#4400ff" stroke="#4400ff" stroke-width="1.0" stroke-linejoin="round"/>
<path d="M284.9 102.6L286.2 100.3L281 101.5Z" fill="#00ffda" stroke="#00ffda" stroke-width="1.0" stroke-linejoin="round"/>
<path d="M350.6 82L355.8 79.9L351.9 78.8Z" fill="url(#g50)" stroke="url(#g50)" stroke-width="1.0" stroke-linejoin="round"/>
<path d="M317.7 102.5L323 101.4L319.1 107Z" fill="url(#g51)" stroke="url(#g51)" stroke-width="1.0" stroke-linejoin="round"/>
<path d="M284.9 102.6L290.1 101.8L286.2 100.3Z" fill="#00ffda" stroke="#00ffda" stroke-width="1.0" stroke-linejoin="round"/>
<path d="M392.6 80.9L393.9 79L388.7 79.8ZM359.8 81L361.1 79.1L355.8 79.9Z" fill="#4400ff" stroke="#4400ff" stroke-width="1.0" stroke-linejoin="round"/>
<path d="M326.9 117.9L328.2 60.4L323 101.4Z" fill="url(#g52)" stroke="url(#g52)" stroke-width="1.0" stroke-linejoin="round"/>
<path d="M392.6 80.9L397.9 80.1L393.9 79Z" fill="#4400ff" stroke="#4400ff" stroke-width="1.0" stroke-linejoin="round"/>
<path d="M294.1 102.8L295.4 100.7L290.1 101.8Z" fill="#00ffd9" stroke="#00ffd9" stroke-width="1.0" stroke-linejoin="round"/>
<path d="M359.8 81L365 80.1L361.1 79.1Z" fill="#4400ff" stroke="#4400ff" stroke-width="1.0" stroke-linejoin="round"/>
<path d="M326.9 117.9L332.2 142.8L328.2 60.4Z" fill="url(#g53)" stroke="url(#g53)" stroke-width="1.0" stroke-linejoin="round"/>
<path d="M294.1 102.8L299.3 102L295.4 100.7Z" fill="#00ffd9" stroke="#00ffd9" stroke-width="1.0" stroke-linejoin="round"/>
<path d="M401.8 81.2L403.1 79.3L397.9 80.1ZM369 81.2L370.3 79.3L365 80.1Z" fill="#4400ff" stroke="#4400ff" stroke-width="1.0" stroke-linejoin="round"/>
<path d="M336.1 102.9L337.4 116.3L332.2 142.8Z" fill="url(#g54)" stroke="url(#g54)" stroke-width="1.0" stroke-linejoin="round"/>
<path d="M401.8 81.2L407.1 80.4L403.1 79.3Z" fill="#4400ff" stroke="#4400ff" stroke-width="1.0" stroke-linejoin="round"/>
<path d="M303.3 103.1L304.6 74.1L299.3 102Z" fill="url(#g55)" stroke="url(#g55)" stroke-width="1.0" stroke-linejoin="round"/>
<path d="M369 81.2L374.2 80.4L370.3 79.3Z" fill="#4400ff" stroke="#4400ff" stroke-width="1.0" stroke-linejoin="round"/>
<path d="M270.4 104.5L271.8 102.1L266.5 104Z" fill="url(#g56)" stroke="url(#g56)" stroke-width="1.0" stroke-linejoin="round"/>
<path d="M336.1 102.9L341.4 95.1L337.4 116.3Z" fill="url(#g57)" stroke="url(#g57)" stroke-width="1.0" stroke-linejoin="round"/>
<path d="M303.3 103.1L308.5 108.6L304.6 74.1Z" fill="url(#g58)" stroke="url(#g58)" stroke-width="1.0" stroke-linejoin="round"/>
<path d="M270.4 104.5L275.7 102.3L271.8 102.1Z" fill="url(#g59)" stroke="url(#g59)" stroke-width="1.0" stroke-linejoin="round"/>
<path d="M411 81.4L412.3 79.5L407.1 80.4ZM378.2 81.4L379.5 79.6L374.2 80.4Z" fill="#4400ff" stroke="#4400ff" stroke-width="1.0" stroke-linejoin="round"/>
<path d="M345.3 100.4L346.6 80L341.4 95.1Z" fill="url(#g60)" stroke="url(#g60)" stroke-width="1.0" stroke-linejoin="round"/>
<path d="M411 81.4L416.3 80.6L412.3 79.5Z" fill="#4400ff" stroke="#4400ff" stroke-width="1.0" stroke-linejoin="round"/>
<path d="M312.5 103.3L313.8 118.4L308.5 108.6Z" fill="url(#g61)" stroke="url(#g61)" stroke-width="1.0" stroke-linejoin="round"/>
<path d="M378.2 81.4L383.4 80.6L379.5 79.6Z" fill="#4400ff" stroke="#4400ff" stroke-width="1.0" stroke-linejoin="round"/>
<path d="M279.6 103.4L281 101.5L275.7 102.3Z" fill="#00ffd8" stroke="#00ffd8" stroke-width="1.0" stroke-linejoin="round"/>
<path d="M345.3 100.4L350.6 82L346.6 80Z" fill="url(#g62)" stroke="url(#g62)" stroke-width="1.0" stroke-linejoin="round"/>
<path d="M312.5 103.3L317.7 102.5L313.8 118.4Z" fill="url(#g63)" stroke="url(#g63)" stroke-width="1.0" stroke-linejoin="round"/>
<path d="M279.6 103.4L284.9 102.6L281 101.5Z" fill="#00ffd8" stroke="#00ffd8" stroke-width="1.0" stroke-linejoin="round"/>
<path d="M420.2 81.7L421.5 79.8L416.3 80.6ZM387.4 81.7L388.7 79.8L383.4 80.6Z" fill="#4400ff" stroke="#4400ff" stroke-width="1.0" stroke-linejoin="round"/>
<path d="M354.5 84L355.8 79.9L350.6 82Z" fill="url(#g64)" stroke="url(#g64)" stroke-width="1.0" stroke-linejoin="round"/>
<path d="M420.2 81.7L425.5 80.9L421.5 79.8Z" fill="#4400ff" stroke="#4400ff" stroke-width="1.0" stroke-linejoin="round"/>
<path d="M321.7 103.6L323 101.4L317.7 102.5Z" fill="#00ffd9" stroke="#00ffd9" stroke-width="1.0" stroke-linejoin="round"/>
<path d="M387.4 81.7L392.6 80.9L388.7 79.8Z" fill="#4400ff" stroke="#4400ff" stroke-width="1.0" stroke-linejoin="round"/>
<path d="M288.8 103.6L290.1 101.8L284.9 102.6Z" fill="#00ffd8" stroke="#00ffd8" stroke-width="1.0" stroke-linejoin="round"/>
<path d="M354.5 84L359.8 81L355.8 79.9Z" fill="url(#g65)" stroke="url(#g65)" stroke-width="1.0" stroke-linejoin="round"/>
<path d="M321.7 103.6L326.9 117.9L323 101.4Z" fill="url(#g66)" stroke="url(#g66)" stroke-width="1.0" stroke-linejoin="round"/>
<path d="M288.8 103.6L294.1 102.8L290.1 101.8Z" fill="#00ffd8" stroke="#00ffd8" stroke-width="1.0" stroke-linejoin="round"/>
<path d="M396.5 82L397.9 80.1L392.6 80.9ZM363.7 82L365 80.1L359.8 81Z" fill="#4400ff" stroke="#4400ff" stroke-width="1.0" stroke-linejoin="round"/>
<path d="M330.9 103.8L332.2 142.8L326.9 117.9Z" fill="url(#g67)" stroke="url(#g67)" stroke-width="1.0" stroke-linejoin="round"/>
<path d="M396.5 82L401.8 81.2L397.9 80.1Z" fill="#4400ff" stroke="#4400ff" stroke-width="1.0" stroke-linejoin="round"/>
<path d="M298 103.9L299.3 102L294.1 102.8Z" fill="#00ffd8" stroke="#00ffd8" stroke-width="1.0" stroke-linejoin="round"/>
<path d="M363.7 82L369 81.2L365 80.1Z" fill="#4400ff" stroke="#4400ff" stroke-width="1.0" stroke-linejoin="round"/>
<path d="M330.9 103.8L336.1 102.9L332.2 142.8Z" fill="url(#g68)" stroke="url(#g68)" stroke-width="1.0" stroke-linejoin="round"/>
<path d="M298 103.9L303.3 103.1L299.3 102Z" fill="#00ffd8" stroke="#00ffd8" stroke-width="1.0" stroke-linejoin="round"/>
<path d="M405.7 82.2L407.1 80.4L401.8 81.2ZM372.9 82.3L374.2 80.4L369 81.2Z" fill="#4400ff" stroke="#4400ff" stroke-width="1.0" stroke-linejoin="round"/>
<path d="M340.1 104.1L341.4 95.1L336.1 102.9Z" fill="url(#g69)" stroke="url(#g69)" stroke-width="1.0" stroke-linejoin="round"/>
<path d="M405.7 82.2L411 81.4L407.1 80.4Z" fill="#4400ff" stroke="#4400ff" stroke-width="1.0" stroke-linejoin="round"/>
<path d="M307.2 104.1L308.5 108.6L303.3 103.1Z" fill="url(#g70)" stroke="url(#g70)" stroke-width="1.0" stroke-linejoin="round"/>
<path d="M372.9 82.3L378.2 81.4L374.2 80.4Z" fill="#4400ff" stroke="#4400ff" stroke-width="1.0" stroke-linejoin="round"/>
<path d="M274.4 105.2L275.7 102.3L270.4 104.5Z" fill="url(#g71)" stroke="url(#g71)" stroke-width="1.0" stroke-linejoin="round"/>
<path d="M340.1 104.1L345.3 100.4L341.4 95.1Z" fill="url(#g72)" stroke="url(#g72)" stroke-width="1.0" stroke-linejoin="round"/>
<path d="M307.2 104.1L312.5 103.3L308.5 108.6Z" fill="url(#g73)" stroke="url(#g73)" stroke-width="1.0" stroke-linejoin="round"/>
<path d="M274.4 105.2L279.6 103.4L275.7 102.3Z" fill="url(#g74)" stroke="url(#g74)" stroke-width="1.0" stroke-linejoin="round"/>
<path d="M414.9 82.5L416.3 80.6L411 81.4ZM382.1 82.5L383.4 80.6L378.2 81.4Z" fill="#4400ff" stroke="#4400ff" stroke-width="1.0" stroke-linejoin="round"/>
<path d="M349.3 102.7L350.6 82L345.3 100.4Z" fill="url(#g75)" stroke="url(#g75)" stroke-width="1.0" stroke-linejoin="round"/>
<path d="M414.9 82.5L420.2 81.7L416.3 80.6Z" fill="#4400ff" stroke="#4400ff" stroke-width="1.0" stroke-linejoin="round"/>
<path d="M316.4 104.4L317.7 102.5L312.5 103.3Z" fill="#00ffd8" stroke="#00ffd8" stroke-width="1.0" stroke-linejoin="round"/>
<path d="M382.1 82.5L387.4 81.7L383.4 80.6Z" fill="#4400ff" stroke="#4400ff" stroke-width="1.0" stroke-linejoin="round"/>
<path d="M283.6 104.4L284.9 102.6L279.6 103.4Z" fill="#00ffd8" stroke="#00ffd8" stroke-width="1.0" stroke-linejoin="round"/>
<path d="M349.3 102.7L354.5 84L350.6 82Z" fill="url(#g76)" stroke="url(#g76)" stroke-width="1.0" stroke-linejoin="round"/>
<path d="M316.4 104.4L321.7 103.6L317.7 102.5ZM283.6 104.4L288.8 103.6L284.9 102.6Z" fill="#00ffd8" stroke="#00ffd8" stroke-width="1.0" stroke-linejoin="round"/>
<path d="M424.1 82.7L425.5 80.9L420.2 81.7ZM391.3 82.8L392.6 80.9L387.4 81.7Z" fill="#4400ff" stroke="#4400ff" stroke-width="1.0" stroke-linejoin="round"/>
<path d="M358.4 85.6L359.8 81L354.5 84Z" fill="url(#g77)" stroke="url(#g77)" stroke-width="1.0" stroke-linejoin="round"/>
<path d="M424.1 82.7L429.4 81.9L425.5 80.9Z" fill="#4400ff" stroke="#4400ff" stroke-width="1.0" stroke-linejoin="round"/>
<path d="M325.6 104.7L326.9 117.9L321.7 103.6Z" fill="url(#g78)" stroke="url(#g78)" stroke-width="1.0" stroke-linejoin="round"/>
<path d="M391.3 82.8L396.5 82L392.6 80.9Z" fill="#4400ff" stroke="#4400ff" stroke-width="1.0" stroke-linejoin="round"/>
<path d="M292.8 104.7L294.1 102.8L288.8 103.6Z" fill="#00ffd8" stroke="#00ffd8" stroke-width="1.0" stroke-linejoin="round"/>
<path d="M358.4 85.6L363.7 82L359.8 81Z" fill="url(#g79)" stroke="url(#g79)" stroke-width="1.0" stroke-linejoin="round"/>
<path d="M325.6 104.7L330.9 103.8L326.9 117.9Z" fill="url(#g80)" stroke="url(#g80)" stroke-width="1.0" stroke-linejoin="round"/>
<path d="M292.8 104.7L298 103.9L294.1 102.8Z" fill="#00ffd8" stroke="#00ffd8" stroke-width="1.0" stroke-linejoin="round"/>
<path d="M400.5 83L401.8 81.2L396.5 82ZM367.6 83.1L369 81.2L363.7 82Z" fill="#4400ff" stroke="#4400ff" stroke-width="1.0" stroke-linejoin="round"/>
<path d="M334.8 104.9L336.1 102.9L330.9 103.8Z" fill="#00ffd8" stroke="#00ffd8" stroke-width="1.0" stroke-linejoin="round"/>
<path d="M400.5 83L405.7 82.2L401.8 81.2Z" fill="#4400ff" stroke="#4400ff" stroke-width="1.0" stroke-linejoin="round"/>
<path d="M302 104.9L303.3 103.1L298 103.9Z" fill="#00ffd8" stroke="#00ffd8" stroke-width="1.0" stroke-linejoin="round"/>
<path d="M367.6 83.1L372.9 82.3L369 81.2Z" fill="#4400ff" stroke="#4400ff" stroke-width="1.0" stroke-linejoin="round"/>
<path d="M334.8 104.9L340.1 104.1L336.1 102.9ZM302 104.9L307.2 104.1L303.3 103.1Z" fill="#00ffd8" stroke="#00ffd8" stroke-width="1.0" stroke-linejoin="round"/>
<path d="M409.7 83.3L411 81.4L405.7 82.2ZM376.8 83.3L378.2 81.4L372.9 82.3Z" fill="#4400ff" stroke="#4400ff" stroke-width="1.0" stroke-linejoin="round"/>
<path d="M344 105.2L345.3 100.4L340.1 104.1Z" fill="url(#g81)" stroke="url(#g81)" stroke-width="1.0" stroke-linejoin="round"/>
<path d="M409.7 83.3L414.9 82.5L411 81.4Z" fill="#4400ff" stroke="#4400ff" stroke-width="1.0" stroke-linejoin="round"/>
<path d="M311.2 105.2L312.5 103.3L307.2 104.1Z" fill="#00ffd8" stroke="#00ffd8" stroke-width="1.0" stroke-linejoin="round"/>
<path d="M376.8 83.3L382.1 82.5L378.2 81.4Z" fill="#4400ff" stroke="#4400ff" stroke-width="1.0" stroke-linejoin="round"/>
<path d="M278.3 105.2L279.6 103.4L274.4 105.2Z" fill="url(#g82)" stroke="url(#g82)" stroke-width="1.0" stroke-linejoin="round"/>
<path d="M344 105.2L349.3 102.7L345.3 100.4Z" fill="url(#g83)" stroke="url(#g83)" stroke-width="1.0" stroke-linejoin="round"/>
<path d="M311.2 105.2L316.4 104.4L312.5 103.3ZM278.3 105.2L283.6 104.4L279.6 103.4Z" fill="#00ffd8" stroke="#00ffd8" stroke-width="1.0" stroke-linejoin="round"/>
<path d="M418.9 83.5L420.2 81.7L414.9 82.5ZM386 83.6L387.4 81.7L382.1 82.5Z" fill="#4400ff" stroke="#4400ff" stroke-width="1.0" stroke-linejoin="round"/>
<path d="M353.2 104.1L354.5 84L349.3 102.7Z" fill="url(#g84)" stroke="url(#g84)" stroke-width="1.0" stroke-linejoin="round"/>
<path d="M418.9 83.5L424.1 82.7L420.2 81.7Z" fill="#4400ff" stroke="#4400ff" stroke-width="1.0" stroke-linejoin="round"/>
<path d="M320.3 105.5L321.7 103.6L316.4 104.4Z" fill="#00ffd8" stroke="#00ffd8" stroke-width="1.0" stroke-linejoin="round"/>
<path d="M386 83.6L391.3 82.8L387.4 81.7Z" fill="#4400ff" stroke="#4400ff" stroke-width="1.0" stroke-linejoin="round"/>
<path d="M287.5 105.5L288.8 103.6L283.6 104.4Z" fill="#00ffd8" stroke="#00ffd8" stroke-width="1.0" stroke-linejoin="round"/>
<path d="M353.2 104.1L358.4 85.6L354.5 84Z" fill="url(#g85)" stroke="url(#g85)" stroke-width="1.0" stroke-linejoin="round"/>
<path d="M320.3 105.5L325.6 104.7L321.7 103.6ZM287.5 105.5L292.8 104.7L288.8 103.6Z" fill="#00ffd8" stroke="#00ffd8" stroke-width="1.0" stroke-linejoin="round"/>
<path d="M428.1 83.8L429.4 81.9L424.1 82.7ZM395.2 83.8L396.5 82L391.3 82.8Z" fill="#4400ff" stroke="#4400ff" stroke-width="1.0" stroke-linejoin="round"/>
<path d="M362.4 86.8L363.7 82L358.4 85.6Z" fill="url(#g86)" stroke="url(#g86)" stroke-width="1.0" stroke-linejoin="round"/>
<path d="M428.1 83.8L433.3 83L429.4 81.9Z" fill="#4400ff" stroke="#4400ff" stroke-width="1.0" stroke-linejoin="round"/>
<path d="M329.5 105.7L330.9 103.8L325.6 104.7Z" fill="#00ffd8" stroke="#00ffd8" stroke-width="1.0" stroke-linejoin="round"/>
<path d="M395.2 83.8L400.5 83L396.5 82Z" fill="#4400ff" stroke="#4400ff" stroke-width="1.0" stroke-linejoin="round"/>
<path d="M296.7 105.7L298 103.9L292.8 104.7Z" fill="#00ffd8" stroke="#00ffd8" stroke-width="1.0" stroke-linejoin="round"/>
<path d="M362.4 86.8L367.6 83.1L363.7 82Z" fill="url(#g87)" stroke="url(#g87)" stroke-width="1.0" stroke-linejoin="round"/>
<path d="M329.5 105.7L334.8 104.9L330.9 103.8ZM296.7 105.7L302 104.9L298 103.9Z" fill="#00ffd8" stroke="#00ffd8" stroke-width="1.0" stroke-linejoin="round"/>
<path d="M404.4 84.1L405.7 82.2L400.5 83ZM371.6 84.2L372.9 82.3L367.6 83.1Z" fill="#4400ff" stroke="#4400ff" stroke-width="1.0" stroke-linejoin="round"/>
<path d="M338.7 106L340.1 104.1L334.8 104.9Z" fill="#00ffd8" stroke="#00ffd8" stroke-width="1.0" stroke-linejoin="round"/>
<path d="M404.4 84.1L409.7 83.3L405.7 82.2Z" fill="#4400ff" stroke="#4400ff" stroke-width="1.0" stroke-linejoin="round"/>
<path d="M305.9 106L307.2 104.1L302 104.9Z" fill="#00ffd8" stroke="#00ffd8" stroke-width="1.0" stroke-linejoin="round"/>
<path d="M371.6 84.2L376.8 83.3L372.9 82.3Z" fill="#4400ff" stroke="#4400ff" stroke-width="1.0" stroke-linejoin="round"/>
<path d="M338.7 106L344 105.2L340.1 104.1ZM305.9 106L311.2 105.2L307.2 104.1Z" fill="#00ffd8" stroke="#00ffd8" stroke-width="1.0" stroke-linejoin="round"/>
<path d="M413.6 84.3L414.9 82.5L409.7 83.3ZM380.8 84.4L382.1 82.5L376.8 83.3Z" fill="#4400ff" stroke="#4400ff" stroke-width="1.0" stroke-linejoin="round"/>
<path d="M347.9 106.2L349.3 102.7L344 105.2Z" fill="url(#g88)" stroke="url(#g88)" stroke-width="1.0" stroke-linejoin="round"/>
<path d="M413.6 84.3L418.9 83.5L414.9 82.5Z" fill="#4400ff" stroke="#4400ff" stroke-width="1.0" stroke-linejoin="round"/>
<path d="M315.1 106.3L316.4 104.4L311.2 105.2Z" fill="#00ffd8" stroke="#00ffd8" stroke-width="1.0" stroke-linejoin="round"/>
<path d="M380.8 84.4L386 83.6L382.1 82.5Z" fill="#4400ff" stroke="#4400ff" stroke-width="1.0" stroke-linejoin="round"/>
<path d="M282.2 106.3L283.6 104.4L278.3 105.2Z" fill="#00ffd8" stroke="#00ffd8" stroke-width="1.0" stroke-linejoin="round"/>
<path d="M347.9 106.2L353.2 104.1L349.3 102.7Z" fill="url(#g89)" stroke="url(#g89)" stroke-width="1.0" stroke-linejoin="round"/>
<path d="M315.1 106.3L320.3 105.5L316.4 104.4ZM282.2 106.3L287.5 105.5L283.6 104.4Z" fill="#00ffd8" stroke="#00ffd8" stroke-width="1.0" stroke-linejoin="round"/>
<path d="M422.8 84.6L424.1 82.7L418.9 83.5ZM390 84.6L391.3 82.8L386 83.6Z" fill="#4400ff" stroke="#4400ff" stroke-width="1.0" stroke-linejoin="round"/>
<path d="M357.1 105.2L358.4 85.6L353.2 104.1Z" fill="url(#g90)" stroke="url(#g90)" stroke-width="1.0" stroke-linejoin="round"/>
<path d="M422.8 84.6L428.1 83.8L424.1 82.7Z" fill="#4400ff" stroke="#4400ff" stroke-width="1.0" stroke-linejoin="round"/>
<path d="M324.3 106.5L325.6 104.7L320.3 105.5Z" fill="#00ffd8" stroke="#00ffd8" stroke-width="1.0" stroke-linejoin="round"/>
<path d="M390 84.6L395.2 83.8L391.3 82.8Z" fill="#4400ff" stroke="#4400ff" stroke-width="1.0" stroke-linejoin="round"/>
<path d="M291.4 106.6L292.8 104.7L287.5 105.5Z" fill="#00ffd8" stroke="#00ffd8" stroke-width="1.0" stroke-linejoin="round"/>
<path d="M357.1 105.2L362.4 86.8L358.4 85.6Z" fill="url(#g91)" stroke="url(#g91)" stroke-width="1.0" stroke-linejoin="round"/>
<path d="M324.3 106.5L329.5 105.7L325.6 104.7ZM291.4 106.6L296.7 105.7L292.8 104.7Z" fill="#00ffd8" stroke="#00ffd8" stroke-width="1.0" stroke-linejoin="round"/>
<path d="M432 84.9L433.3 83L428.1 83.8ZM399.2 84.9L400.5 83L395.2 83.8Z" fill="#4400ff" stroke="#4400ff" stroke-width="1.0" stroke-linejoin="round"/>
<path d="M366.3 88.1L367.6 83.1L362.4 86.8Z" fill="url(#g92)" stroke="url(#g92)" stroke-width="1.0" stroke-linejoin="round"/>
<path d="M432 84.9L437.3 84.1L433.3 83Z" fill="#4400ff" stroke="#4400ff" stroke-width="1.0" stroke-linejoin="round"/>
<path d="M333.5 106.8L334.8 104.9L329.5 105.7Z" fill="#00ffd8" stroke="#00ffd8" stroke-width="1.0" stroke-linejoin="round"/>
<path d="M399.2 84.9L404.4 84.1L400.5 83Z" fill="#4400ff" stroke="#4400ff" stroke-width="1.0" stroke-linejoin="round"/>
<path d="M300.6 106.8L302 104.9L296.7 105.7Z" fill="#00ffd8" stroke="#00ffd8" stroke-width="1.0" stroke-linejoin="round"/>
<path d="M366.3 88.1L371.6 84.2L367.6 83.1Z" fill="url(#g93)" stroke="url(#g93)" stroke-width="1.0" stroke-linejoin="round"/>
<path d="M333.5 106.8L338.7 106L334.8 104.9ZM300.6 106.8L305.9 106L302 104.9Z" fill="#00ffd8" stroke="#00ffd8" stroke-width="1.0" stroke-linejoin="round"/>
<path d="M408.4 85.2L409.7 83.3L404.4 84.1ZM375.5 85.2L376.8 83.3L371.6 84.2Z" fill="#4400ff" stroke="#4400ff" stroke-width="1.0" stroke-linejoin="round"/>
<path d="M342.7 107L344 105.2L338.7 106Z" fill="#00ffd8" stroke="#00ffd8" stroke-width="1.0" stroke-linejoin="round"/>
<path d="M408.4 85.2L413.6 84.3L409.7 83.3Z" fill="#4400ff" stroke="#4400ff" stroke-width="1.0" stroke-linejoin="round"/>
<path d="M309.8 107.1L311.2 105.2L305.9 106Z" fill="#00ffd8" stroke="#00ffd8" stroke-width="1.0" stroke-linejoin="round"/>
<path d="M375.5 85.2L380.8 84.4L376.8 83.3Z" fill="#4400ff" stroke="#4400ff" stroke-width="1.0" stroke-linejoin="round"/>
<path d="M342.7 107L347.9 106.2L344 105.2ZM309.8 107.1L315.1 106.3L311.2 105.2Z" fill="#00ffd8" stroke="#00ffd8" stroke-width="1.0" stroke-linejoin="round"/>
<path d="M417.6 85.4L418.9 83.5L413.6 84.3ZM384.7 85.4L386 83.6L380.8 84.4Z" fill="#4400ff" stroke="#4400ff" stroke-width="1.0" stroke-linejoin="round"/>
<path d="M351.9 107.3L353.2 104.1L347.9 106.2Z" fill="url(#g94)" stroke="url(#g94)" stroke-width="1.0" stroke-linejoin="round"/>
<path d="M417.6 85.4L422.8 84.6L418.9 83.5Z" fill="#4400ff" stroke="#4400ff" stroke-width="1.0" stroke-linejoin="round"/>
<path d="M319 107.3L320.3 105.5L315.1 106.3Z" fill="#00ffd8" stroke="#00ffd8" stroke-width="1.0" stroke-linejoin="round"/>
<path d="M384.7 85.4L390 84.6L386 83.6Z" fill="#4400ff" stroke="#4400ff" stroke-width="1.0" stroke-linejoin="round"/>
<path d="M286.2 107.4L287.5 105.5L282.2 106.3Z" fill="#00ffd8" stroke="#00ffd8" stroke-width="1.0" stroke-linejoin="round"/>
<path d="M351.9 107.3L357.1 105.2L353.2 104.1Z" fill="url(#g95)" stroke="url(#g95)" stroke-width="1.0" stroke-linejoin="round"/>
<path d="M319 107.3L324.3 106.5L320.3 105.5ZM286.2 107.4L291.4 106.6L287.5 105.5Z" fill="#00ffd8" stroke="#00ffd8" stroke-width="1.0" stroke-linejoin="round"/>
<path d="M426.7 85.7L428.1 83.8L422.8 84.6ZM393.9 85.7L395.2 83.8L390 84.6Z" fill="#4400ff" stroke="#4400ff" stroke-width="1.0" stroke-linejoin="round"/>
<path d="M361.1 106.4L362.4 86.8L357.1 105.2Z" fill="url(#g96)" stroke="url(#g96)" stroke-width="1.0" stroke-linejoin="round"/>
<path d="M426.7 85.7L432 84.9L428.1 83.8Z" fill="#4400ff" stroke="#4400ff" stroke-width="1.0" stroke-linejoin="round"/>
<path d="M328.2 107.6L329.5 105.7L324.3 106.5Z" fill="#00ffd8" stroke="#00ffd8" stroke-width="1.0" stroke-linejoin="round"/>
<path d="M393.9 85.7L399.2 84.9L395.2 83.8Z" fill="#4400ff" stroke="#4400ff" stroke-width="1.0" stroke-linejoin="round"/>
<path d="M295.4 107.6L296.7 105.7L291.4 106.6Z" fill="#00ffd8" stroke="#00ffd8" stroke-width="1.0" stroke-linejoin="round"/>
<path d="M361.1 106.4L366.3 88.1L362.4 86.8Z" fill="url(#g97)" stroke="url(#g97)" stroke-width="1.0" stroke-linejoin="round"/>
<path d="M328.2 107.6L333.5 106.8L329.5 105.7ZM295.4 107.6L300.6 106.8L296.7 105.7Z" fill="#00ffd8" stroke="#00ffd8" stroke-width="1.0" stroke-linejoin="round"/>
<path d="M435.9 85.9L437.3 84.1L432 84.9ZM403.1 86L404.4 84.1L399.2 84.9Z" fill="#4400ff" stroke="#4400ff" stroke-width="1.0" stroke-linejoin="round"/>
<path d="M370.3 89.5L371.6 84.2L366.3 88.1Z" fill="url(#g98)" stroke="url(#g98)" stroke-width="1.0" stroke-linejoin="round"/>
<path d="M435.9 85.9L441.2 85.1L437.3 84.1Z" fill="#4400ff" stroke="#4400ff" stroke-width="1.0" stroke-linejoin="round"/>
<path d="M337.4 107.8L338.7 106L333.5 106.8Z" fill="#00ffd8" stroke="#00ffd8" stroke-width="1.0" stroke-linejoin="round"/>
<path d="M403.1 86L408.4 85.2L404.4 84.1Z" fill="#4400ff" stroke="#4400ff" stroke-width="1.0" stroke-linejoin="round"/>
<path d="M304.6 107.9L305.9 106L300.6 106.8Z" fill="#00ffd8" stroke="#00ffd8" stroke-width="1.0" stroke-linejoin="round"/>
<path d="M370.3 89.5L375.5 85.2L371.6 84.2Z" fill="url(#g99)" stroke="url(#g99)" stroke-width="1.0" stroke-linejoin="round"/>
<path d="M337.4 107.8L342.7 107L338.7 106ZM304.6 107.9L309.8 107.1L305.9 106Z" fill="#00ffd8" stroke="#00ffd8" stroke-width="1.0" stroke-linejoin="round"/>
<path d="M412.3 86.2L413.6 84.3L408.4 85.2ZM379.5 86.3L380.8 84.4L375.5 85.2Z" fill="#4400ff" stroke="#4400ff" stroke-width="1.0" stroke-linejoin="round"/>
<path d="M346.6 108.1L347.9 106.2L342.7 107Z" fill="#00ffd8" stroke="#00ffd8" stroke-width="1.0" stroke-linejoin="round"/>
<path d="M412.3 86.2L417.6 85.4L413.6 84.3Z" fill="#4400ff" stroke="#4400ff" stroke-width="1.0" stroke-linejoin="round"/>
<path d="M313.8 108.1L315.1 106.3L309.8 107.1Z" fill="#00ffd8" stroke="#00ffd8" stroke-width="1.0" stroke-linejoin="round"/>
<path d="M379.5 86.3L384.7 85.4L380.8 84.4Z" fill="#4400ff" stroke="#4400ff" stroke-width="1.0" stroke-linejoin="round"/>
<path d="M346.6 108.1L351.9 107.3L347.9 106.2ZM313.8 108.1L319 107.3L315.1 106.3Z" fill="#00ffd8" stroke="#00ffd8" stroke-width="1.0" stroke-linejoin="round"/>
<path d="M421.5 86.5L422.8 84.6L417.6 85.4ZM388.6 86.5L390 84.6L384.7 85.4Z" fill="#4400ff" stroke="#4400ff" stroke-width="1.0" stroke-linejoin="round"/>
<path d="M355.8 108.3L357.1 105.2L351.9 107.3Z" fill="url(#g100)" stroke="url(#g100)" stroke-width="1.0" stroke-linejoin="round"/>
<path d="M421.5 86.5L426.7 85.7L422.8 84.6Z" fill="#4400ff" stroke="#4400ff" stroke-width="1.0" stroke-linejoin="round"/>
<path d="M323 108.4L324.3 106.5L319 107.3Z" fill="#00ffd8" stroke="#00ffd8" stroke-width="1.0" stroke-linejoin="round"/>
<path d="M388.6 86.5L393.9 85.7L390 84.6Z" fill="#4400ff" stroke="#4400ff" stroke-width="1.0" stroke-linejoin="round"/>
<path d="M290.1 108.4L291.4 106.6L286.2 107.4Z" fill="#00ffd8" stroke="#00ffd8" stroke-width="1.0" stroke-linejoin="round"/>
<path d="M355.8 108.3L361.1 106.4L357.1 105.2Z" fill="url(#g101)" stroke="url(#g101)" stroke-width="1.0" stroke-linejoin="round"/>
<path d="M323 108.4L328.2 107.6L324.3 106.5ZM290.1 108.4L295.4 107.6L291.4 106.6Z" fill="#00ffd8" stroke="#00ffd8" stroke-width="1.0" stroke-linejoin="round"/>
<path d="M430.7 86.7L432 84.9L426.7 85.7ZM397.8 86.8L399.2 84.9L393.9 85.7Z" fill="#4400ff" stroke="#4400ff" stroke-width="1.0" stroke-linejoin="round"/>
<path d="M365 107.5L366.3 88.1L361.1 106.4Z" fill="url(#g102)" stroke="url(#g102)" stroke-width="1.0" stroke-linejoin="round"/>
<path d="M430.7 86.7L435.9 85.9L432 84.9Z" fill="#4400ff" stroke="#4400ff" stroke-width="1.0" stroke-linejoin="round"/>
<path d="M332.2 108.6L333.5 106.8L328.2 107.6Z" fill="#00ffd8" stroke="#00ffd8" stroke-width="1.0" stroke-linejoin="round"/>
<path d="M397.8 86.8L403.1 86L399.2 84.9Z" fill="#4400ff" stroke="#4400ff" stroke-width="1.0" stroke-linejoin="round"/>
<path d="M299.3 108.7L300.6 106.8L295.4 107.6Z" fill="#00ffd8" stroke="#00ffd8" stroke-width="1.0" stroke-linejoin="round"/>
<path d="M365 107.5L370.3 89.5L366.3 88.1Z" fill="url(#g103)" stroke="url(#g103)" stroke-width="1.0" stroke-linejoin="round"/>
<path d="M332.2 108.6L337.4 107.8L333.5 106.8ZM299.3 108.7L304.6 107.9L300.6 106.8Z" fill="#00ffd8" stroke="#00ffd8" stroke-width="1.0" stroke-linejoin="round"/>
<path d="M407 87L408.4 85.2L403.1 86Z" fill="#4400ff" stroke="#4400ff" stroke-width="1.0" stroke-linejoin="round"/>
<path d="M374.2 90.8L375.5 85.2L370.3 89.5Z" fill="url(#g104)" stroke="url(#g104)" stroke-width="1.0" stroke-linejoin="round"/>
<path d="M341.4 108.9L342.7 107L337.4 107.8Z" fill="#00ffd8" stroke="#00ffd8" stroke-width="1.0" stroke-linejoin="round"/>
<path d="M407 87L412.3 86.2L408.4 85.2Z" fill="#4400ff" stroke="#4400ff" stroke-width="1.0" stroke-linejoin="round"/>
<path d="M308.5 108.9L309.8 107.1L304.6 107.9Z" fill="#00ffd8" stroke="#00ffd8" stroke-width="1.0" stroke-linejoin="round"/>
<path d="M374.2 90.8L379.5 86.3L375.5 85.2Z" fill="url(#g105)" stroke="url(#g105)" stroke-width="1.0" stroke-linejoin="round"/>
<path d="M341.4 108.9L346.6 108.1L342.7 107ZM308.5 108.9L313.8 108.1L309.8 107.1Z" fill="#00ffd8" stroke="#00ffd8" stroke-width="1.0" stroke-linejoin="round"/>
<path d="M416.2 87.3L417.6 85.4L412.3 86.2Z" fill="#4400ff" stroke="#4400ff" stroke-width="1.0" stroke-linejoin="round"/>
<path d="M383.4 87.5L384.7 85.4L379.5 86.3Z" fill="#4300ff" stroke="#4300ff" stroke-width="1.0" stroke-linejoin="round"/>
<path d="M350.5 109.2L351.9 107.3L346.6 108.1Z" fill="#00ffd8" stroke="#00ffd8" stroke-width="1.0" stroke-linejoin="round"/>
<path d="M416.2 87.3L421.5 86.5L417.6 85.4Z" fill="#4400ff" stroke="#4400ff" stroke-width="1.0" stroke-linejoin="round"/>
<path d="M317.7 109.2L319 107.3L313.8 108.1Z" fill="#00ffd8" stroke="#00ffd8" stroke-width="1.0" stroke-linejoin="round"/>
<path d="M383.4 87.5L388.6 86.5L384.7 85.4Z" fill="#4300ff" stroke="#4300ff" stroke-width="1.0" stroke-linejoin="round"/>
<path d="M350.5 109.2L355.8 108.3L351.9 107.3ZM317.7 109.2L323 108.4L319 107.3Z" fill="#00ffd8" stroke="#00ffd8" stroke-width="1.0" stroke-linejoin="round"/>
<path d="M425.4 87.5L426.7 85.7L421.5 86.5ZM392.6 87.6L393.9 85.7L388.6 86.5Z" fill="#4400ff" stroke="#4400ff" stroke-width="1.0" stroke-linejoin="round"/>
<path d="M359.7 109.4L361.1 106.4L355.8 108.3Z" fill="url(#g106)" stroke="url(#g106)" stroke-width="1.0" stroke-linejoin="round"/>
<path d="M425.4 87.5L430.7 86.7L426.7 85.7Z" fill="#4400ff" stroke="#4400ff" stroke-width="1.0" stroke-linejoin="round"/>
<path d="M326.9 109.5L328.2 107.6L323 108.4Z" fill="#00ffd8" stroke="#00ffd8" stroke-width="1.0" stroke-linejoin="round"/>
<path d="M392.6 87.6L397.8 86.8L393.9 85.7Z" fill="#4400ff" stroke="#4400ff" stroke-width="1.0" stroke-linejoin="round"/>
<path d="M294.1 109.5L295.4 107.6L290.1 108.4Z" fill="#00ffd8" stroke="#00ffd8" stroke-width="1.0" stroke-linejoin="round"/>
<path d="M359.7 109.4L365 107.5L361.1 106.4Z" fill="url(#g107)" stroke="url(#g107)" stroke-width="1.0" stroke-linejoin="round"/>
<path d="M326.9 109.5L332.2 108.6L328.2 107.6ZM294.1 109.5L299.3 108.7L295.4 107.6Z" fill="#00ffd8" stroke="#00ffd8" stroke-width="1.0" stroke-linejoin="round"/>
<path d="M401.8 87.8L403.1 86L397.8 86.8Z" fill="#4400ff" stroke="#4400ff" stroke-width="1.0" stroke-linejoin="round"/>
<path d="M368.9 108.7L370.3 89.5L365 107.5Z" fill="url(#g108)" stroke="url(#g108)" stroke-width="1.0" stroke-linejoin="round"/>
<path d="M336.1 109.7L337.4 107.8L332.2 108.6Z" fill="#00ffd8" stroke="#00ffd8" stroke-width="1.0" stroke-linejoin="round"/>
<path d="M401.8 87.8L407 87L403.1 86Z" fill="#4400ff" stroke="#4400ff" stroke-width="1.0" stroke-linejoin="round"/>
<path d="M303.3 109.7L304.6 107.9L299.3 108.7Z" fill="#00ffd8" stroke="#00ffd8" stroke-width="1.0" stroke-linejoin="round"/>
<path d="M368.9 108.7L374.2 90.8L370.3 89.5Z" fill="url(#g109)" stroke="url(#g109)" stroke-width="1.0" stroke-linejoin="round"/>
<path d="M336.1 109.7L341.4 108.9L337.4 107.8ZM303.3 109.7L308.5 108.9L304.6 107.9Z" fill="#00ffd8" stroke="#00ffd8" stroke-width="1.0" stroke-linejoin="round"/>
<path d="M411 88.1L412.3 86.2L407 87Z" fill="#4400ff" stroke="#4400ff" stroke-width="1.0" stroke-linejoin="round"/>
<path d="M378.1 99.4L379.5 86.3L374.2 90.8Z" fill="url(#g110)" stroke="url(#g110)" stroke-width="1.0" stroke-linejoin="round"/>
<path d="M345.3 110L346.6 108.1L341.4 108.9Z" fill="#00ffd8" stroke="#00ffd8" stroke-width="1.0" stroke-linejoin="round"/>
<path d="M411 88.1L416.2 87.3L412.3 86.2Z" fill="#4400ff" stroke="#4400ff" stroke-width="1.0" stroke-linejoin="round"/>
<path d="M312.4 110L313.8 108.1L308.5 108.9Z" fill="#00ffd8" stroke="#00ffd8" stroke-width="1.0" stroke-linejoin="round"/>
<path d="M378.1 99.4L383.4 87.5L379.5 86.3Z" fill="url(#g111)" stroke="url(#g111)" stroke-width="1.0" stroke-linejoin="round"/>
<path d="M345.3 110L350.5 109.2L346.6 108.1ZM312.4 110L317.7 109.2L313.8 108.1Z" fill="#00ffd8" stroke="#00ffd8" stroke-width="1.0" stroke-linejoin="round"/>
<path d="M420.2 88.3L421.5 86.5L416.2 87.3Z" fill="#4400ff" stroke="#4400ff" stroke-width="1.0" stroke-linejoin="round"/>
<path d="M387.3 89.2L388.6 86.5L383.4 87.5Z" fill="url(#g112)" stroke="url(#g112)" stroke-width="1.0" stroke-linejoin="round"/>
<path d="M354.5 110.2L355.8 108.3L350.5 109.2Z" fill="#00ffd8" stroke="#00ffd8" stroke-width="1.0" stroke-linejoin="round"/>
<path d="M420.2 88.3L425.4 87.5L421.5 86.5Z" fill="#4400ff" stroke="#4400ff" stroke-width="1.0" stroke-linejoin="round"/>
<path d="M321.6 110.3L323 108.4L317.7 109.2Z" fill="#00ffd8" stroke="#00ffd8" stroke-width="1.0" stroke-linejoin="round"/>
<path d="M387.3 89.2L392.6 87.6L388.6 86.5Z" fill="url(#g113)" stroke="url(#g113)" stroke-width="1.0" stroke-linejoin="round"/>
<path d="M354.5 110.2L359.7 109.4L355.8 108.3ZM321.6 110.3L326.9 109.5L323 108.4Z" fill="#00ffd8" stroke="#00ffd8" stroke-width="1.0" stroke-linejoin="round"/>
<path d="M396.5 88.6L397.8 86.8L392.6 87.6Z" fill="#4400ff" stroke="#4400ff" stroke-width="1.0" stroke-linejoin="round"/>
<path d="M363.7 110.5L365 107.5L359.7 109.4Z" fill="url(#g114)" stroke="url(#g114)" stroke-width="1.0" stroke-linejoin="round"/>
<path d="M330.8 110.5L332.2 108.6L326.9 109.5Z" fill="#00ffd8" stroke="#00ffd8" stroke-width="1.0" stroke-linejoin="round"/>
<path d="M396.5 88.6L401.8 87.8L397.8 86.8Z" fill="#4400ff" stroke="#4400ff" stroke-width="1.0" stroke-linejoin="round"/>
<path d="M298 110.5L299.3 108.7L294.1 109.5Z" fill="#00ffd8" stroke="#00ffd8" stroke-width="1.0" stroke-linejoin="round"/>
<path d="M363.7 110.5L368.9 108.7L365 107.5Z" fill="url(#g115)" stroke="url(#g115)" stroke-width="1.0" stroke-linejoin="round"/>
<path d="M330.8 110.5L336.1 109.7L332.2 108.6ZM298 110.5L303.3 109.7L299.3 108.7Z" fill="#00ffd8" stroke="#00ffd8" stroke-width="1.0" stroke-linejoin="round"/>
<path d="M405.7 88.9L407 87L401.8 87.8Z" fill="#4400ff" stroke="#4400ff" stroke-width="1.0" stroke-linejoin="round"/>
<path d="M372.9 110.5L374.2 90.8L368.9 108.7Z" fill="url(#g116)" stroke="url(#g116)" stroke-width="1.0" stroke-linejoin="round"/>
<path d="M340 110.8L341.4 108.9L336.1 109.7Z" fill="#00ffd8" stroke="#00ffd8" stroke-width="1.0" stroke-linejoin="round"/>
<path d="M405.7 88.9L411 88.1L407 87Z" fill="#4400ff" stroke="#4400ff" stroke-width="1.0" stroke-linejoin="round"/>
<path d="M307.2 110.8L308.5 108.9L303.3 109.7Z" fill="#00ffd8" stroke="#00ffd8" stroke-width="1.0" stroke-linejoin="round"/>
<path d="M372.9 110.5L378.1 99.4L374.2 90.8Z" fill="url(#g117)" stroke="url(#g117)" stroke-width="1.0" stroke-linejoin="round"/>
<path d="M340 110.8L345.3 110L341.4 108.9ZM307.2 110.8L312.4 110L308.5 108.9Z" fill="#00ffd8" stroke="#00ffd8" stroke-width="1.0" stroke-linejoin="round"/>
<path d="M414.9 89.1L416.2 87.3L411 88.1Z" fill="#4400ff" stroke="#4400ff" stroke-width="1.0" stroke-linejoin="round"/>
<path d="M382.1 106.5L383.4 87.5L378.1 99.4Z" fill="url(#g118)" stroke="url(#g118)" stroke-width="1.0" stroke-linejoin="round"/>
<path d="M349.2 111L350.5 109.2L345.3 110Z" fill="#00ffd8" stroke="#00ffd8" stroke-width="1.0" stroke-linejoin="round"/>
<path d="M414.9 89.1L420.2 88.3L416.2 87.3Z" fill="#4400ff" stroke="#4400ff" stroke-width="1.0" stroke-linejoin="round"/>
<path d="M316.4 111.1L317.7 109.2L312.4 110Z" fill="#00ffd8" stroke="#00ffd8" stroke-width="1.0" stroke-linejoin="round"/>
<path d="M382.1 106.5L387.3 89.2L383.4 87.5Z" fill="url(#g119)" stroke="url(#g119)" stroke-width="1.0" stroke-linejoin="round"/>
<path d="M349.2 111L354.5 110.2L350.5 109.2ZM316.4 111.1L321.6 110.3L317.7 109.2Z" fill="#00ffd8" stroke="#00ffd8" stroke-width="1.0" stroke-linejoin="round"/>
<path d="M391.3 91.1L392.6 87.6L387.3 89.2Z" fill="url(#g120)" stroke="url(#g120)" stroke-width="1.0" stroke-linejoin="round"/>
<path d="M358.4 111.3L359.7 109.4L354.5 110.2ZM325.6 111.3L326.9 109.5L321.6 110.3Z" fill="#00ffd8" stroke="#00ffd8" stroke-width="1.0" stroke-linejoin="round"/>
<path d="M391.3 91.1L396.5 88.6L392.6 87.6Z" fill="url(#g121)" stroke="url(#g121)" stroke-width="1.0" stroke-linejoin="round"/>
<path d="M358.4 111.3L363.7 110.5L359.7 109.4ZM325.6 111.3L330.8 110.5L326.9 109.5Z" fill="#00ffd8" stroke="#00ffd8" stroke-width="1.0" stroke-linejoin="round"/>
<path d="M400.5 89.7L401.8 87.8L396.5 88.6Z" fill="#4400ff" stroke="#4400ff" stroke-width="1.0" stroke-linejoin="round"/>
<path d="M367.6 111.5L368.9 108.7L363.7 110.5Z" fill="url(#g122)" stroke="url(#g122)" stroke-width="1.0" stroke-linejoin="round"/>
<path d="M334.8 111.6L336.1 109.7L330.8 110.5Z" fill="#00ffd8" stroke="#00ffd8" stroke-width="1.0" stroke-linejoin="round"/>
<path d="M400.5 89.7L405.7 88.9L401.8 87.8Z" fill="#4400ff" stroke="#4400ff" stroke-width="1.0" stroke-linejoin="round"/>
<path d="M301.9 111.6L303.3 109.7L298 110.5Z" fill="#00ffd8" stroke="#00ffd8" stroke-width="1.0" stroke-linejoin="round"/>
<path d="M367.6 111.5L372.9 110.5L368.9 108.7Z" fill="url(#g123)" stroke="url(#g123)" stroke-width="1.0" stroke-linejoin="round"/>
<path d="M334.8 111.6L340 110.8L336.1 109.7ZM301.9 111.6L307.2 110.8L303.3 109.7Z" fill="#00ffd8" stroke="#00ffd8" stroke-width="1.0" stroke-linejoin="round"/>
<path d="M409.7 90L411 88.1L405.7 88.9Z" fill="#4400ff" stroke="#4400ff" stroke-width="1.0" stroke-linejoin="round"/>
<path d="M376.8 111.8L378.1 99.4L372.9 110.5Z" fill="url(#g124)" stroke="url(#g124)" stroke-width="1.0" stroke-linejoin="round"/>
<path d="M344 111.8L345.3 110L340 110.8Z" fill="#00ffd8" stroke="#00ffd8" stroke-width="1.0" stroke-linejoin="round"/>
<path d="M409.7 90L414.9 89.1L411 88.1Z" fill="#4400ff" stroke="#4400ff" stroke-width="1.0" stroke-linejoin="round"/>
<path d="M311.1 111.9L312.4 110L307.2 110.8Z" fill="#00ffd8" stroke="#00ffd8" stroke-width="1.0" stroke-linejoin="round"/>
<path d="M376.8 111.8L382.1 106.5L378.1 99.4Z" fill="url(#g125)" stroke="url(#g125)" stroke-width="1.0" stroke-linejoin="round"/>
<path d="M344 111.8L349.2 111L345.3 110ZM311.1 111.9L316.4 111.1L312.4 110Z" fill="#00ffd8" stroke="#00ffd8" stroke-width="1.0" stroke-linejoin="round"/>
<path d="M386 109.8L387.3 89.2L382.1 106.5Z" fill="url(#g126)" stroke="url(#g126)" stroke-width="1.0" stroke-linejoin="round"/>
<path d="M353.2 112.1L354.5 110.2L349.2 111ZM320.3 112.1L321.6 110.3L316.4 111.1Z" fill="#00ffd8" stroke="#00ffd8" stroke-width="1.0" stroke-linejoin="round"/>
<path d="M386 109.8L391.3 91.1L387.3 89.2Z" fill="url(#g127)" stroke="url(#g127)" stroke-width="1.0" stroke-linejoin="round"/>
<path d="M353.2 112.1L358.4 111.3L354.5 110.2ZM320.3 112.1L325.6 111.3L321.6 110.3Z" fill="#00ffd8" stroke="#00ffd8" stroke-width="1.0" stroke-linejoin="round"/>
<path d="M395.2 92.6L396.5 88.6L391.3 91.1Z" fill="url(#g128)" stroke="url(#g128)" stroke-width="1.0" stroke-linejoin="round"/>
<path d="M362.4 112.4L363.7 110.5L358.4 111.3ZM329.5 112.4L330.8 110.5L325.6 111.3Z" fill="#00ffd8" stroke="#00ffd8" stroke-width="1.0" stroke-linejoin="round"/>
<path d="M395.2 92.6L400.5 89.7L396.5 88.6Z" fill="url(#g129)" stroke="url(#g129)" stroke-width="1.0" stroke-linejoin="round"/>
<path d="M362.4 112.4L367.6 111.5L363.7 110.5ZM329.5 112.4L334.8 111.6L330.8 110.5Z" fill="#00ffd8" stroke="#00ffd8" stroke-width="1.0" stroke-linejoin="round"/>
<path d="M404.4 90.8L405.7 88.9L400.5 89.7Z" fill="#4400ff" stroke="#4400ff" stroke-width="1.0" stroke-linejoin="round"/>
<path d="M371.6 112.6L372.9 110.5L367.6 111.5Z" fill="#00ffd9" stroke="#00ffd9" stroke-width="1.0" stroke-linejoin="round"/>
<path d="M338.7 112.6L340 110.8L334.8 111.6Z" fill="#00ffd8" stroke="#00ffd8" stroke-width="1.0" stroke-linejoin="round"/>
<path d="M404.4 90.8L409.7 90L405.7 88.9Z" fill="#4400ff" stroke="#4400ff" stroke-width="1.0" stroke-linejoin="round"/>
<path d="M305.9 112.7L307.2 110.8L301.9 111.6Z" fill="#00ffd8" stroke="#00ffd8" stroke-width="1.0" stroke-linejoin="round"/>
<path d="M371.6 112.6L376.8 111.8L372.9 110.5Z" fill="#00ffd9" stroke="#00ffd9" stroke-width="1.0" stroke-linejoin="round"/>
<path d="M338.7 112.6L344 111.8L340 110.8ZM305.9 112.7L311.1 111.9L307.2 110.8Z" fill="#00ffd8" stroke="#00ffd8" stroke-width="1.0" stroke-linejoin="round"/>
<path d="M380.7 112.8L382.1 106.5L376.8 111.8Z" fill="url(#g130)" stroke="url(#g130)" stroke-width="1.0" stroke-linejoin="round"/>
<path d="M347.9 112.9L349.2 111L344 111.8ZM315.1 112.9L316.4 111.1L311.1 111.9Z" fill="#00ffd8" stroke="#00ffd8" stroke-width="1.0" stroke-linejoin="round"/>
<path d="M380.7 112.8L386 109.8L382.1 106.5Z" fill="url(#g131)" stroke="url(#g131)" stroke-width="1.0" stroke-linejoin="round"/>
<path d="M347.9 112.9L353.2 112.1L349.2 111ZM315.1 112.9L320.3 112.1L316.4 111.1Z" fill="#00ffd8" stroke="#00ffd8" stroke-width="1.0" stroke-linejoin="round"/>
<path d="M389.9 111.3L391.3 91.1L386 109.8Z" fill="url(#g132)" stroke="url(#g132)" stroke-width="1.0" stroke-linejoin="round"/>
<path d="M357.1 113.2L358.4 111.3L353.2 112.1ZM324.3 113.2L325.6 111.3L320.3 112.1Z" fill="#00ffd8" stroke="#00ffd8" stroke-width="1.0" stroke-linejoin="round"/>
<path d="M389.9 111.3L395.2 92.6L391.3 91.1Z" fill="url(#g133)" stroke="url(#g133)" stroke-width="1.0" stroke-linejoin="round"/>
<path d="M357.1 113.2L362.4 112.4L358.4 111.3ZM324.3 113.2L329.5 112.4L325.6 111.3Z" fill="#00ffd8" stroke="#00ffd8" stroke-width="1.0" stroke-linejoin="round"/>
<path d="M399.1 93.9L400.5 89.7L395.2 92.6Z" fill="url(#g134)" stroke="url(#g134)" stroke-width="1.0" stroke-linejoin="round"/>
<path d="M366.3 113.4L367.6 111.5L362.4 112.4ZM333.5 113.4L334.8 111.6L329.5 112.4Z" fill="#00ffd8" stroke="#00ffd8" stroke-width="1.0" stroke-linejoin="round"/>
<path d="M399.1 93.9L404.4 90.8L400.5 89.7Z" fill="url(#g135)" stroke="url(#g135)" stroke-width="1.0" stroke-linejoin="round"/>
<path d="M366.3 113.4L371.6 112.6L367.6 111.5ZM333.5 113.4L338.7 112.6L334.8 111.6ZM375.5 113.7L376.8 111.8L371.6 112.6ZM342.6 113.7L344 111.8L338.7 112.6ZM309.8 113.7L311.1 111.9L305.9 112.7ZM375.5 113.7L380.7 112.8L376.8 111.8ZM342.6 113.7L347.9 112.9L344 111.8ZM309.8 113.7L315.1 112.9L311.1 111.9Z" fill="#00ffd8" stroke="#00ffd8" stroke-width="1.0" stroke-linejoin="round"/>
<path d="M384.7 113.9L386 109.8L380.7 112.8Z" fill="url(#g136)" stroke="url(#g136)" stroke-width="1.0" stroke-linejoin="round"/>
<path d="M351.8 114L353.2 112.1L347.9 112.9ZM319 114L320.3 112.1L315.1 112.9Z" fill="#00ffd8" stroke="#00ffd8" stroke-width="1.0" stroke-linejoin="round"/>
<path d="M384.7 113.9L389.9 111.3L386 109.8Z" fill="url(#g137)" stroke="url(#g137)" stroke-width="1.0" stroke-linejoin="round"/>
<path d="M351.8 114L357.1 113.2L353.2 112.1ZM319 114L324.3 113.2L320.3 112.1Z" fill="#00ffd8" stroke="#00ffd8" stroke-width="1.0" stroke-linejoin="round"/>
<path d="M393.9 112.6L395.2 92.6L389.9 111.3Z" fill="url(#g138)" stroke="url(#g138)" stroke-width="1.0" stroke-linejoin="round"/>
<path d="M361 114.2L362.4 112.4L357.1 113.2ZM328.2 114.3L329.5 112.4L324.3 113.2Z" fill="#00ffd8" stroke="#00ffd8" stroke-width="1.0" stroke-linejoin="round"/>
<path d="M393.9 112.6L399.1 93.9L395.2 92.6Z" fill="url(#g139)" stroke="url(#g139)" stroke-width="1.0" stroke-linejoin="round"/>
<path d="M361 114.2L366.3 113.4L362.4 112.4ZM328.2 114.3L333.5 113.4L329.5 112.4ZM370.2 114.5L371.6 112.6L366.3 113.4ZM337.4 114.5L338.7 112.6L333.5 113.4ZM370.2 114.5L375.5 113.7L371.6 112.6ZM337.4 114.5L342.6 113.7L338.7 112.6ZM379.4 114.7L380.7 112.8L375.5 113.7ZM346.6 114.8L347.9 112.9L342.6 113.7ZM313.7 114.8L315.1 112.9L309.8 113.7ZM379.4 114.7L384.7 113.9L380.7 112.8ZM346.6 114.8L351.8 114L347.9 112.9ZM313.7 114.8L319 114L315.1 112.9Z" fill="#00ffd8" stroke="#00ffd8" stroke-width="1.0" stroke-linejoin="round"/>
<path d="M388.6 115L389.9 111.3L384.7 113.9Z" fill="url(#g140)" stroke="url(#g140)" stroke-width="1.0" stroke-linejoin="round"/>
<path d="M355.8 115L357.1 113.2L351.8 114ZM322.9 115.1L324.3 113.2L319 114Z" fill="#00ffd8" stroke="#00ffd8" stroke-width="1.0" stroke-linejoin="round"/>
<path d="M388.6 115L393.9 112.6L389.9 111.3Z" fill="url(#g141)" stroke="url(#g141)" stroke-width="1.0" stroke-linejoin="round"/>
<path d="M355.8 115L361 114.2L357.1 113.2ZM322.9 115.1L328.2 114.3L324.3 113.2ZM365 115.3L366.3 113.4L361 114.2ZM332.1 115.3L333.5 113.4L328.2 114.3ZM365 115.3L370.2 114.5L366.3 113.4ZM332.1 115.3L337.4 114.5L333.5 113.4ZM374.2 115.5L375.5 113.7L370.2 114.5ZM341.3 115.6L342.6 113.7L337.4 114.5ZM374.2 115.5L379.4 114.7L375.5 113.7ZM341.3 115.6L346.6 114.8L342.6 113.7ZM383.4 115.8L384.7 113.9L379.4 114.7ZM350.5 115.8L351.8 114L346.6 114.8ZM317.7 115.9L319 114L313.7 114.8ZM383.4 115.8L388.6 115L384.7 113.9ZM350.5 115.8L355.8 115L351.8 114ZM317.7 115.9L322.9 115.1L319 114ZM359.7 116.1L361 114.2L355.8 115ZM326.9 116.1L328.2 114.3L322.9 115.1ZM359.7 116.1L365 115.3L361 114.2ZM326.9 116.1L332.1 115.3L328.2 114.3ZM368.9 116.3L370.2 114.5L365 115.3ZM336.1 116.4L337.4 114.5L332.1 115.3ZM368.9 116.3L374.2 115.5L370.2 114.5ZM336.1 116.4L341.3 115.6L337.4 114.5ZM378.1 116.6L379.4 114.7L374.2 115.5ZM345.3 116.6L346.6 114.8L341.3 115.6ZM378.1 116.6L383.4 115.8L379.4 114.7ZM345.3 116.6L350.5 115.8L346.6 114.8ZM354.5 116.9L355.8 115L350.5 115.8ZM321.6 116.9L322.9 115.1L317.7 115.9ZM354.5 116.9L359.7 116.1L355.8 115ZM321.6 116.9L326.9 116.1L322.9 115.1ZM363.7 117.2L365 115.3L359.7 116.1ZM330.8 117.2L332.1 115.3L326.9 116.1ZM363.7 117.2L368.9 116.3L365 115.3ZM330.8 117.2L336.1 116.4L332.1 115.3ZM372.8 117.4L374.2 115.5L368.9 116.3ZM340 117.4L341.3 115.6L336.1 116.4ZM372.8 117.4L378.1 116.6L374.2 115.5ZM340 117.4L345.3 116.6L341.3 115.6ZM349.2 117.7L350.5 115.8L345.3 116.6ZM349.2 117.7L354.5 116.9L350.5 115.8ZM358.4 118L359.7 116.1L354.5 116.9ZM325.6 118L326.9 116.1L321.6 116.9ZM358.4 118L363.7 117.2L359.7 116.1ZM325.6 118L330.8 117.2L326.9 116.1ZM367.6 118.2L368.9 116.3L363.7 117.2ZM334.7 118.2L336.1 116.4L330.8 117.2ZM367.6 118.2L372.8 117.4L368.9 116.3ZM334.7 118.2L340 117.4L336.1 116.4ZM343.9 118.5L345.3 116.6L340 117.4ZM343.9 118.5L349.2 117.7L345.3 116.6ZM353.1 118.8L354.5 116.9L349.2 117.7ZM353.1 118.8L358.4 118L354.5 116.9ZM362.3 119L363.7 117.2L358.4 118ZM329.5 119.1L330.8 117.2L325.6 118ZM362.3 119L367.6 118.2L363.7 117.2ZM329.5 119.1L334.7 118.2L330.8 117.2ZM338.7 119.3L340 117.4L334.7 118.2ZM338.7 119.3L343.9 118.5L340 117.4ZM347.9 119.6L349.2 117.7L343.9 118.5ZM347.9 119.6L353.1 118.8L349.2 117.7ZM357.1 119.8L358.4 118L353.1 118.8ZM357.1 119.8L362.3 119L358.4 118ZM333.4 120.1L334.7 118.2L329.5 119.1ZM333.4 120.1L338.7 119.3L334.7 118.2ZM342.6 120.4L343.9 118.5L338.7 119.3ZM342.6 120.4L347.9 119.6L343.9 118.5ZM351.8 120.6L353.1 118.8L347.9 119.6ZM351.8 120.6L357.1 119.8L353.1 118.8ZM337.4 121.2L338.7 119.3L333.4 120.1ZM337.4 121.2L342.6 120.4L338.7 119.3ZM346.6 121.4L347.9 119.6L342.6 120.4ZM346.6 121.4L351.8 120.6L347.9 119.6ZM341.3 122.2L342.6 120.4L337.4 121.2ZM341.3 122.2L346.6 121.4L342.6 120.4Z" fill="#00ffd8" stroke="#00ffd8" stroke-width="1.0" stroke-linejoin="round"/>
<path d="M266.5 41.5V147.1" stroke="#b0b0b0" stroke-width="1.1" fill="none"/>
<path d="M266.5 147.1L341.3 167.3L441.2 152" stroke="#4a4a4a" stroke-width="0.75" fill="none" stroke-linejoin="round"/>
<path d="M266.5 147.1h-2.4M266.5 129.5h-2.4M266.5 111.9h-2.4M266.5 94.3h-2.4M266.5 76.7h-2.4M266.5 59.1h-2.4M266.5 41.5h-2.4M341.3 167.3l-2.2 0.9M341.3 167.3l1.7 0.5M322.6 162.2l-2.2 0.9M366.3 163.5l1.7 0.5M303.9 157.2l-2.2 0.9M391.2 159.7l1.7 0.5M285.2 152.2l-2.2 0.9M416.2 155.8l1.7 0.5M266.5 147.1l-2.2 0.9M441.2 152l1.7 0.5" stroke="#555" stroke-width="0.6" fill="none"/>
<text x="261.4" y="149.4" font-size="6.4" text-anchor="end" fill="#555555">-30</text>
<text x="261.4" y="131.8" font-size="6.4" text-anchor="end" fill="#555555">-20</text>
<text x="261.4" y="114.2" font-size="6.4" text-anchor="end" fill="#555555">-10</text>
<text x="261.4" y="96.6" font-size="6.4" text-anchor="end" fill="#555555">0</text>
<text x="261.4" y="79" font-size="6.4" text-anchor="end" fill="#555555">10</text>
<text x="261.4" y="61.4" font-size="6.4" text-anchor="end" fill="#555555">20</text>
<text x="261.4" y="43.8" font-size="6.4" text-anchor="end" fill="#555555">30</text>
<text x="259.5" y="154" font-size="6.4" text-anchor="middle" fill="#555555">4</text>
<text x="278.5" y="159.1" font-size="6.4" text-anchor="middle" fill="#555555">2</text>
<text x="297" y="164.2" font-size="6.4" text-anchor="middle" fill="#555555">0</text>
<text x="315.4" y="169.3" font-size="6.4" text-anchor="middle" fill="#555555">-2</text>
<text x="334" y="174.1" font-size="6.4" text-anchor="middle" fill="#555555">-4</text>
<text x="348.4" y="175.5" font-size="6.4" text-anchor="middle" fill="#555555">-4</text>
<text x="373.3" y="171.1" font-size="6.4" text-anchor="middle" fill="#555555">-2</text>
<text x="397.4" y="167.3" font-size="6.4" text-anchor="middle" fill="#555555">0</text>
<text x="422.6" y="163.7" font-size="6.4" text-anchor="middle" fill="#555555">2</text>
<text x="447.6" y="159.9" font-size="6.4" text-anchor="middle" fill="#555555">4</text>
<text x="306.6" y="184.5" font-size="11.5" text-anchor="middle" fill="#000">t</text>
<text x="383.1" y="185.9" font-size="11.5" text-anchor="middle" fill="#000">x</text>
<text transform="translate(244.5,95) rotate(-90)" font-size="11.6" text-anchor="middle" fill="#111">U<tspan font-size="9" dy="5.1">74</tspan><tspan dy="-5.1">(x,t)</tspan></text>
<text x="364.6" y="9.5" font-size="11.6" font-weight="bold" text-anchor="middle" fill="#000">(b<tspan font-size="9.5" dy="5.4">1</tspan><tspan dy="-5.4">)</tspan></text>
<path d="M575.1 167.3L497.6 139.1M575.1 167.3L676.4 145.6M497.6 139.1L497.6 47.7M676.4 145.6L676.4 54.2M600.4 161.9L522.9 133.7M555.7 160.2L657 138.5M522.9 133.7L522.9 42.3M657 138.5L657 47.1M625.8 156.5L548.2 128.2M536.4 153.2L637.6 131.5M548.2 128.2L548.2 36.8M637.6 131.5L637.6 40.1M651.1 151L573.6 122.8M517 146.2L618.3 124.4M573.6 122.8L573.6 31.4M618.3 124.4L618.3 33M676.4 145.6L598.9 117.4M497.6 139.1L598.9 117.4M598.9 117.4L598.9 26M598.9 117.4L598.9 26M497.6 139.1L598.9 117.4M598.9 117.4L676.4 145.6M497.6 123.9L598.9 102.2M598.9 102.2L676.4 130.4M497.6 108.6L598.9 86.9M598.9 86.9L676.4 115.1M497.6 93.4L598.9 71.7M598.9 71.7L676.4 99.9M497.6 78.2L598.9 56.5M598.9 56.5L676.4 84.7M497.6 62.9L598.9 41.2M598.9 41.2L676.4 69.4M497.6 47.7L598.9 26M598.9 26L676.4 54.2" stroke="#e4e4e4" stroke-width="0.6" fill="none"/>
<path d="M597.6 28.6L598.9 26L593.6 27.1ZM597.6 28.6L603 27.5L598.9 26ZM592.3 29.8L593.6 27.1L588.2 28.3ZM592.3 29.8L597.6 28.6L593.6 27.1ZM601.7 30.1L603 27.5L597.6 28.6ZM601.7 30.1L607.1 29L603 27.5ZM587 30.9L588.2 28.3L582.9 29.4ZM587 30.9L592.3 29.8L588.2 28.3ZM596.4 31.2L597.6 28.6L592.3 29.8ZM596.4 31.2L601.7 30.1L597.6 28.6ZM605.8 31.6L607.1 29L601.7 30.1ZM605.8 31.6L611.1 30.4L607.1 29ZM581.7 32L582.9 29.4L577.6 30.6ZM581.7 32L587 30.9L582.9 29.4ZM591.1 32.4L592.3 29.8L587 30.9ZM591.1 32.4L596.4 31.2L592.3 29.8ZM600.5 32.7L601.7 30.1L596.4 31.2ZM600.5 32.7L605.8 31.6L601.7 30.1ZM609.9 33.1L611.1 30.4L605.8 31.6ZM609.9 33.1L615.2 31.9L611.1 30.4ZM576.3 33.2L577.6 30.6L572.2 31.7ZM576.3 33.2L581.7 32L577.6 30.6ZM585.7 33.5L587 30.9L581.7 32ZM585.7 33.5L591.1 32.4L587 30.9ZM595.1 33.9L596.4 31.2L591.1 32.4ZM595.1 33.9L600.5 32.7L596.4 31.2ZM604.6 34.2L605.8 31.6L600.5 32.7ZM604.6 34.2L609.9 33.1L605.8 31.6ZM571 34.3L572.2 31.7L566.9 32.8ZM571 34.3L576.3 33.2L572.2 31.7ZM614 34.6L615.2 31.9L609.9 33.1ZM614 34.6L619.3 33.4L615.2 31.9ZM580.4 34.7L581.7 32L576.3 33.2ZM580.4 34.7L585.7 33.5L581.7 32ZM589.8 35L591.1 32.4L585.7 33.5ZM589.8 35L595.1 33.9L591.1 32.4ZM599.2 35.4L600.5 32.7L595.1 33.9ZM599.2 35.4L604.6 34.2L600.5 32.7ZM565.7 35.5L566.9 32.8L561.6 34ZM565.7 35.5L571 34.3L566.9 32.8ZM608.6 35.7L609.9 33.1L604.6 34.2ZM608.6 35.7L614 34.6L609.9 33.1ZM575.1 35.8L576.3 33.2L571 34.3ZM575.1 35.8L580.4 34.7L576.3 33.2ZM618 36L619.3 33.4L614 34.6ZM618 36L623.4 34.9L619.3 33.4ZM584.5 36.2L585.7 33.5L580.4 34.7ZM584.5 36.2L589.8 35L585.7 33.5ZM593.9 36.5L595.1 33.9L589.8 35ZM593.9 36.5L599.2 35.4L595.1 33.9ZM560.3 36.6L561.6 34L556.2 35.1ZM560.3 36.6L565.7 35.5L561.6 34ZM603.3 36.8L604.6 34.2L599.2 35.4ZM603.3 36.8L608.6 35.7L604.6 34.2ZM569.7 37L571 34.3L565.7 35.5ZM569.7 37L575.1 35.8L571 34.3ZM612.7 37.2L614 34.6L608.6 35.7ZM612.7 37.2L618 36L614 34.6ZM579.1 37.3L580.4 34.7L575.1 35.8ZM579.1 37.3L584.5 36.2L580.4 34.7ZM622.1 37.5L623.4 34.9L618 36ZM622.1 37.5L627.5 36.4L623.4 34.9ZM588.6 37.6L589.8 35L584.5 36.2ZM588.6 37.6L593.9 36.5L589.8 35ZM555 37.8L556.2 35.1L550.9 36.3ZM555 37.8L560.3 36.6L556.2 35.1ZM598 38L599.2 35.4L593.9 36.5ZM598 38L603.3 36.8L599.2 35.4ZM564.4 38.1L565.7 35.5L560.3 36.6ZM564.4 38.1L569.7 37L565.7 35.5ZM607.4 38.3L608.6 35.7L603.3 36.8ZM607.4 38.3L612.7 37.2L608.6 35.7ZM573.8 38.4L575.1 35.8L569.7 37ZM573.8 38.4L579.1 37.3L575.1 35.8ZM616.8 38.7L618 36L612.7 37.2ZM616.8 38.7L622.1 37.5L618 36ZM583.2 38.8L584.5 36.2L579.1 37.3ZM583.2 38.8L588.6 37.6L584.5 36.2Z" fill="#ff0000" stroke="#ff0000" stroke-width="1.0" stroke-linejoin="round"/>
<path d="M549.7 39.2L550.9 36.3L545.6 37.5Z" fill="#ff0002" stroke="#ff0002" stroke-width="1.0" stroke-linejoin="round"/>
<path d="M626.2 39L627.5 36.4L622.1 37.5Z" fill="#ff0000" stroke="#ff0000" stroke-width="1.0" stroke-linejoin="round"/>
<path d="M549.7 39.2L555 37.8L550.9 36.3Z" fill="#ff0002" stroke="#ff0002" stroke-width="1.0" stroke-linejoin="round"/>
<path d="M626.2 39L631.5 37.9L627.5 36.4ZM592.6 39.1L593.9 36.5L588.6 37.6ZM592.6 39.1L598 38L593.9 36.5ZM559.1 39.3L560.3 36.6L555 37.8ZM559.1 39.3L564.4 38.1L560.3 36.6ZM602 39.5L603.3 36.8L598 38ZM602 39.5L607.4 38.3L603.3 36.8ZM568.5 39.6L569.7 37L564.4 38.1ZM568.5 39.6L573.8 38.4L569.7 37ZM611.5 39.8L612.7 37.2L607.4 38.3ZM611.5 39.8L616.8 38.7L612.7 37.2ZM577.9 39.9L579.1 37.3L573.8 38.4ZM577.9 39.9L583.2 38.8L579.1 37.3Z" fill="#ff0000" stroke="#ff0000" stroke-width="1.0" stroke-linejoin="round"/>
<path d="M544.3 49.6L545.6 37.5L540.3 42.7Z" fill="url(#g142)" stroke="url(#g142)" stroke-width="1.0" stroke-linejoin="round"/>
<path d="M620.9 40.2L622.1 37.5L616.8 38.7Z" fill="#ff0000" stroke="#ff0000" stroke-width="1.0" stroke-linejoin="round"/>
<path d="M544.3 49.6L549.7 39.2L545.6 37.5Z" fill="url(#g143)" stroke="url(#g143)" stroke-width="1.0" stroke-linejoin="round"/>
<path d="M620.9 40.2L626.2 39L622.1 37.5ZM587.3 40.3L588.6 37.6L583.2 38.8ZM587.3 40.3L592.6 39.1L588.6 37.6Z" fill="#ff0000" stroke="#ff0000" stroke-width="1.0" stroke-linejoin="round"/>
<path d="M553.7 41.1L555 37.8L549.7 39.2Z" fill="url(#g144)" stroke="url(#g144)" stroke-width="1.0" stroke-linejoin="round"/>
<path d="M630.3 40.5L631.5 37.9L626.2 39Z" fill="#ff0000" stroke="#ff0000" stroke-width="1.0" stroke-linejoin="round"/>
<path d="M553.7 41.1L559.1 39.3L555 37.8Z" fill="url(#g145)" stroke="url(#g145)" stroke-width="1.0" stroke-linejoin="round"/>
<path d="M630.3 40.5L635.6 39.4L631.5 37.9ZM596.7 40.6L598 38L592.6 39.1ZM596.7 40.6L602 39.5L598 38ZM563.2 40.8L564.4 38.1L559.1 39.3ZM563.2 40.8L568.5 39.6L564.4 38.1ZM606.1 41L607.4 38.3L602 39.5ZM606.1 41L611.5 39.8L607.4 38.3ZM572.6 41.1L573.8 38.4L568.5 39.6ZM572.6 41.1L577.9 39.9L573.8 38.4Z" fill="#ff0000" stroke="#ff0000" stroke-width="1.0" stroke-linejoin="round"/>
<path d="M539 114.9L540.3 42.7L534.9 97.3Z" fill="url(#g146)" stroke="url(#g146)" stroke-width="1.0" stroke-linejoin="round"/>
<path d="M615.5 41.3L616.8 38.7L611.5 39.8Z" fill="#ff0000" stroke="#ff0000" stroke-width="1.0" stroke-linejoin="round"/>
<path d="M539 114.9L544.3 49.6L540.3 42.7Z" fill="url(#g147)" stroke="url(#g147)" stroke-width="1.0" stroke-linejoin="round"/>
<path d="M615.5 41.3L620.9 40.2L616.8 38.7ZM582 41.4L583.2 38.8L577.9 39.9ZM582 41.4L587.3 40.3L583.2 38.8Z" fill="#ff0000" stroke="#ff0000" stroke-width="1.0" stroke-linejoin="round"/>
<path d="M548.4 61.8L549.7 39.2L544.3 49.6Z" fill="url(#g148)" stroke="url(#g148)" stroke-width="1.0" stroke-linejoin="round"/>
<path d="M624.9 41.6L626.2 39L620.9 40.2Z" fill="#ff0000" stroke="#ff0000" stroke-width="1.0" stroke-linejoin="round"/>
<path d="M548.4 61.8L553.7 41.1L549.7 39.2Z" fill="url(#g149)" stroke="url(#g149)" stroke-width="1.0" stroke-linejoin="round"/>
<path d="M624.9 41.6L630.3 40.5L626.2 39ZM591.4 41.8L592.6 39.1L587.3 40.3ZM591.4 41.8L596.7 40.6L592.6 39.1Z" fill="#ff0000" stroke="#ff0000" stroke-width="1.0" stroke-linejoin="round"/>
<path d="M557.8 43.6L559.1 39.3L553.7 41.1Z" fill="url(#g150)" stroke="url(#g150)" stroke-width="1.0" stroke-linejoin="round"/>
<path d="M634.4 42L635.6 39.4L630.3 40.5Z" fill="#ff0000" stroke="#ff0000" stroke-width="1.0" stroke-linejoin="round"/>
<path d="M557.8 43.6L563.2 40.8L559.1 39.3Z" fill="url(#g151)" stroke="url(#g151)" stroke-width="1.0" stroke-linejoin="round"/>
<path d="M634.4 42L639.7 40.8L635.6 39.4ZM600.8 42.1L602 39.5L596.7 40.6ZM600.8 42.1L606.1 41L602 39.5Z" fill="#ff0000" stroke="#ff0000" stroke-width="1.0" stroke-linejoin="round"/>
<path d="M567.2 42.3L568.5 39.6L563.2 40.8ZM567.2 42.3L572.6 41.1L568.5 39.6Z" fill="#ff0001" stroke="#ff0001" stroke-width="1.0" stroke-linejoin="round"/>
<path d="M533.7 133.1L534.9 97.3L529.6 130.8Z" fill="url(#g152)" stroke="url(#g152)" stroke-width="1.0" stroke-linejoin="round"/>
<path d="M610.2 42.4L611.5 39.8L606.1 41Z" fill="#ff0000" stroke="#ff0000" stroke-width="1.0" stroke-linejoin="round"/>
<path d="M533.7 133.1L539 114.9L534.9 97.3Z" fill="url(#g153)" stroke="url(#g153)" stroke-width="1.0" stroke-linejoin="round"/>
<path d="M610.2 42.4L615.5 41.3L611.5 39.8ZM576.6 42.6L577.9 39.9L572.6 41.1ZM576.6 42.6L582 41.4L577.9 39.9Z" fill="#ff0000" stroke="#ff0000" stroke-width="1.0" stroke-linejoin="round"/>
<path d="M543.1 125.9L544.3 49.6L539 114.9Z" fill="url(#g154)" stroke="url(#g154)" stroke-width="1.0" stroke-linejoin="round"/>
<path d="M619.6 42.8L620.9 40.2L615.5 41.3Z" fill="#ff0000" stroke="#ff0000" stroke-width="1.0" stroke-linejoin="round"/>
<path d="M543.1 125.9L548.4 61.8L544.3 49.6Z" fill="url(#g155)" stroke="url(#g155)" stroke-width="1.0" stroke-linejoin="round"/>
<path d="M619.6 42.8L624.9 41.6L620.9 40.2ZM586.1 42.9L587.3 40.3L582 41.4ZM586.1 42.9L591.4 41.8L587.3 40.3Z" fill="#ff0000" stroke="#ff0000" stroke-width="1.0" stroke-linejoin="round"/>
<path d="M552.5 80.5L553.7 41.1L548.4 61.8Z" fill="url(#g156)" stroke="url(#g156)" stroke-width="1.0" stroke-linejoin="round"/>
<path d="M629 43.1L630.3 40.5L624.9 41.6Z" fill="#ff0000" stroke="#ff0000" stroke-width="1.0" stroke-linejoin="round"/>
<path d="M552.5 80.5L557.8 43.6L553.7 41.1Z" fill="url(#g157)" stroke="url(#g157)" stroke-width="1.0" stroke-linejoin="round"/>
<path d="M629 43.1L634.4 42L630.3 40.5ZM595.5 43.2L596.7 40.6L591.4 41.8ZM595.5 43.2L600.8 42.1L596.7 40.6Z" fill="#ff0000" stroke="#ff0000" stroke-width="1.0" stroke-linejoin="round"/>
<path d="M561.9 47.5L563.2 40.8L557.8 43.6Z" fill="url(#g158)" stroke="url(#g158)" stroke-width="1.0" stroke-linejoin="round"/>
<path d="M638.4 43.5L639.7 40.8L634.4 42Z" fill="#ff0000" stroke="#ff0000" stroke-width="1.0" stroke-linejoin="round"/>
<path d="M561.9 47.5L567.2 42.3L563.2 40.8Z" fill="url(#g159)" stroke="url(#g159)" stroke-width="1.0" stroke-linejoin="round"/>
<path d="M528.3 134.9L529.6 130.8L524.3 133.3Z" fill="url(#g160)" stroke="url(#g160)" stroke-width="1.0" stroke-linejoin="round"/>
<path d="M638.4 43.5L643.8 42.3L639.7 40.8ZM604.9 43.6L606.1 41L600.8 42.1Z" fill="#ff0000" stroke="#ff0000" stroke-width="1.0" stroke-linejoin="round"/>
<path d="M528.3 134.9L533.7 133.1L529.6 130.8Z" fill="url(#g161)" stroke="url(#g161)" stroke-width="1.0" stroke-linejoin="round"/>
<path d="M604.9 43.6L610.2 42.4L606.1 41Z" fill="#ff0000" stroke="#ff0000" stroke-width="1.0" stroke-linejoin="round"/>
<path d="M571.3 44L572.6 41.1L567.2 42.3ZM571.3 44L576.6 42.6L572.6 41.1Z" fill="#ff0002" stroke="#ff0002" stroke-width="1.0" stroke-linejoin="round"/>
<path d="M537.7 135L539 114.9L533.7 133.1Z" fill="url(#g162)" stroke="url(#g162)" stroke-width="1.0" stroke-linejoin="round"/>
<path d="M614.3 43.9L615.5 41.3L610.2 42.4Z" fill="#ff0000" stroke="#ff0000" stroke-width="1.0" stroke-linejoin="round"/>
<path d="M537.7 135L543.1 125.9L539 114.9Z" fill="url(#g163)" stroke="url(#g163)" stroke-width="1.0" stroke-linejoin="round"/>
<path d="M614.3 43.9L619.6 42.8L615.5 41.3ZM580.7 44.1L582 41.4L576.6 42.6ZM580.7 44.1L586.1 42.9L582 41.4Z" fill="#ff0000" stroke="#ff0000" stroke-width="1.0" stroke-linejoin="round"/>
<path d="M547.2 132L548.4 61.8L543.1 125.9Z" fill="url(#g164)" stroke="url(#g164)" stroke-width="1.0" stroke-linejoin="round"/>
<path d="M623.7 44.3L624.9 41.6L619.6 42.8Z" fill="#ff0000" stroke="#ff0000" stroke-width="1.0" stroke-linejoin="round"/>
<path d="M547.2 132L552.5 80.5L548.4 61.8Z" fill="url(#g165)" stroke="url(#g165)" stroke-width="1.0" stroke-linejoin="round"/>
<path d="M623.7 44.3L629 43.1L624.9 41.6ZM590.1 44.4L591.4 41.8L586.1 42.9ZM590.1 44.4L595.5 43.2L591.4 41.8Z" fill="#ff0000" stroke="#ff0000" stroke-width="1.0" stroke-linejoin="round"/>
<path d="M556.6 102.1L557.8 43.6L552.5 80.5Z" fill="url(#g166)" stroke="url(#g166)" stroke-width="1.0" stroke-linejoin="round"/>
<path d="M633.1 44.6L634.4 42L629 43.1Z" fill="#ff0000" stroke="#ff0000" stroke-width="1.0" stroke-linejoin="round"/>
<path d="M556.6 102.1L561.9 47.5L557.8 43.6Z" fill="url(#g167)" stroke="url(#g167)" stroke-width="1.0" stroke-linejoin="round"/>
<path d="M523 136L524.3 133.3L518.9 134.5ZM633.1 44.6L638.4 43.5L634.4 42ZM599.5 44.7L600.8 42.1L595.5 43.2ZM523 136L528.3 134.9L524.3 133.3ZM599.5 44.7L604.9 43.6L600.8 42.1Z" fill="#ff0000" stroke="#ff0000" stroke-width="1.0" stroke-linejoin="round"/>
<path d="M566 54.4L567.2 42.3L561.9 47.5Z" fill="url(#g168)" stroke="url(#g168)" stroke-width="1.0" stroke-linejoin="round"/>
<path d="M642.5 44.9L643.8 42.3L638.4 43.5Z" fill="#ff0000" stroke="#ff0000" stroke-width="1.0" stroke-linejoin="round"/>
<path d="M566 54.4L571.3 44L567.2 42.3Z" fill="url(#g169)" stroke="url(#g169)" stroke-width="1.0" stroke-linejoin="round"/>
<path d="M532.4 136.4L533.7 133.1L528.3 134.9Z" fill="url(#g170)" stroke="url(#g170)" stroke-width="1.0" stroke-linejoin="round"/>
<path d="M642.5 44.9L647.8 43.8L643.8 42.3ZM609 45.1L610.2 42.4L604.9 43.6Z" fill="#ff0000" stroke="#ff0000" stroke-width="1.0" stroke-linejoin="round"/>
<path d="M532.4 136.4L537.7 135L533.7 133.1Z" fill="url(#g171)" stroke="url(#g171)" stroke-width="1.0" stroke-linejoin="round"/>
<path d="M609 45.1L614.3 43.9L610.2 42.4Z" fill="#ff0000" stroke="#ff0000" stroke-width="1.0" stroke-linejoin="round"/>
<path d="M575.4 45.9L576.6 42.6L571.3 44Z" fill="url(#g172)" stroke="url(#g172)" stroke-width="1.0" stroke-linejoin="round"/>
<path d="M575.4 45.9L580.7 44.1L576.6 42.6Z" fill="url(#g173)" stroke="url(#g173)" stroke-width="1.0" stroke-linejoin="round"/>
<path d="M541.8 136.6L543.1 125.9L537.7 135Z" fill="url(#g174)" stroke="url(#g174)" stroke-width="1.0" stroke-linejoin="round"/>
<path d="M618.4 45.4L619.6 42.8L614.3 43.9Z" fill="#ff0000" stroke="#ff0000" stroke-width="1.0" stroke-linejoin="round"/>
<path d="M541.8 136.6L547.2 132L543.1 125.9Z" fill="url(#g175)" stroke="url(#g175)" stroke-width="1.0" stroke-linejoin="round"/>
<path d="M618.4 45.4L623.7 44.3L619.6 42.8ZM584.8 45.6L586.1 42.9L580.7 44.1ZM584.8 45.6L590.1 44.4L586.1 42.9Z" fill="#ff0000" stroke="#ff0000" stroke-width="1.0" stroke-linejoin="round"/>
<path d="M551.2 135.6L552.5 80.5L547.2 132Z" fill="url(#g176)" stroke="url(#g176)" stroke-width="1.0" stroke-linejoin="round"/>
<path d="M627.8 45.7L629 43.1L623.7 44.3Z" fill="#ff0000" stroke="#ff0000" stroke-width="1.0" stroke-linejoin="round"/>
<path d="M551.2 135.6L556.6 102.1L552.5 80.5Z" fill="url(#g177)" stroke="url(#g177)" stroke-width="1.0" stroke-linejoin="round"/>
<path d="M517.7 137.2L518.9 134.5L513.6 135.7ZM627.8 45.7L633.1 44.6L629 43.1ZM594.2 45.9L595.5 43.2L590.1 44.4ZM517.7 137.2L523 136L518.9 134.5ZM594.2 45.9L599.5 44.7L595.5 43.2Z" fill="#ff0000" stroke="#ff0000" stroke-width="1.0" stroke-linejoin="round"/>
<path d="M560.6 119.7L561.9 47.5L556.6 102.1Z" fill="url(#g178)" stroke="url(#g178)" stroke-width="1.0" stroke-linejoin="round"/>
<path d="M637.2 46.1L638.4 43.5L633.1 44.6Z" fill="#ff0000" stroke="#ff0000" stroke-width="1.0" stroke-linejoin="round"/>
<path d="M560.6 119.7L566 54.4L561.9 47.5Z" fill="url(#g179)" stroke="url(#g179)" stroke-width="1.0" stroke-linejoin="round"/>
<path d="M527.1 137.5L528.3 134.9L523 136ZM637.2 46.1L642.5 44.9L638.4 43.5ZM603.6 46.2L604.9 43.6L599.5 44.7ZM527.1 137.5L532.4 136.4L528.3 134.9ZM603.6 46.2L609 45.1L604.9 43.6Z" fill="#ff0000" stroke="#ff0000" stroke-width="1.0" stroke-linejoin="round"/>
<path d="M570.1 66.6L571.3 44L566 54.4Z" fill="url(#g180)" stroke="url(#g180)" stroke-width="1.0" stroke-linejoin="round"/>
<path d="M646.6 46.4L647.8 43.8L642.5 44.9Z" fill="#ff0000" stroke="#ff0000" stroke-width="1.0" stroke-linejoin="round"/>
<path d="M570.1 66.6L575.4 45.9L571.3 44Z" fill="url(#g181)" stroke="url(#g181)" stroke-width="1.0" stroke-linejoin="round"/>
<path d="M536.5 137.8L537.7 135L532.4 136.4Z" fill="#ff0100" stroke="#ff0100" stroke-width="1.0" stroke-linejoin="round"/>
<path d="M646.6 46.4L651.9 45.3L647.8 43.8ZM613 46.5L614.3 43.9L609 45.1Z" fill="#ff0000" stroke="#ff0000" stroke-width="1.0" stroke-linejoin="round"/>
<path d="M536.5 137.8L541.8 136.6L537.7 135Z" fill="#ff0200" stroke="#ff0200" stroke-width="1.0" stroke-linejoin="round"/>
<path d="M613 46.5L618.4 45.4L614.3 43.9Z" fill="#ff0000" stroke="#ff0000" stroke-width="1.0" stroke-linejoin="round"/>
<path d="M579.5 48.4L580.7 44.1L575.4 45.9Z" fill="url(#g182)" stroke="url(#g182)" stroke-width="1.0" stroke-linejoin="round"/>
<path d="M579.5 48.4L584.8 45.6L580.7 44.1Z" fill="url(#g183)" stroke="url(#g183)" stroke-width="1.0" stroke-linejoin="round"/>
<path d="M545.9 138.1L547.2 132L541.8 136.6Z" fill="url(#g184)" stroke="url(#g184)" stroke-width="1.0" stroke-linejoin="round"/>
<path d="M622.4 46.9L623.7 44.3L618.4 45.4Z" fill="#ff0000" stroke="#ff0000" stroke-width="1.0" stroke-linejoin="round"/>
<path d="M545.9 138.1L551.2 135.6L547.2 132Z" fill="url(#g185)" stroke="url(#g185)" stroke-width="1.0" stroke-linejoin="round"/>
<path d="M512.3 138.3L513.6 135.7L508.3 136.8ZM622.4 46.9L627.8 45.7L623.7 44.3Z" fill="#ff0000" stroke="#ff0000" stroke-width="1.0" stroke-linejoin="round"/>
<path d="M588.9 47.1L590.1 44.4L584.8 45.6Z" fill="#ff0001" stroke="#ff0001" stroke-width="1.0" stroke-linejoin="round"/>
<path d="M512.3 138.3L517.7 137.2L513.6 135.7Z" fill="#ff0000" stroke="#ff0000" stroke-width="1.0" stroke-linejoin="round"/>
<path d="M588.9 47.1L594.2 45.9L590.1 44.4Z" fill="#ff0001" stroke="#ff0001" stroke-width="1.0" stroke-linejoin="round"/>
<path d="M555.3 137.9L556.6 102.1L551.2 135.6Z" fill="url(#g186)" stroke="url(#g186)" stroke-width="1.0" stroke-linejoin="round"/>
<path d="M631.9 47.2L633.1 44.6L627.8 45.7Z" fill="#ff0000" stroke="#ff0000" stroke-width="1.0" stroke-linejoin="round"/>
<path d="M555.3 137.9L560.6 119.7L556.6 102.1Z" fill="url(#g187)" stroke="url(#g187)" stroke-width="1.0" stroke-linejoin="round"/>
<path d="M521.8 138.6L523 136L517.7 137.2ZM631.9 47.2L637.2 46.1L633.1 44.6ZM598.3 47.4L599.5 44.7L594.2 45.9ZM521.8 138.6L527.1 137.5L523 136ZM598.3 47.4L603.6 46.2L599.5 44.7Z" fill="#ff0000" stroke="#ff0000" stroke-width="1.0" stroke-linejoin="round"/>
<path d="M564.7 130.7L566 54.4L560.6 119.7Z" fill="url(#g188)" stroke="url(#g188)" stroke-width="1.0" stroke-linejoin="round"/>
<path d="M641.3 47.6L642.5 44.9L637.2 46.1Z" fill="#ff0000" stroke="#ff0000" stroke-width="1.0" stroke-linejoin="round"/>
<path d="M564.7 130.7L570.1 66.6L566 54.4Z" fill="url(#g189)" stroke="url(#g189)" stroke-width="1.0" stroke-linejoin="round"/>
<path d="M531.2 139L532.4 136.4L527.1 137.5ZM641.3 47.6L646.6 46.4L642.5 44.9ZM607.7 47.7L609 45.1L603.6 46.2ZM531.2 139L536.5 137.8L532.4 136.4ZM607.7 47.7L613 46.5L609 45.1Z" fill="#ff0000" stroke="#ff0000" stroke-width="1.0" stroke-linejoin="round"/>
<path d="M574.1 85.3L575.4 45.9L570.1 66.6Z" fill="url(#g190)" stroke="url(#g190)" stroke-width="1.0" stroke-linejoin="round"/>
<path d="M650.7 47.9L651.9 45.3L646.6 46.4Z" fill="#ff0000" stroke="#ff0000" stroke-width="1.0" stroke-linejoin="round"/>
<path d="M574.1 85.3L579.5 48.4L575.4 45.9Z" fill="url(#g191)" stroke="url(#g191)" stroke-width="1.0" stroke-linejoin="round"/>
<path d="M540.6 139.3L541.8 136.6L536.5 137.8Z" fill="#ff0100" stroke="#ff0100" stroke-width="1.0" stroke-linejoin="round"/>
<path d="M650.7 47.9L656 46.8L651.9 45.3ZM617.1 48L618.4 45.4L613 46.5Z" fill="#ff0000" stroke="#ff0000" stroke-width="1.0" stroke-linejoin="round"/>
<path d="M540.6 139.3L545.9 138.1L541.8 136.6Z" fill="#ff0100" stroke="#ff0100" stroke-width="1.0" stroke-linejoin="round"/>
<path d="M507 139.4L508.3 136.8L502.9 138ZM617.1 48L622.4 46.9L618.4 45.4Z" fill="#ff0000" stroke="#ff0000" stroke-width="1.0" stroke-linejoin="round"/>
<path d="M583.5 52.3L584.8 45.6L579.5 48.4Z" fill="url(#g192)" stroke="url(#g192)" stroke-width="1.0" stroke-linejoin="round"/>
<path d="M507 139.4L512.3 138.3L508.3 136.8Z" fill="#ff0000" stroke="#ff0000" stroke-width="1.0" stroke-linejoin="round"/>
<path d="M583.5 52.3L588.9 47.1L584.8 45.6Z" fill="url(#g193)" stroke="url(#g193)" stroke-width="1.0" stroke-linejoin="round"/>
<path d="M550 139.7L551.2 135.6L545.9 138.1Z" fill="url(#g194)" stroke="url(#g194)" stroke-width="1.0" stroke-linejoin="round"/>
<path d="M626.5 48.4L627.8 45.7L622.4 46.9Z" fill="#ff0000" stroke="#ff0000" stroke-width="1.0" stroke-linejoin="round"/>
<path d="M550 139.7L555.3 137.9L551.2 135.6Z" fill="url(#g195)" stroke="url(#g195)" stroke-width="1.0" stroke-linejoin="round"/>
<path d="M516.4 139.8L517.7 137.2L512.3 138.3ZM626.5 48.4L631.9 47.2L627.8 45.7Z" fill="#ff0000" stroke="#ff0000" stroke-width="1.0" stroke-linejoin="round"/>
<path d="M593 48.8L594.2 45.9L588.9 47.1Z" fill="#ff0002" stroke="#ff0002" stroke-width="1.0" stroke-linejoin="round"/>
<path d="M516.4 139.8L521.8 138.6L517.7 137.2Z" fill="#ff0000" stroke="#ff0000" stroke-width="1.0" stroke-linejoin="round"/>
<path d="M593 48.8L598.3 47.4L594.2 45.9Z" fill="#ff0002" stroke="#ff0002" stroke-width="1.0" stroke-linejoin="round"/>
<path d="M559.4 139.8L560.6 119.7L555.3 137.9Z" fill="url(#g196)" stroke="url(#g196)" stroke-width="1.0" stroke-linejoin="round"/>
<path d="M635.9 48.7L637.2 46.1L631.9 47.2Z" fill="#ff0000" stroke="#ff0000" stroke-width="1.0" stroke-linejoin="round"/>
<path d="M559.4 139.8L564.7 130.7L560.6 119.7Z" fill="url(#g197)" stroke="url(#g197)" stroke-width="1.0" stroke-linejoin="round"/>
<path d="M525.8 140.1L527.1 137.5L521.8 138.6ZM635.9 48.7L641.3 47.6L637.2 46.1ZM602.4 48.9L603.6 46.2L598.3 47.4ZM525.8 140.1L531.2 139L527.1 137.5ZM602.4 48.9L607.7 47.7L603.6 46.2Z" fill="#ff0000" stroke="#ff0000" stroke-width="1.0" stroke-linejoin="round"/>
<path d="M568.8 136.8L570.1 66.6L564.7 130.7Z" fill="url(#g198)" stroke="url(#g198)" stroke-width="1.0" stroke-linejoin="round"/>
<path d="M645.3 49.1L646.6 46.4L641.3 47.6Z" fill="#ff0000" stroke="#ff0000" stroke-width="1.0" stroke-linejoin="round"/>
<path d="M568.8 136.8L574.1 85.3L570.1 66.6Z" fill="url(#g199)" stroke="url(#g199)" stroke-width="1.0" stroke-linejoin="round"/>
<path d="M535.2 140.5L536.5 137.8L531.2 139ZM645.3 49.1L650.7 47.9L646.6 46.4ZM611.8 49.2L613 46.5L607.7 47.7ZM535.2 140.5L540.6 139.3L536.5 137.8ZM501.7 140.6L502.9 138L497.6 139.1ZM611.8 49.2L617.1 48L613 46.5Z" fill="#ff0000" stroke="#ff0000" stroke-width="1.0" stroke-linejoin="round"/>
<path d="M578.2 106.9L579.5 48.4L574.1 85.3Z" fill="url(#g200)" stroke="url(#g200)" stroke-width="1.0" stroke-linejoin="round"/>
<path d="M501.7 140.6L507 139.4L502.9 138ZM654.8 49.4L656 46.8L650.7 47.9Z" fill="#ff0000" stroke="#ff0000" stroke-width="1.0" stroke-linejoin="round"/>
<path d="M578.2 106.9L583.5 52.3L579.5 48.4Z" fill="url(#g201)" stroke="url(#g201)" stroke-width="1.0" stroke-linejoin="round"/>
<path d="M544.7 140.8L545.9 138.1L540.6 139.3ZM654.8 49.4L660.1 48.3L656 46.8ZM621.2 49.5L622.4 46.9L617.1 48ZM544.7 140.8L550 139.7L545.9 138.1ZM511.1 140.9L512.3 138.3L507 139.4ZM621.2 49.5L626.5 48.4L622.4 46.9Z" fill="#ff0000" stroke="#ff0000" stroke-width="1.0" stroke-linejoin="round"/>
<path d="M587.6 59.2L588.9 47.1L583.5 52.3Z" fill="url(#g202)" stroke="url(#g202)" stroke-width="1.0" stroke-linejoin="round"/>
<path d="M511.1 140.9L516.4 139.8L512.3 138.3Z" fill="#ff0000" stroke="#ff0000" stroke-width="1.0" stroke-linejoin="round"/>
<path d="M587.6 59.2L593 48.8L588.9 47.1Z" fill="url(#g203)" stroke="url(#g203)" stroke-width="1.0" stroke-linejoin="round"/>
<path d="M554.1 141.1L555.3 137.9L550 139.7Z" fill="url(#g204)" stroke="url(#g204)" stroke-width="1.0" stroke-linejoin="round"/>
<path d="M630.6 49.9L631.9 47.2L626.5 48.4Z" fill="#ff0000" stroke="#ff0000" stroke-width="1.0" stroke-linejoin="round"/>
<path d="M554.1 141.1L559.4 139.8L555.3 137.9Z" fill="url(#g205)" stroke="url(#g205)" stroke-width="1.0" stroke-linejoin="round"/>
<path d="M520.5 141.3L521.8 138.6L516.4 139.8ZM630.6 49.9L635.9 48.7L631.9 47.2Z" fill="#ff0000" stroke="#ff0000" stroke-width="1.0" stroke-linejoin="round"/>
<path d="M597 50.7L598.3 47.4L593 48.8Z" fill="url(#g206)" stroke="url(#g206)" stroke-width="1.0" stroke-linejoin="round"/>
<path d="M520.5 141.3L525.8 140.1L521.8 138.6Z" fill="#ff0000" stroke="#ff0000" stroke-width="1.0" stroke-linejoin="round"/>
<path d="M597 50.7L602.4 48.9L598.3 47.4Z" fill="url(#g207)" stroke="url(#g207)" stroke-width="1.0" stroke-linejoin="round"/>
<path d="M563.5 141.4L564.7 130.7L559.4 139.8Z" fill="url(#g208)" stroke="url(#g208)" stroke-width="1.0" stroke-linejoin="round"/>
<path d="M640 50.2L641.3 47.6L635.9 48.7Z" fill="#ff0000" stroke="#ff0000" stroke-width="1.0" stroke-linejoin="round"/>
<path d="M563.5 141.4L568.8 136.8L564.7 130.7Z" fill="url(#g209)" stroke="url(#g209)" stroke-width="1.0" stroke-linejoin="round"/>
<path d="M529.9 141.6L531.2 139L525.8 140.1ZM640 50.2L645.3 49.1L641.3 47.6ZM606.4 50.4L607.7 47.7L602.4 48.9ZM529.9 141.6L535.2 140.5L531.2 139ZM606.4 50.4L611.8 49.2L607.7 47.7Z" fill="#ff0000" stroke="#ff0000" stroke-width="1.0" stroke-linejoin="round"/>
<path d="M572.9 140.4L574.1 85.3L568.8 136.8Z" fill="url(#g210)" stroke="url(#g210)" stroke-width="1.0" stroke-linejoin="round"/>
<path d="M649.4 50.5L650.7 47.9L645.3 49.1Z" fill="#ff0000" stroke="#ff0000" stroke-width="1.0" stroke-linejoin="round"/>
<path d="M572.9 140.4L578.2 106.9L574.1 85.3Z" fill="url(#g211)" stroke="url(#g211)" stroke-width="1.0" stroke-linejoin="round"/>
<path d="M539.3 142L540.6 139.3L535.2 140.5ZM649.4 50.5L654.8 49.4L650.7 47.9ZM615.9 50.7L617.1 48L611.8 49.2ZM539.3 142L544.7 140.8L540.6 139.3ZM505.8 142.1L507 139.4L501.7 140.6ZM615.9 50.7L621.2 49.5L617.1 48Z" fill="#ff0000" stroke="#ff0000" stroke-width="1.0" stroke-linejoin="round"/>
<path d="M582.3 124.5L583.5 52.3L578.2 106.9Z" fill="url(#g212)" stroke="url(#g212)" stroke-width="1.0" stroke-linejoin="round"/>
<path d="M505.8 142.1L511.1 140.9L507 139.4ZM658.8 50.9L660.1 48.3L654.8 49.4Z" fill="#ff0000" stroke="#ff0000" stroke-width="1.0" stroke-linejoin="round"/>
<path d="M582.3 124.5L587.6 59.2L583.5 52.3Z" fill="url(#g213)" stroke="url(#g213)" stroke-width="1.0" stroke-linejoin="round"/>
<path d="M548.7 142.3L550 139.7L544.7 140.8ZM658.8 50.9L664.2 49.7L660.1 48.3ZM625.3 51L626.5 48.4L621.2 49.5ZM548.7 142.3L554.1 141.1L550 139.7ZM515.2 142.4L516.4 139.8L511.1 140.9ZM625.3 51L630.6 49.9L626.5 48.4Z" fill="#ff0000" stroke="#ff0000" stroke-width="1.0" stroke-linejoin="round"/>
<path d="M591.7 71.4L593 48.8L587.6 59.2Z" fill="url(#g214)" stroke="url(#g214)" stroke-width="1.0" stroke-linejoin="round"/>
<path d="M515.2 142.4L520.5 141.3L516.4 139.8Z" fill="#ff0000" stroke="#ff0000" stroke-width="1.0" stroke-linejoin="round"/>
<path d="M591.7 71.4L597 50.7L593 48.8Z" fill="url(#g215)" stroke="url(#g215)" stroke-width="1.0" stroke-linejoin="round"/>
<path d="M558.1 142.6L559.4 139.8L554.1 141.1Z" fill="#ff0100" stroke="#ff0100" stroke-width="1.0" stroke-linejoin="round"/>
<path d="M634.7 51.3L635.9 48.7L630.6 49.9Z" fill="#ff0000" stroke="#ff0000" stroke-width="1.0" stroke-linejoin="round"/>
<path d="M558.1 142.6L563.5 141.4L559.4 139.8Z" fill="#ff0200" stroke="#ff0200" stroke-width="1.0" stroke-linejoin="round"/>
<path d="M524.6 142.8L525.8 140.1L520.5 141.3ZM634.7 51.3L640 50.2L635.9 48.7Z" fill="#ff0000" stroke="#ff0000" stroke-width="1.0" stroke-linejoin="round"/>
<path d="M601.1 53.2L602.4 48.9L597 50.7Z" fill="url(#g216)" stroke="url(#g216)" stroke-width="1.0" stroke-linejoin="round"/>
<path d="M524.6 142.8L529.9 141.6L525.8 140.1Z" fill="#ff0000" stroke="#ff0000" stroke-width="1.0" stroke-linejoin="round"/>
<path d="M601.1 53.2L606.4 50.4L602.4 48.9Z" fill="url(#g217)" stroke="url(#g217)" stroke-width="1.0" stroke-linejoin="round"/>
<path d="M567.6 142.9L568.8 136.8L563.5 141.4Z" fill="url(#g218)" stroke="url(#g218)" stroke-width="1.0" stroke-linejoin="round"/>
<path d="M644.1 51.7L645.3 49.1L640 50.2Z" fill="#ff0000" stroke="#ff0000" stroke-width="1.0" stroke-linejoin="round"/>
<path d="M567.6 142.9L572.9 140.4L568.8 136.8Z" fill="url(#g219)" stroke="url(#g219)" stroke-width="1.0" stroke-linejoin="round"/>
<path d="M534 143.1L535.2 140.5L529.9 141.6ZM644.1 51.7L649.4 50.5L645.3 49.1Z" fill="#ff0000" stroke="#ff0000" stroke-width="1.0" stroke-linejoin="round"/>
<path d="M610.5 51.9L611.8 49.2L606.4 50.4Z" fill="#ff0001" stroke="#ff0001" stroke-width="1.0" stroke-linejoin="round"/>
<path d="M534 143.1L539.3 142L535.2 140.5Z" fill="#ff0000" stroke="#ff0000" stroke-width="1.0" stroke-linejoin="round"/>
<path d="M610.5 51.9L615.9 50.7L611.8 49.2Z" fill="#ff0001" stroke="#ff0001" stroke-width="1.0" stroke-linejoin="round"/>
<path d="M577 142.7L578.2 106.9L572.9 140.4Z" fill="url(#g220)" stroke="url(#g220)" stroke-width="1.0" stroke-linejoin="round"/>
<path d="M653.5 52L654.8 49.4L649.4 50.5Z" fill="#ff0000" stroke="#ff0000" stroke-width="1.0" stroke-linejoin="round"/>
<path d="M577 142.7L582.3 124.5L578.2 106.9Z" fill="url(#g221)" stroke="url(#g221)" stroke-width="1.0" stroke-linejoin="round"/>
<path d="M543.4 143.4L544.7 140.8L539.3 142ZM653.5 52L658.8 50.9L654.8 49.4ZM619.9 52.2L621.2 49.5L615.9 50.7ZM543.4 143.4L548.7 142.3L544.7 140.8ZM509.8 143.6L511.1 140.9L505.8 142.1ZM619.9 52.2L625.3 51L621.2 49.5Z" fill="#ff0000" stroke="#ff0000" stroke-width="1.0" stroke-linejoin="round"/>
<path d="M586.4 135.5L587.6 59.2L582.3 124.5Z" fill="url(#g222)" stroke="url(#g222)" stroke-width="1.0" stroke-linejoin="round"/>
<path d="M509.8 143.6L515.2 142.4L511.1 140.9ZM662.9 52.4L664.2 49.7L658.8 50.9Z" fill="#ff0000" stroke="#ff0000" stroke-width="1.0" stroke-linejoin="round"/>
<path d="M586.4 135.5L591.7 71.4L587.6 59.2Z" fill="url(#g223)" stroke="url(#g223)" stroke-width="1.0" stroke-linejoin="round"/>
<path d="M552.8 143.8L554.1 141.1L548.7 142.3ZM662.9 52.4L668.2 51.2L664.2 49.7ZM629.3 52.5L630.6 49.9L625.3 51ZM552.8 143.8L558.1 142.6L554.1 141.1ZM519.2 143.9L520.5 141.3L515.2 142.4ZM629.3 52.5L634.7 51.3L630.6 49.9Z" fill="#ff0000" stroke="#ff0000" stroke-width="1.0" stroke-linejoin="round"/>
<path d="M595.8 90.1L597 50.7L591.7 71.4Z" fill="url(#g224)" stroke="url(#g224)" stroke-width="1.0" stroke-linejoin="round"/>
<path d="M519.2 143.9L524.6 142.8L520.5 141.3Z" fill="#ff0000" stroke="#ff0000" stroke-width="1.0" stroke-linejoin="round"/>
<path d="M595.8 90.1L601.1 53.2L597 50.7Z" fill="url(#g225)" stroke="url(#g225)" stroke-width="1.0" stroke-linejoin="round"/>
<path d="M562.2 144.1L563.5 141.4L558.1 142.6Z" fill="#ff0100" stroke="#ff0100" stroke-width="1.0" stroke-linejoin="round"/>
<path d="M638.8 52.8L640 50.2L634.7 51.3Z" fill="#ff0000" stroke="#ff0000" stroke-width="1.0" stroke-linejoin="round"/>
<path d="M562.2 144.1L567.6 142.9L563.5 141.4Z" fill="#ff0100" stroke="#ff0100" stroke-width="1.0" stroke-linejoin="round"/>
<path d="M528.7 144.2L529.9 141.6L524.6 142.8ZM638.8 52.8L644.1 51.7L640 50.2Z" fill="#ff0000" stroke="#ff0000" stroke-width="1.0" stroke-linejoin="round"/>
<path d="M605.2 57.1L606.4 50.4L601.1 53.2Z" fill="url(#g226)" stroke="url(#g226)" stroke-width="1.0" stroke-linejoin="round"/>
<path d="M528.7 144.2L534 143.1L529.9 141.6Z" fill="#ff0000" stroke="#ff0000" stroke-width="1.0" stroke-linejoin="round"/>
<path d="M605.2 57.1L610.5 51.9L606.4 50.4Z" fill="url(#g227)" stroke="url(#g227)" stroke-width="1.0" stroke-linejoin="round"/>
<path d="M571.6 144.4L572.9 140.4L567.6 142.9Z" fill="url(#g228)" stroke="url(#g228)" stroke-width="1.0" stroke-linejoin="round"/>
<path d="M648.2 53.2L649.4 50.5L644.1 51.7Z" fill="#ff0000" stroke="#ff0000" stroke-width="1.0" stroke-linejoin="round"/>
<path d="M571.6 144.4L577 142.7L572.9 140.4Z" fill="url(#g229)" stroke="url(#g229)" stroke-width="1.0" stroke-linejoin="round"/>
<path d="M538.1 144.6L539.3 142L534 143.1ZM648.2 53.2L653.5 52L649.4 50.5Z" fill="#ff0000" stroke="#ff0000" stroke-width="1.0" stroke-linejoin="round"/>
<path d="M614.6 53.6L615.9 50.7L610.5 51.9Z" fill="#ff0002" stroke="#ff0002" stroke-width="1.0" stroke-linejoin="round"/>
<path d="M538.1 144.6L543.4 143.4L539.3 142Z" fill="#ff0000" stroke="#ff0000" stroke-width="1.0" stroke-linejoin="round"/>
<path d="M614.6 53.6L619.9 52.2L615.9 50.7Z" fill="#ff0002" stroke="#ff0002" stroke-width="1.0" stroke-linejoin="round"/>
<path d="M581 144.6L582.3 124.5L577 142.7Z" fill="url(#g230)" stroke="url(#g230)" stroke-width="1.0" stroke-linejoin="round"/>
<path d="M657.6 53.5L658.8 50.9L653.5 52Z" fill="#ff0000" stroke="#ff0000" stroke-width="1.0" stroke-linejoin="round"/>
<path d="M581 144.6L586.4 135.5L582.3 124.5Z" fill="url(#g231)" stroke="url(#g231)" stroke-width="1.0" stroke-linejoin="round"/>
<path d="M547.5 144.9L548.7 142.3L543.4 143.4ZM657.6 53.5L662.9 52.4L658.8 50.9ZM624 53.6L625.3 51L619.9 52.2ZM547.5 144.9L552.8 143.8L548.7 142.3ZM513.9 145L515.2 142.4L509.8 143.6ZM624 53.6L629.3 52.5L625.3 51Z" fill="#ff0000" stroke="#ff0000" stroke-width="1.0" stroke-linejoin="round"/>
<path d="M590.5 141.6L591.7 71.4L586.4 135.5Z" fill="url(#g232)" stroke="url(#g232)" stroke-width="1.0" stroke-linejoin="round"/>
<path d="M513.9 145L519.2 143.9L515.2 142.4ZM667 53.9L668.2 51.2L662.9 52.4Z" fill="#ff0000" stroke="#ff0000" stroke-width="1.0" stroke-linejoin="round"/>
<path d="M590.5 141.6L595.8 90.1L591.7 71.4Z" fill="url(#g233)" stroke="url(#g233)" stroke-width="1.0" stroke-linejoin="round"/>
<path d="M556.9 145.3L558.1 142.6L552.8 143.8ZM667 53.9L672.3 52.7L668.2 51.2ZM633.4 54L634.7 51.3L629.3 52.5ZM556.9 145.3L562.2 144.1L558.1 142.6ZM523.3 145.4L524.6 142.8L519.2 143.9ZM633.4 54L638.8 52.8L634.7 51.3Z" fill="#ff0000" stroke="#ff0000" stroke-width="1.0" stroke-linejoin="round"/>
<path d="M599.9 111.7L601.1 53.2L595.8 90.1Z" fill="url(#g234)" stroke="url(#g234)" stroke-width="1.0" stroke-linejoin="round"/>
<path d="M523.3 145.4L528.7 144.2L524.6 142.8Z" fill="#ff0000" stroke="#ff0000" stroke-width="1.0" stroke-linejoin="round"/>
<path d="M599.9 111.7L605.2 57.1L601.1 53.2Z" fill="url(#g235)" stroke="url(#g235)" stroke-width="1.0" stroke-linejoin="round"/>
<path d="M566.3 145.6L567.6 142.9L562.2 144.1ZM642.8 54.3L644.1 51.7L638.8 52.8ZM566.3 145.6L571.6 144.4L567.6 142.9ZM532.7 145.7L534 143.1L528.7 144.2ZM642.8 54.3L648.2 53.2L644.1 51.7Z" fill="#ff0000" stroke="#ff0000" stroke-width="1.0" stroke-linejoin="round"/>
<path d="M609.3 63.9L610.5 51.9L605.2 57.1Z" fill="url(#g236)" stroke="url(#g236)" stroke-width="1.0" stroke-linejoin="round"/>
<path d="M532.7 145.7L538.1 144.6L534 143.1Z" fill="#ff0000" stroke="#ff0000" stroke-width="1.0" stroke-linejoin="round"/>
<path d="M609.3 63.9L614.6 53.6L610.5 51.9Z" fill="url(#g237)" stroke="url(#g237)" stroke-width="1.0" stroke-linejoin="round"/>
<path d="M575.7 145.9L577 142.7L571.6 144.4Z" fill="url(#g238)" stroke="url(#g238)" stroke-width="1.0" stroke-linejoin="round"/>
<path d="M652.2 54.7L653.5 52L648.2 53.2Z" fill="#ff0000" stroke="#ff0000" stroke-width="1.0" stroke-linejoin="round"/>
<path d="M575.7 145.9L581 144.6L577 142.7Z" fill="url(#g239)" stroke="url(#g239)" stroke-width="1.0" stroke-linejoin="round"/>
<path d="M542.1 146.1L543.4 143.4L538.1 144.6ZM652.2 54.7L657.6 53.5L653.5 52Z" fill="#ff0000" stroke="#ff0000" stroke-width="1.0" stroke-linejoin="round"/>
<path d="M618.7 55.5L619.9 52.2L614.6 53.6Z" fill="url(#g240)" stroke="url(#g240)" stroke-width="1.0" stroke-linejoin="round"/>
<path d="M542.1 146.1L547.5 144.9L543.4 143.4Z" fill="#ff0000" stroke="#ff0000" stroke-width="1.0" stroke-linejoin="round"/>
<path d="M618.7 55.5L624 53.6L619.9 52.2Z" fill="url(#g241)" stroke="url(#g241)" stroke-width="1.0" stroke-linejoin="round"/>
<path d="M585.1 146.2L586.4 135.5L581 144.6Z" fill="url(#g242)" stroke="url(#g242)" stroke-width="1.0" stroke-linejoin="round"/>
<path d="M661.7 55L662.9 52.4L657.6 53.5Z" fill="#ff0000" stroke="#ff0000" stroke-width="1.0" stroke-linejoin="round"/>
<path d="M585.1 146.2L590.5 141.6L586.4 135.5Z" fill="url(#g243)" stroke="url(#g243)" stroke-width="1.0" stroke-linejoin="round"/>
<path d="M551.6 146.4L552.8 143.8L547.5 144.9ZM661.7 55L667 53.9L662.9 52.4ZM628.1 55.2L629.3 52.5L624 53.6ZM551.6 146.4L556.9 145.3L552.8 143.8ZM518 146.5L519.2 143.9L513.9 145ZM628.1 55.2L633.4 54L629.3 52.5Z" fill="#ff0000" stroke="#ff0000" stroke-width="1.0" stroke-linejoin="round"/>
<path d="M594.5 145.2L595.8 90.1L590.5 141.6Z" fill="url(#g244)" stroke="url(#g244)" stroke-width="1.0" stroke-linejoin="round"/>
<path d="M518 146.5L523.3 145.4L519.2 143.9ZM671.1 55.3L672.3 52.7L667 53.9Z" fill="#ff0000" stroke="#ff0000" stroke-width="1.0" stroke-linejoin="round"/>
<path d="M594.5 145.2L599.9 111.7L595.8 90.1Z" fill="url(#g245)" stroke="url(#g245)" stroke-width="1.0" stroke-linejoin="round"/>
<path d="M561 146.7L562.2 144.1L556.9 145.3ZM671.1 55.3L676.4 54.2L672.3 52.7ZM637.5 55.5L638.8 52.8L633.4 54ZM561 146.7L566.3 145.6L562.2 144.1ZM527.4 146.9L528.7 144.2L523.3 145.4ZM637.5 55.5L642.8 54.3L638.8 52.8Z" fill="#ff0000" stroke="#ff0000" stroke-width="1.0" stroke-linejoin="round"/>
<path d="M603.9 129.3L605.2 57.1L599.9 111.7Z" fill="url(#g246)" stroke="url(#g246)" stroke-width="1.0" stroke-linejoin="round"/>
<path d="M527.4 146.9L532.7 145.7L528.7 144.2Z" fill="#ff0000" stroke="#ff0000" stroke-width="1.0" stroke-linejoin="round"/>
<path d="M603.9 129.3L609.3 63.9L605.2 57.1Z" fill="url(#g247)" stroke="url(#g247)" stroke-width="1.0" stroke-linejoin="round"/>
<path d="M570.4 147.1L571.6 144.4L566.3 145.6ZM646.9 55.8L648.2 53.2L642.8 54.3ZM570.4 147.1L575.7 145.9L571.6 144.4ZM536.8 147.2L538.1 144.6L532.7 145.7ZM646.9 55.8L652.2 54.7L648.2 53.2Z" fill="#ff0000" stroke="#ff0000" stroke-width="1.0" stroke-linejoin="round"/>
<path d="M613.4 76.2L614.6 53.6L609.3 63.9Z" fill="url(#g248)" stroke="url(#g248)" stroke-width="1.0" stroke-linejoin="round"/>
<path d="M536.8 147.2L542.1 146.1L538.1 144.6Z" fill="#ff0000" stroke="#ff0000" stroke-width="1.0" stroke-linejoin="round"/>
<path d="M613.4 76.2L618.7 55.5L614.6 53.6Z" fill="url(#g249)" stroke="url(#g249)" stroke-width="1.0" stroke-linejoin="round"/>
<path d="M579.8 147.4L581 144.6L575.7 145.9Z" fill="#ff0100" stroke="#ff0100" stroke-width="1.0" stroke-linejoin="round"/>
<path d="M656.3 56.1L657.6 53.5L652.2 54.7Z" fill="#ff0000" stroke="#ff0000" stroke-width="1.0" stroke-linejoin="round"/>
<path d="M579.8 147.4L585.1 146.2L581 144.6Z" fill="#ff0200" stroke="#ff0200" stroke-width="1.0" stroke-linejoin="round"/>
<path d="M546.2 147.5L547.5 144.9L542.1 146.1ZM656.3 56.1L661.7 55L657.6 53.5Z" fill="#ff0000" stroke="#ff0000" stroke-width="1.0" stroke-linejoin="round"/>
<path d="M622.8 58L624 53.6L618.7 55.5Z" fill="url(#g250)" stroke="url(#g250)" stroke-width="1.0" stroke-linejoin="round"/>
<path d="M546.2 147.5L551.6 146.4L547.5 144.9Z" fill="#ff0000" stroke="#ff0000" stroke-width="1.0" stroke-linejoin="round"/>
<path d="M622.8 58L628.1 55.2L624 53.6Z" fill="url(#g251)" stroke="url(#g251)" stroke-width="1.0" stroke-linejoin="round"/>
<path d="M589.2 147.7L590.5 141.6L585.1 146.2Z" fill="url(#g252)" stroke="url(#g252)" stroke-width="1.0" stroke-linejoin="round"/>
<path d="M665.7 56.5L667 53.9L661.7 55Z" fill="#ff0000" stroke="#ff0000" stroke-width="1.0" stroke-linejoin="round"/>
<path d="M589.2 147.7L594.5 145.2L590.5 141.6Z" fill="url(#g253)" stroke="url(#g253)" stroke-width="1.0" stroke-linejoin="round"/>
<path d="M555.6 147.9L556.9 145.3L551.6 146.4ZM665.7 56.5L671.1 55.3L667 53.9Z" fill="#ff0000" stroke="#ff0000" stroke-width="1.0" stroke-linejoin="round"/>
<path d="M632.2 56.7L633.4 54L628.1 55.2Z" fill="#ff0001" stroke="#ff0001" stroke-width="1.0" stroke-linejoin="round"/>
<path d="M555.6 147.9L561 146.7L556.9 145.3ZM522.1 148L523.3 145.4L518 146.5Z" fill="#ff0000" stroke="#ff0000" stroke-width="1.0" stroke-linejoin="round"/>
<path d="M632.2 56.7L637.5 55.5L633.4 54Z" fill="#ff0001" stroke="#ff0001" stroke-width="1.0" stroke-linejoin="round"/>
<path d="M598.6 147.5L599.9 111.7L594.5 145.2Z" fill="url(#g254)" stroke="url(#g254)" stroke-width="1.0" stroke-linejoin="round"/>
<path d="M522.1 148L527.4 146.9L523.3 145.4Z" fill="#ff0000" stroke="#ff0000" stroke-width="1.0" stroke-linejoin="round"/>
<path d="M598.6 147.5L603.9 129.3L599.9 111.7Z" fill="url(#g255)" stroke="url(#g255)" stroke-width="1.0" stroke-linejoin="round"/>
<path d="M565 148.2L566.3 145.6L561 146.7ZM641.6 56.9L642.8 54.3L637.5 55.5ZM565 148.2L570.4 147.1L566.3 145.6ZM531.5 148.3L532.7 145.7L527.4 146.9ZM641.6 56.9L646.9 55.8L642.8 54.3Z" fill="#ff0000" stroke="#ff0000" stroke-width="1.0" stroke-linejoin="round"/>
<path d="M608 140.3L609.3 63.9L603.9 129.3Z" fill="url(#g256)" stroke="url(#g256)" stroke-width="1.0" stroke-linejoin="round"/>
<path d="M531.5 148.3L536.8 147.2L532.7 145.7Z" fill="#ff0000" stroke="#ff0000" stroke-width="1.0" stroke-linejoin="round"/>
<path d="M608 140.3L613.4 76.2L609.3 63.9Z" fill="url(#g257)" stroke="url(#g257)" stroke-width="1.0" stroke-linejoin="round"/>
<path d="M574.5 148.6L575.7 145.9L570.4 147.1ZM651 57.3L652.2 54.7L646.9 55.8ZM574.5 148.6L579.8 147.4L575.7 145.9ZM540.9 148.7L542.1 146.1L536.8 147.2ZM651 57.3L656.3 56.1L652.2 54.7Z" fill="#ff0000" stroke="#ff0000" stroke-width="1.0" stroke-linejoin="round"/>
<path d="M617.4 94.9L618.7 55.5L613.4 76.2Z" fill="url(#g258)" stroke="url(#g258)" stroke-width="1.0" stroke-linejoin="round"/>
<path d="M540.9 148.7L546.2 147.5L542.1 146.1Z" fill="#ff0000" stroke="#ff0000" stroke-width="1.0" stroke-linejoin="round"/>
<path d="M617.4 94.9L622.8 58L618.7 55.5Z" fill="url(#g259)" stroke="url(#g259)" stroke-width="1.0" stroke-linejoin="round"/>
<path d="M583.9 148.9L585.1 146.2L579.8 147.4Z" fill="#ff0100" stroke="#ff0100" stroke-width="1.0" stroke-linejoin="round"/>
<path d="M660.4 57.6L661.7 55L656.3 56.1Z" fill="#ff0000" stroke="#ff0000" stroke-width="1.0" stroke-linejoin="round"/>
<path d="M583.9 148.9L589.2 147.7L585.1 146.2Z" fill="#ff0100" stroke="#ff0100" stroke-width="1.0" stroke-linejoin="round"/>
<path d="M550.3 149L551.6 146.4L546.2 147.5ZM660.4 57.6L665.7 56.5L661.7 55Z" fill="#ff0000" stroke="#ff0000" stroke-width="1.0" stroke-linejoin="round"/>
<path d="M626.8 61.9L628.1 55.2L622.8 58Z" fill="url(#g260)" stroke="url(#g260)" stroke-width="1.0" stroke-linejoin="round"/>
<path d="M550.3 149L555.6 147.9L551.6 146.4Z" fill="#ff0000" stroke="#ff0000" stroke-width="1.0" stroke-linejoin="round"/>
<path d="M626.8 61.9L632.2 56.7L628.1 55.2Z" fill="url(#g261)" stroke="url(#g261)" stroke-width="1.0" stroke-linejoin="round"/>
<path d="M593.3 149.2L594.5 145.2L589.2 147.7Z" fill="url(#g262)" stroke="url(#g262)" stroke-width="1.0" stroke-linejoin="round"/>
<path d="M593.3 149.2L598.6 147.5L594.5 145.2Z" fill="url(#g263)" stroke="url(#g263)" stroke-width="1.0" stroke-linejoin="round"/>
<path d="M559.7 149.4L561 146.7L555.6 147.9Z" fill="#ff0000" stroke="#ff0000" stroke-width="1.0" stroke-linejoin="round"/>
<path d="M636.3 58.4L637.5 55.5L632.2 56.7Z" fill="#ff0002" stroke="#ff0002" stroke-width="1.0" stroke-linejoin="round"/>
<path d="M559.7 149.4L565 148.2L561 146.7ZM526.2 149.5L527.4 146.9L522.1 148Z" fill="#ff0000" stroke="#ff0000" stroke-width="1.0" stroke-linejoin="round"/>
<path d="M636.3 58.4L641.6 56.9L637.5 55.5Z" fill="#ff0002" stroke="#ff0002" stroke-width="1.0" stroke-linejoin="round"/>
<path d="M602.7 149.4L603.9 129.3L598.6 147.5Z" fill="url(#g264)" stroke="url(#g264)" stroke-width="1.0" stroke-linejoin="round"/>
<path d="M526.2 149.5L531.5 148.3L527.4 146.9Z" fill="#ff0000" stroke="#ff0000" stroke-width="1.0" stroke-linejoin="round"/>
<path d="M602.7 149.4L608 140.3L603.9 129.3Z" fill="url(#g265)" stroke="url(#g265)" stroke-width="1.0" stroke-linejoin="round"/>
<path d="M569.1 149.7L570.4 147.1L565 148.2ZM645.7 58.4L646.9 55.8L641.6 56.9ZM569.1 149.7L574.5 148.6L570.4 147.1ZM535.6 149.8L536.8 147.2L531.5 148.3ZM645.7 58.4L651 57.3L646.9 55.8Z" fill="#ff0000" stroke="#ff0000" stroke-width="1.0" stroke-linejoin="round"/>
<path d="M612.1 146.4L613.4 76.2L608 140.3Z" fill="url(#g266)" stroke="url(#g266)" stroke-width="1.0" stroke-linejoin="round"/>
<path d="M535.6 149.8L540.9 148.7L536.8 147.2Z" fill="#ff0000" stroke="#ff0000" stroke-width="1.0" stroke-linejoin="round"/>
<path d="M612.1 146.4L617.4 94.9L613.4 76.2Z" fill="url(#g267)" stroke="url(#g267)" stroke-width="1.0" stroke-linejoin="round"/>
<path d="M578.5 150.1L579.8 147.4L574.5 148.6ZM655.1 58.8L656.3 56.1L651 57.3ZM578.5 150.1L583.9 148.9L579.8 147.4ZM545 150.2L546.2 147.5L540.9 148.7ZM655.1 58.8L660.4 57.6L656.3 56.1Z" fill="#ff0000" stroke="#ff0000" stroke-width="1.0" stroke-linejoin="round"/>
<path d="M621.5 116.5L622.8 58L617.4 94.9Z" fill="url(#g268)" stroke="url(#g268)" stroke-width="1.0" stroke-linejoin="round"/>
<path d="M545 150.2L550.3 149L546.2 147.5Z" fill="#ff0000" stroke="#ff0000" stroke-width="1.0" stroke-linejoin="round"/>
<path d="M621.5 116.5L626.8 61.9L622.8 58Z" fill="url(#g269)" stroke="url(#g269)" stroke-width="1.0" stroke-linejoin="round"/>
<path d="M587.9 150.4L589.2 147.7L583.9 148.9ZM587.9 150.4L593.3 149.2L589.2 147.7ZM554.4 150.5L555.6 147.9L550.3 149Z" fill="#ff0000" stroke="#ff0000" stroke-width="1.0" stroke-linejoin="round"/>
<path d="M630.9 68.7L632.2 56.7L626.8 61.9Z" fill="url(#g270)" stroke="url(#g270)" stroke-width="1.0" stroke-linejoin="round"/>
<path d="M554.4 150.5L559.7 149.4L555.6 147.9Z" fill="#ff0000" stroke="#ff0000" stroke-width="1.0" stroke-linejoin="round"/>
<path d="M630.9 68.7L636.3 58.4L632.2 56.7Z" fill="url(#g271)" stroke="url(#g271)" stroke-width="1.0" stroke-linejoin="round"/>
<path d="M597.4 150.7L598.6 147.5L593.3 149.2Z" fill="url(#g272)" stroke="url(#g272)" stroke-width="1.0" stroke-linejoin="round"/>
<path d="M597.4 150.7L602.7 149.4L598.6 147.5Z" fill="url(#g273)" stroke="url(#g273)" stroke-width="1.0" stroke-linejoin="round"/>
<path d="M563.8 150.9L565 148.2L559.7 149.4Z" fill="#ff0000" stroke="#ff0000" stroke-width="1.0" stroke-linejoin="round"/>
<path d="M640.3 60.3L641.6 56.9L636.3 58.4Z" fill="url(#g274)" stroke="url(#g274)" stroke-width="1.0" stroke-linejoin="round"/>
<path d="M563.8 150.9L569.1 149.7L565 148.2ZM530.2 151L531.5 148.3L526.2 149.5Z" fill="#ff0000" stroke="#ff0000" stroke-width="1.0" stroke-linejoin="round"/>
<path d="M640.3 60.3L645.7 58.4L641.6 56.9Z" fill="url(#g275)" stroke="url(#g275)" stroke-width="1.0" stroke-linejoin="round"/>
<path d="M606.8 151L608 140.3L602.7 149.4Z" fill="url(#g276)" stroke="url(#g276)" stroke-width="1.0" stroke-linejoin="round"/>
<path d="M530.2 151L535.6 149.8L531.5 148.3Z" fill="#ff0000" stroke="#ff0000" stroke-width="1.0" stroke-linejoin="round"/>
<path d="M606.8 151L612.1 146.4L608 140.3Z" fill="url(#g277)" stroke="url(#g277)" stroke-width="1.0" stroke-linejoin="round"/>
<path d="M573.2 151.2L574.5 148.6L569.1 149.7ZM649.7 60L651 57.3L645.7 58.4ZM573.2 151.2L578.5 150.1L574.5 148.6ZM539.6 151.3L540.9 148.7L535.6 149.8ZM649.7 60L655.1 58.8L651 57.3Z" fill="#ff0000" stroke="#ff0000" stroke-width="1.0" stroke-linejoin="round"/>
<path d="M616.2 150L617.4 94.9L612.1 146.4Z" fill="url(#g278)" stroke="url(#g278)" stroke-width="1.0" stroke-linejoin="round"/>
<path d="M539.6 151.3L545 150.2L540.9 148.7Z" fill="#ff0000" stroke="#ff0000" stroke-width="1.0" stroke-linejoin="round"/>
<path d="M616.2 150L621.5 116.5L617.4 94.9Z" fill="url(#g279)" stroke="url(#g279)" stroke-width="1.0" stroke-linejoin="round"/>
<path d="M582.6 151.5L583.9 148.9L578.5 150.1ZM582.6 151.5L587.9 150.4L583.9 148.9ZM549.1 151.7L550.3 149L545 150.2Z" fill="#ff0000" stroke="#ff0000" stroke-width="1.0" stroke-linejoin="round"/>
<path d="M625.6 134.1L626.8 61.9L621.5 116.5Z" fill="url(#g280)" stroke="url(#g280)" stroke-width="1.0" stroke-linejoin="round"/>
<path d="M549.1 151.7L554.4 150.5L550.3 149Z" fill="#ff0000" stroke="#ff0000" stroke-width="1.0" stroke-linejoin="round"/>
<path d="M625.6 134.1L630.9 68.7L626.8 61.9Z" fill="url(#g281)" stroke="url(#g281)" stroke-width="1.0" stroke-linejoin="round"/>
<path d="M592 151.9L593.3 149.2L587.9 150.4ZM592 151.9L597.4 150.7L593.3 149.2ZM558.5 152L559.7 149.4L554.4 150.5Z" fill="#ff0000" stroke="#ff0000" stroke-width="1.0" stroke-linejoin="round"/>
<path d="M635 81L636.3 58.4L630.9 68.7Z" fill="url(#g282)" stroke="url(#g282)" stroke-width="1.0" stroke-linejoin="round"/>
<path d="M558.5 152L563.8 150.9L559.7 149.4Z" fill="#ff0000" stroke="#ff0000" stroke-width="1.0" stroke-linejoin="round"/>
<path d="M635 81L640.3 60.3L636.3 58.4Z" fill="url(#g283)" stroke="url(#g283)" stroke-width="1.0" stroke-linejoin="round"/>
<path d="M601.4 152.2L602.7 149.4L597.4 150.7Z" fill="#ff0100" stroke="#ff0100" stroke-width="1.0" stroke-linejoin="round"/>
<path d="M601.4 152.2L606.8 151L602.7 149.4Z" fill="#ff0200" stroke="#ff0200" stroke-width="1.0" stroke-linejoin="round"/>
<path d="M567.9 152.3L569.1 149.7L563.8 150.9Z" fill="#ff0000" stroke="#ff0000" stroke-width="1.0" stroke-linejoin="round"/>
<path d="M644.4 62.8L645.7 58.4L640.3 60.3Z" fill="url(#g284)" stroke="url(#g284)" stroke-width="1.0" stroke-linejoin="round"/>
<path d="M567.9 152.3L573.2 151.2L569.1 149.7ZM534.3 152.5L535.6 149.8L530.2 151Z" fill="#ff0000" stroke="#ff0000" stroke-width="1.0" stroke-linejoin="round"/>
<path d="M644.4 62.8L649.7 60L645.7 58.4Z" fill="url(#g285)" stroke="url(#g285)" stroke-width="1.0" stroke-linejoin="round"/>
<path d="M610.8 152.5L612.1 146.4L606.8 151Z" fill="url(#g286)" stroke="url(#g286)" stroke-width="1.0" stroke-linejoin="round"/>
<path d="M534.3 152.5L539.6 151.3L535.6 149.8Z" fill="#ff0000" stroke="#ff0000" stroke-width="1.0" stroke-linejoin="round"/>
<path d="M610.8 152.5L616.2 150L612.1 146.4Z" fill="url(#g287)" stroke="url(#g287)" stroke-width="1.0" stroke-linejoin="round"/>
<path d="M577.3 152.7L578.5 150.1L573.2 151.2ZM577.3 152.7L582.6 151.5L578.5 150.1ZM543.7 152.8L545 150.2L539.6 151.3Z" fill="#ff0000" stroke="#ff0000" stroke-width="1.0" stroke-linejoin="round"/>
<path d="M620.3 152.3L621.5 116.5L616.2 150Z" fill="url(#g288)" stroke="url(#g288)" stroke-width="1.0" stroke-linejoin="round"/>
<path d="M543.7 152.8L549.1 151.7L545 150.2Z" fill="#ff0000" stroke="#ff0000" stroke-width="1.0" stroke-linejoin="round"/>
<path d="M620.3 152.3L625.6 134.1L621.5 116.5Z" fill="url(#g289)" stroke="url(#g289)" stroke-width="1.0" stroke-linejoin="round"/>
<path d="M586.7 153L587.9 150.4L582.6 151.5ZM586.7 153L592 151.9L587.9 150.4ZM553.1 153.1L554.4 150.5L549.1 151.7Z" fill="#ff0000" stroke="#ff0000" stroke-width="1.0" stroke-linejoin="round"/>
<path d="M629.7 145.1L630.9 68.7L625.6 134.1Z" fill="url(#g290)" stroke="url(#g290)" stroke-width="1.0" stroke-linejoin="round"/>
<path d="M553.1 153.1L558.5 152L554.4 150.5Z" fill="#ff0000" stroke="#ff0000" stroke-width="1.0" stroke-linejoin="round"/>
<path d="M629.7 145.1L635 81L630.9 68.7Z" fill="url(#g291)" stroke="url(#g291)" stroke-width="1.0" stroke-linejoin="round"/>
<path d="M596.1 153.4L597.4 150.7L592 151.9ZM596.1 153.4L601.4 152.2L597.4 150.7ZM562.5 153.5L563.8 150.9L558.5 152Z" fill="#ff0000" stroke="#ff0000" stroke-width="1.0" stroke-linejoin="round"/>
<path d="M639.1 99.7L640.3 60.3L635 81Z" fill="url(#g292)" stroke="url(#g292)" stroke-width="1.0" stroke-linejoin="round"/>
<path d="M562.5 153.5L567.9 152.3L563.8 150.9Z" fill="#ff0000" stroke="#ff0000" stroke-width="1.0" stroke-linejoin="round"/>
<path d="M639.1 99.7L644.4 62.8L640.3 60.3Z" fill="url(#g293)" stroke="url(#g293)" stroke-width="1.0" stroke-linejoin="round"/>
<path d="M605.5 153.7L606.8 151L601.4 152.2ZM605.5 153.7L610.8 152.5L606.8 151Z" fill="#ff0100" stroke="#ff0100" stroke-width="1.0" stroke-linejoin="round"/>
<path d="M572 153.8L573.2 151.2L567.9 152.3ZM572 153.8L577.3 152.7L573.2 151.2ZM538.4 153.9L539.6 151.3L534.3 152.5Z" fill="#ff0000" stroke="#ff0000" stroke-width="1.0" stroke-linejoin="round"/>
<path d="M614.9 154L616.2 150L610.8 152.5Z" fill="url(#g294)" stroke="url(#g294)" stroke-width="1.0" stroke-linejoin="round"/>
<path d="M538.4 153.9L543.7 152.8L539.6 151.3Z" fill="#ff0000" stroke="#ff0000" stroke-width="1.0" stroke-linejoin="round"/>
<path d="M614.9 154L620.3 152.3L616.2 150Z" fill="url(#g295)" stroke="url(#g295)" stroke-width="1.0" stroke-linejoin="round"/>
<path d="M581.4 154.2L582.6 151.5L577.3 152.7ZM581.4 154.2L586.7 153L582.6 151.5ZM547.8 154.3L549.1 151.7L543.7 152.8Z" fill="#ff0000" stroke="#ff0000" stroke-width="1.0" stroke-linejoin="round"/>
<path d="M624.3 154.1L625.6 134.1L620.3 152.3Z" fill="url(#g296)" stroke="url(#g296)" stroke-width="1.0" stroke-linejoin="round"/>
<path d="M547.8 154.3L553.1 153.1L549.1 151.7Z" fill="#ff0000" stroke="#ff0000" stroke-width="1.0" stroke-linejoin="round"/>
<path d="M624.3 154.1L629.7 145.1L625.6 134.1Z" fill="url(#g297)" stroke="url(#g297)" stroke-width="1.0" stroke-linejoin="round"/>
<path d="M590.8 154.5L592 151.9L586.7 153ZM590.8 154.5L596.1 153.4L592 151.9ZM557.2 154.6L558.5 152L553.1 153.1Z" fill="#ff0000" stroke="#ff0000" stroke-width="1.0" stroke-linejoin="round"/>
<path d="M633.7 151.2L635 81L629.7 145.1Z" fill="url(#g298)" stroke="url(#g298)" stroke-width="1.0" stroke-linejoin="round"/>
<path d="M557.2 154.6L562.5 153.5L558.5 152Z" fill="#ff0000" stroke="#ff0000" stroke-width="1.0" stroke-linejoin="round"/>
<path d="M633.7 151.2L639.1 99.7L635 81Z" fill="url(#g299)" stroke="url(#g299)" stroke-width="1.0" stroke-linejoin="round"/>
<path d="M600.2 154.9L601.4 152.2L596.1 153.4ZM600.2 154.9L605.5 153.7L601.4 152.2ZM566.6 155L567.9 152.3L562.5 153.5ZM566.6 155L572 153.8L567.9 152.3ZM609.6 155.2L610.8 152.5L605.5 153.7ZM609.6 155.2L614.9 154L610.8 152.5ZM576 155.3L577.3 152.7L572 153.8ZM576 155.3L581.4 154.2L577.3 152.7ZM542.5 155.4L543.7 152.8L538.4 153.9Z" fill="#ff0000" stroke="#ff0000" stroke-width="1.0" stroke-linejoin="round"/>
<path d="M619 155.5L620.3 152.3L614.9 154Z" fill="url(#g300)" stroke="url(#g300)" stroke-width="1.0" stroke-linejoin="round"/>
<path d="M542.5 155.4L547.8 154.3L543.7 152.8Z" fill="#ff0000" stroke="#ff0000" stroke-width="1.0" stroke-linejoin="round"/>
<path d="M619 155.5L624.3 154.1L620.3 152.3Z" fill="url(#g301)" stroke="url(#g301)" stroke-width="1.0" stroke-linejoin="round"/>
<path d="M585.4 155.7L586.7 153L581.4 154.2ZM585.4 155.7L590.8 154.5L586.7 153ZM551.9 155.8L553.1 153.1L547.8 154.3Z" fill="#ff0000" stroke="#ff0000" stroke-width="1.0" stroke-linejoin="round"/>
<path d="M628.4 155.8L629.7 145.1L624.3 154.1Z" fill="url(#g302)" stroke="url(#g302)" stroke-width="1.0" stroke-linejoin="round"/>
<path d="M551.9 155.8L557.2 154.6L553.1 153.1Z" fill="#ff0000" stroke="#ff0000" stroke-width="1.0" stroke-linejoin="round"/>
<path d="M628.4 155.8L633.7 151.2L629.7 145.1Z" fill="url(#g303)" stroke="url(#g303)" stroke-width="1.0" stroke-linejoin="round"/>
<path d="M594.9 156L596.1 153.4L590.8 154.5ZM594.9 156L600.2 154.9L596.1 153.4ZM561.3 156.1L562.5 153.5L557.2 154.6ZM561.3 156.1L566.6 155L562.5 153.5ZM604.3 156.3L605.5 153.7L600.2 154.9ZM604.3 156.3L609.6 155.2L605.5 153.7ZM570.7 156.5L572 153.8L566.6 155ZM570.7 156.5L576 155.3L572 153.8ZM613.7 156.7L614.9 154L609.6 155.2ZM613.7 156.7L619 155.5L614.9 154ZM580.1 156.8L581.4 154.2L576 155.3ZM580.1 156.8L585.4 155.7L581.4 154.2ZM546.5 156.9L547.8 154.3L542.5 155.4Z" fill="#ff0000" stroke="#ff0000" stroke-width="1.0" stroke-linejoin="round"/>
<path d="M623.1 157L624.3 154.1L619 155.5Z" fill="#ff0100" stroke="#ff0100" stroke-width="1.0" stroke-linejoin="round"/>
<path d="M546.5 156.9L551.9 155.8L547.8 154.3Z" fill="#ff0000" stroke="#ff0000" stroke-width="1.0" stroke-linejoin="round"/>
<path d="M623.1 157L628.4 155.8L624.3 154.1Z" fill="#ff0200" stroke="#ff0200" stroke-width="1.0" stroke-linejoin="round"/>
<path d="M589.5 157.1L590.8 154.5L585.4 155.7ZM589.5 157.1L594.9 156L590.8 154.5ZM556 157.3L557.2 154.6L551.9 155.8ZM556 157.3L561.3 156.1L557.2 154.6ZM598.9 157.5L600.2 154.9L594.9 156ZM598.9 157.5L604.3 156.3L600.2 154.9ZM565.4 157.6L566.6 155L561.3 156.1ZM565.4 157.6L570.7 156.5L566.6 155ZM608.3 157.8L609.6 155.2L604.3 156.3ZM608.3 157.8L613.7 156.7L609.6 155.2ZM574.8 157.9L576 155.3L570.7 156.5ZM574.8 157.9L580.1 156.8L576 155.3ZM617.8 158.2L619 155.5L613.7 156.7ZM617.8 158.2L623.1 157L619 155.5ZM584.2 158.3L585.4 155.7L580.1 156.8ZM584.2 158.3L589.5 157.1L585.4 155.7ZM550.6 158.4L551.9 155.8L546.5 156.9ZM550.6 158.4L556 157.3L551.9 155.8ZM593.6 158.6L594.9 156L589.5 157.1ZM593.6 158.6L598.9 157.5L594.9 156ZM560 158.7L561.3 156.1L556 157.3ZM560 158.7L565.4 157.6L561.3 156.1ZM603 159L604.3 156.3L598.9 157.5ZM603 159L608.3 157.8L604.3 156.3ZM569.4 159.1L570.7 156.5L565.4 157.6ZM569.4 159.1L574.8 157.9L570.7 156.5ZM612.4 159.3L613.7 156.7L608.3 157.8ZM612.4 159.3L617.8 158.2L613.7 156.7ZM578.9 159.4L580.1 156.8L574.8 157.9ZM578.9 159.4L584.2 158.3L580.1 156.8ZM588.3 159.8L589.5 157.1L584.2 158.3ZM588.3 159.8L593.6 158.6L589.5 157.1ZM554.7 159.9L556 157.3L550.6 158.4ZM554.7 159.9L560 158.7L556 157.3ZM597.7 160.1L598.9 157.5L593.6 158.6ZM597.7 160.1L603 159L598.9 157.5ZM564.1 160.2L565.4 157.6L560 158.7ZM564.1 160.2L569.4 159.1L565.4 157.6ZM607.1 160.4L608.3 157.8L603 159ZM607.1 160.4L612.4 159.3L608.3 157.8ZM573.5 160.6L574.8 157.9L569.4 159.1ZM573.5 160.6L578.9 159.4L574.8 157.9ZM582.9 160.9L584.2 158.3L578.9 159.4ZM582.9 160.9L588.3 159.8L584.2 158.3ZM592.3 161.2L593.6 158.6L588.3 159.8ZM592.3 161.2L597.7 160.1L593.6 158.6ZM558.8 161.4L560 158.7L554.7 159.9ZM558.8 161.4L564.1 160.2L560 158.7ZM601.8 161.6L603 159L597.7 160.1ZM601.8 161.6L607.1 160.4L603 159ZM568.2 161.7L569.4 159.1L564.1 160.2ZM568.2 161.7L573.5 160.6L569.4 159.1ZM577.6 162L578.9 159.4L573.5 160.6ZM577.6 162L582.9 160.9L578.9 159.4ZM587 162.4L588.3 159.8L582.9 160.9ZM587 162.4L592.3 161.2L588.3 159.8ZM596.4 162.7L597.7 160.1L592.3 161.2ZM596.4 162.7L601.8 161.6L597.7 160.1ZM562.9 162.8L564.1 160.2L558.8 161.4ZM562.9 162.8L568.2 161.7L564.1 160.2ZM572.3 163.2L573.5 160.6L568.2 161.7ZM572.3 163.2L577.6 162L573.5 160.6ZM581.7 163.5L582.9 160.9L577.6 162ZM581.7 163.5L587 162.4L582.9 160.9ZM591.1 163.9L592.3 161.2L587 162.4ZM591.1 163.9L596.4 162.7L592.3 161.2ZM566.9 164.3L568.2 161.7L562.9 162.8ZM566.9 164.3L572.3 163.2L568.2 161.7ZM576.4 164.7L577.6 162L572.3 163.2ZM576.4 164.7L581.7 163.5L577.6 162ZM585.8 165L587 162.4L581.7 163.5ZM585.8 165L591.1 163.9L587 162.4ZM571 165.8L572.3 163.2L566.9 164.3ZM571 165.8L576.4 164.7L572.3 163.2ZM580.4 166.2L581.7 163.5L576.4 164.7ZM580.4 166.2L585.8 165L581.7 163.5ZM575.1 167.3L576.4 164.7L571 165.8ZM575.1 167.3L580.4 166.2L576.4 164.7Z" fill="#ff0000" stroke="#ff0000" stroke-width="1.0" stroke-linejoin="round"/>
<path d="M497.6 47.7V139.1" stroke="#b0b0b0" stroke-width="1.1" fill="none"/>
<path d="M497.6 139.1L575.1 167.3L676.4 145.6" stroke="#4a4a4a" stroke-width="0.75" fill="none" stroke-linejoin="round"/>
<path d="M497.6 139.1h-2.4M497.6 123.9h-2.4M497.6 108.6h-2.4M497.6 93.4h-2.4M497.6 78.2h-2.4M497.6 62.9h-2.4M497.6 47.7h-2.4M575.1 167.3l-2.3 1.1M575.1 167.3l1.7 0.6M555.7 160.2l-2.3 1.1M600.4 161.9l1.7 0.6M536.4 153.2l-2.3 1.1M625.8 156.5l1.7 0.6M517 146.2l-2.3 1.1M651.1 151l1.7 0.6M497.6 139.1l-2.3 1.1M676.4 145.6l1.7 0.6" stroke="#555" stroke-width="0.6" fill="none"/>
<text x="493.4" y="141.4" font-size="6.4" text-anchor="end" fill="#555555">-4</text>
<text x="493.4" y="126.2" font-size="6.4" text-anchor="end" fill="#555555">-2</text>
<text x="493.4" y="110.9" font-size="6.4" text-anchor="end" fill="#555555">0</text>
<text x="493.4" y="95.7" font-size="6.4" text-anchor="end" fill="#555555">2</text>
<text x="493.4" y="80.5" font-size="6.4" text-anchor="end" fill="#555555">4</text>
<text x="493.4" y="65.2" font-size="6.4" text-anchor="end" fill="#555555">6</text>
<text x="493.4" y="50" font-size="6.4" text-anchor="end" fill="#555555">8</text>
<text x="490.8" y="146.4" font-size="6.4" text-anchor="middle" fill="#555555">4</text>
<text x="510.3" y="154.1" font-size="6.4" text-anchor="middle" fill="#555555">2</text>
<text x="529.8" y="161" font-size="6.4" text-anchor="middle" fill="#555555">0</text>
<text x="549.1" y="168.3" font-size="6.4" text-anchor="middle" fill="#555555">-2</text>
<text x="568.2" y="175.2" font-size="6.4" text-anchor="middle" fill="#555555">-4</text>
<text x="582.1" y="176.3" font-size="6.4" text-anchor="middle" fill="#555555">-4</text>
<text x="607.3" y="170.6" font-size="6.4" text-anchor="middle" fill="#555555">-2</text>
<text x="631.8" y="164.7" font-size="6.4" text-anchor="middle" fill="#555555">0</text>
<text x="657.3" y="159.2" font-size="6.4" text-anchor="middle" fill="#555555">2</text>
<text x="682.1" y="153.8" font-size="6.4" text-anchor="middle" fill="#555555">4</text>
<text x="540" y="182.9" font-size="11.5" text-anchor="middle" fill="#000">t</text>
<text x="617.5" y="184.6" font-size="11.5" text-anchor="middle" fill="#000">x</text>
<text transform="translate(478.9,93.9) rotate(-90)" font-size="11.6" text-anchor="middle" fill="#111">U<tspan font-size="9" dy="5.1">74</tspan><tspan dy="-5.1">(x,t)</tspan></text>
<text x="602.3" y="9.5" font-size="11.6" font-weight="bold" text-anchor="middle" fill="#000">(c<tspan font-size="9.5" dy="5.4">1</tspan><tspan dy="-5.4">)</tspan></text>
<circle cx="230.4" cy="396.3" r="0.7" fill="#555"/><circle cx="470.5" cy="396.2" r="0.7" fill="#555"/>
</svg></body></html>
